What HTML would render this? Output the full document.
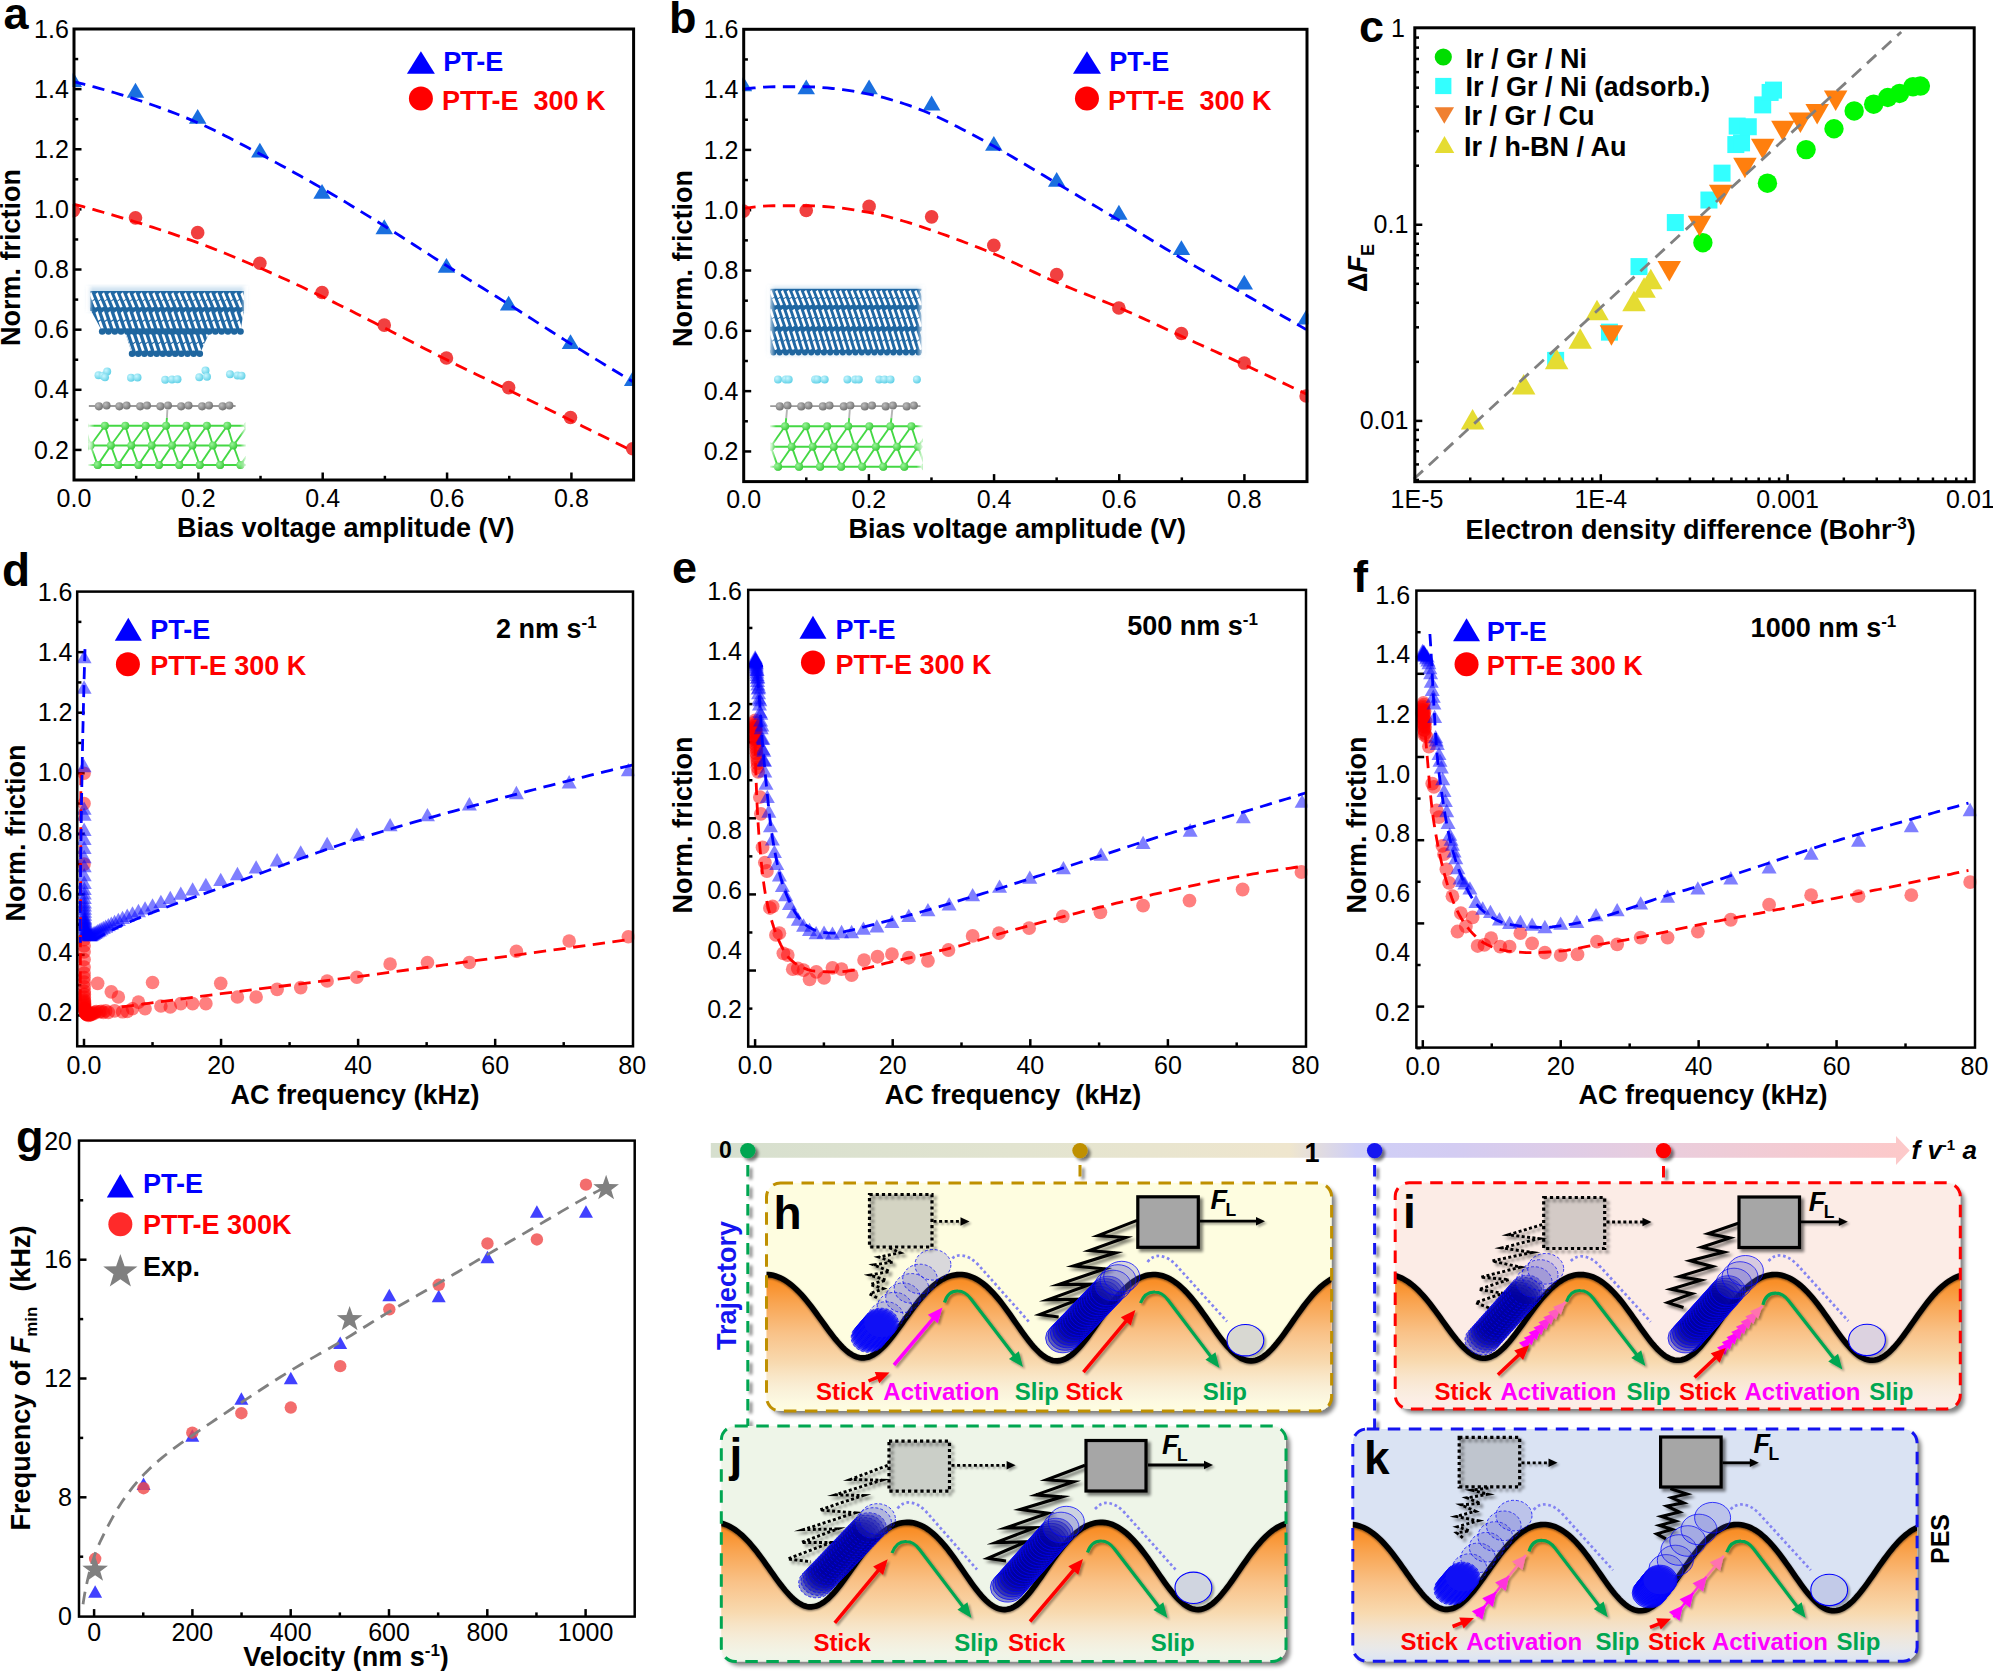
<!DOCTYPE html>
<html><head><meta charset="utf-8"><title>Figure</title>
<style>html,body{margin:0;padding:0;background:#fff}body{width:1993px;height:1671px;overflow:hidden}svg{display:block}</style>
</head><body>
<svg width="1993" height="1671" viewBox="0 0 1993 1671" font-family="'Liberation Sans', sans-serif">
<defs>
<filter id="sh" x="-30%" y="-30%" width="170%" height="170%"><feGaussianBlur in="SourceAlpha" stdDeviation="1.4"/><feOffset dx="2.6" dy="2.6"/><feComponentTransfer><feFuncA type="linear" slope="0.5"/></feComponentTransfer><feMerge><feMergeNode/><feMergeNode in="SourceGraphic"/></feMerge></filter>
<filter id="sh1" x="-30%" y="-30%" width="170%" height="170%"><feGaussianBlur in="SourceAlpha" stdDeviation="1.2"/><feOffset dx="2" dy="2"/><feComponentTransfer><feFuncA type="linear" slope="0.35"/></feComponentTransfer><feMerge><feMergeNode/><feMergeNode in="SourceGraphic"/></feMerge></filter>
<filter id="shw" filterUnits="userSpaceOnUse" x="600" y="1100" width="1400" height="600"><feGaussianBlur in="SourceAlpha" stdDeviation="1.1"/><feOffset dx="0" dy="1.2"/><feComponentTransfer><feFuncA type="linear" slope="0.55"/></feComponentTransfer><feMerge><feMergeNode/><feMergeNode in="SourceGraphic"/></feMerge></filter>
<filter id="shp" x="-5%" y="-10%" width="112%" height="125%"><feGaussianBlur in="SourceAlpha" stdDeviation="2.2"/><feOffset dx="3.5" dy="3.5"/><feComponentTransfer><feFuncA type="linear" slope="0.5"/></feComponentTransfer><feMerge><feMergeNode/><feMergeNode in="SourceGraphic"/></feMerge></filter>
<filter id="shu" filterUnits="userSpaceOnUse" x="600" y="1100" width="1400" height="600"><feGaussianBlur in="SourceAlpha" stdDeviation="1.4"/><feOffset dx="2.6" dy="2.6"/><feComponentTransfer><feFuncA type="linear" slope="0.5"/></feComponentTransfer><feMerge><feMergeNode/><feMergeNode in="SourceGraphic"/></feMerge></filter>
<linearGradient id="fadeL" x1="0" x2="1" y1="0" y2="0"><stop offset="0" stop-color="#fff" stop-opacity="1"/><stop offset="1" stop-color="#fff" stop-opacity="0"/></linearGradient>
<linearGradient id="fadeR" x1="0" x2="1" y1="0" y2="0"><stop offset="0" stop-color="#fff" stop-opacity="0"/><stop offset="1" stop-color="#fff" stop-opacity="1"/></linearGradient>
<filter id="blur2"><feGaussianBlur stdDeviation="2"/></filter>
<radialGradient id="gcy" cx="0.35" cy="0.35" r="0.7"><stop offset="0" stop-color="#C8F6FF"/><stop offset="1" stop-color="#5FD0E6"/></radialGradient>
<radialGradient id="ggr" cx="0.35" cy="0.35" r="0.7"><stop offset="0" stop-color="#BDBDBD"/><stop offset="1" stop-color="#707070"/></radialGradient>
<radialGradient id="ggn" cx="0.35" cy="0.35" r="0.7"><stop offset="0" stop-color="#9AF59A"/><stop offset="1" stop-color="#36C936"/></radialGradient>
</defs>
<rect width="1993" height="1671" fill="#fff"/>
<clipPath id="clipa"><rect x="72.6" y="27.6" width="562.4" height="453.8"/></clipPath>
<clipPath id="clipina"><rect x="89" y="280" width="157" height="190"/></clipPath>
<line x1="198.36" y1="480" x2="198.36" y2="472.5" stroke="#000" stroke-width="2.5" />
<line x1="322.71" y1="480" x2="322.71" y2="472.5" stroke="#000" stroke-width="2.5" />
<line x1="447.07" y1="480" x2="447.07" y2="472.5" stroke="#000" stroke-width="2.5" />
<line x1="571.42" y1="480" x2="571.42" y2="472.5" stroke="#000" stroke-width="2.5" />
<line x1="136.18" y1="480" x2="136.18" y2="475.8" stroke="#000" stroke-width="2.5" />
<line x1="260.53" y1="480" x2="260.53" y2="475.8" stroke="#000" stroke-width="2.5" />
<line x1="384.89" y1="480" x2="384.89" y2="475.8" stroke="#000" stroke-width="2.5" />
<line x1="509.24" y1="480" x2="509.24" y2="475.8" stroke="#000" stroke-width="2.5" />
<line x1="74" y1="89.13" x2="81.5" y2="89.13" stroke="#000" stroke-width="2.5" />
<line x1="74" y1="149.27" x2="81.5" y2="149.27" stroke="#000" stroke-width="2.5" />
<line x1="74" y1="209.4" x2="81.5" y2="209.4" stroke="#000" stroke-width="2.5" />
<line x1="74" y1="269.53" x2="81.5" y2="269.53" stroke="#000" stroke-width="2.5" />
<line x1="74" y1="329.67" x2="81.5" y2="329.67" stroke="#000" stroke-width="2.5" />
<line x1="74" y1="389.8" x2="81.5" y2="389.8" stroke="#000" stroke-width="2.5" />
<line x1="74" y1="449.93" x2="81.5" y2="449.93" stroke="#000" stroke-width="2.5" />
<line x1="74" y1="59.07" x2="78.2" y2="59.07" stroke="#000" stroke-width="2.5" />
<line x1="74" y1="119.2" x2="78.2" y2="119.2" stroke="#000" stroke-width="2.5" />
<line x1="74" y1="179.33" x2="78.2" y2="179.33" stroke="#000" stroke-width="2.5" />
<line x1="74" y1="239.47" x2="78.2" y2="239.47" stroke="#000" stroke-width="2.5" />
<line x1="74" y1="299.6" x2="78.2" y2="299.6" stroke="#000" stroke-width="2.5" />
<line x1="74" y1="359.73" x2="78.2" y2="359.73" stroke="#000" stroke-width="2.5" />
<line x1="74" y1="419.87" x2="78.2" y2="419.87" stroke="#000" stroke-width="2.5" />
<text x="74" y="506.6" font-size="25" fill="#000" text-anchor="middle" >0.0</text>
<text x="198.36" y="506.6" font-size="25" fill="#000" text-anchor="middle" >0.2</text>
<text x="322.71" y="506.6" font-size="25" fill="#000" text-anchor="middle" >0.4</text>
<text x="447.07" y="506.6" font-size="25" fill="#000" text-anchor="middle" >0.6</text>
<text x="571.42" y="506.6" font-size="25" fill="#000" text-anchor="middle" >0.8</text>
<text x="68.8" y="37.6" font-size="25" fill="#000" text-anchor="end" >1.6</text>
<text x="68.8" y="97.73" font-size="25" fill="#000" text-anchor="end" >1.4</text>
<text x="68.8" y="157.87" font-size="25" fill="#000" text-anchor="end" >1.2</text>
<text x="68.8" y="218" font-size="25" fill="#000" text-anchor="end" >1.0</text>
<text x="68.8" y="278.13" font-size="25" fill="#000" text-anchor="end" >0.8</text>
<text x="68.8" y="338.27" font-size="25" fill="#000" text-anchor="end" >0.6</text>
<text x="68.8" y="398.4" font-size="25" fill="#000" text-anchor="end" >0.4</text>
<text x="68.8" y="458.53" font-size="25" fill="#000" text-anchor="end" >0.2</text>
<text x="345.8" y="536.5" font-size="27" font-weight="bold" fill="#000" text-anchor="middle" >Bias voltage amplitude (V)</text>
<text x="20" y="257.5" font-size="27" font-weight="bold" fill="#000" text-anchor="middle" transform="rotate(-90 20 257.5)" >Norm. friction</text>
<text x="3.5" y="28.5" font-size="45" font-weight="bold" fill="#000" text-anchor="start" >a</text>
<g clip-path="url(#clipa)">
<circle cx="73.29" cy="210.78" r="6.8" fill="#F14040" fill-opacity="1" />
<circle cx="135.48" cy="217.84" r="6.8" fill="#F14040" fill-opacity="1" />
<circle cx="197.67" cy="232.64" r="6.8" fill="#F14040" fill-opacity="1" />
<circle cx="259.87" cy="263.23" r="6.8" fill="#F14040" fill-opacity="1" />
<circle cx="322.06" cy="292.48" r="6.8" fill="#F14040" fill-opacity="1" />
<circle cx="384.25" cy="325.09" r="6.8" fill="#F14040" fill-opacity="1" />
<circle cx="446.45" cy="358.03" r="6.8" fill="#F14040" fill-opacity="1" />
<circle cx="508.64" cy="387.62" r="6.8" fill="#F14040" fill-opacity="1" />
<circle cx="570.5" cy="417.54" r="6.8" fill="#F14040" fill-opacity="1" />
<circle cx="632.69" cy="448.8" r="6.8" fill="#F14040" fill-opacity="1" />
<path d="M64.54 86.88 L82.04 86.88 L73.29 72.08 Z" fill="#1A6FDF" fill-opacity="1" />
<path d="M126.73 97.64 L144.23 97.64 L135.48 82.84 Z" fill="#1A6FDF" fill-opacity="1" />
<path d="M188.92 123.86 L206.42 123.86 L197.67 109.06 Z" fill="#1A6FDF" fill-opacity="1" />
<path d="M251.12 157.48 L268.62 157.48 L259.87 142.68 Z" fill="#1A6FDF" fill-opacity="1" />
<path d="M313.31 198.83 L330.81 198.83 L322.06 184.03 Z" fill="#1A6FDF" fill-opacity="1" />
<path d="M375.5 234.13 L393 234.13 L384.25 219.33 Z" fill="#1A6FDF" fill-opacity="1" />
<path d="M437.7 272.79 L455.2 272.79 L446.45 257.99 Z" fill="#1A6FDF" fill-opacity="1" />
<path d="M499.89 310.44 L517.39 310.44 L508.64 295.64 Z" fill="#1A6FDF" fill-opacity="1" />
<path d="M561.75 349.1 L579.25 349.1 L570.5 334.3 Z" fill="#1A6FDF" fill-opacity="1" />
<path d="M623.94 386.08 L641.44 386.08 L632.69 371.28 Z" fill="#1A6FDF" fill-opacity="1" />
<path d="M73.29 204.06 L78.27 205.38 L83.25 206.72 L88.22 208.07 L93.18 209.45 L98.14 210.84 L103.1 212.24 L108.05 213.67 L112.99 215.11 L117.93 216.56 L122.86 218.04 L127.79 219.52 L132.72 221.03 L137.63 222.55 L142.55 224.08 L147.46 225.63 L152.37 227.2 L157.27 228.78 L162.17 230.39 L167.06 232.01 L171.94 233.65 L176.82 235.32 L181.69 237 L186.55 238.71 L191.39 240.44 L196.23 242.19 L201.06 243.97 L205.87 245.79 L210.68 247.63 L215.48 249.5 L220.27 251.4 L225.05 253.32 L229.82 255.26 L234.59 257.22 L239.34 259.21 L244.1 261.2 L248.84 263.21 L253.58 265.23 L258.31 267.26 L263.03 269.3 L267.75 271.37 L272.46 273.45 L277.16 275.55 L281.85 277.67 L286.54 279.81 L291.22 281.96 L295.9 284.12 L300.57 286.3 L305.23 288.5 L309.89 290.7 L314.54 292.91 L319.18 295.13 L323.82 297.36 L328.45 299.61 L333.08 301.87 L337.69 304.16 L342.3 306.45 L346.9 308.76 L351.5 311.09 L356.1 313.42 L360.69 315.75 L365.27 318.09 L369.86 320.44 L374.45 322.78 L379.04 325.12 L383.63 327.46 L388.22 329.79 L392.8 332.14 L397.38 334.5 L401.95 336.86 L406.53 339.23 L411.1 341.6 L415.67 343.98 L420.24 346.34 L424.82 348.71 L429.4 351.06 L433.98 353.41 L438.57 355.75 L443.17 358.07 L447.77 360.37 L452.38 362.66 L457 364.94 L461.63 367.21 L466.26 369.46 L470.89 371.71 L475.53 373.96 L480.16 376.2 L484.8 378.43 L489.44 380.67 L494.08 382.91 L498.72 385.15 L503.35 387.4 L507.98 389.65 L512.61 391.91 L517.24 394.16 L521.87 396.42 L526.5 398.68 L531.13 400.94 L535.76 403.19 L540.38 405.45 L545.01 407.72 L549.64 409.98 L554.26 412.24 L558.89 414.51 L563.51 416.78 L568.13 419.06 L572.75 421.33 L577.37 423.61 L581.98 425.9 L586.6 428.18 L591.21 430.47 L595.82 432.76 L600.44 435.05 L605.05 437.34 L609.66 439.64 L614.27 441.94 L618.87 444.24 L623.48 446.54 L628.09 448.85 L632.69 451.15" stroke="#FF0000" stroke-width="2.8" fill="none" stroke-dasharray="12.3 7.5" />
<path d="M73.29 81.69 L78.51 82.94 L83.72 84.23 L88.93 85.56 L94.11 86.93 L99.29 88.33 L104.46 89.77 L109.61 91.24 L114.75 92.75 L119.88 94.29 L124.99 95.85 L130.1 97.45 L135.19 99.08 L140.27 100.74 L145.35 102.45 L150.41 104.2 L155.47 105.99 L160.52 107.83 L165.55 109.7 L170.57 111.61 L175.57 113.56 L180.55 115.55 L185.52 117.57 L190.46 119.63 L195.38 121.72 L200.28 123.84 L205.15 126.04 L210 128.29 L214.82 130.61 L219.63 132.97 L224.42 135.38 L229.2 137.82 L233.97 140.29 L238.72 142.78 L243.47 145.29 L248.21 147.8 L252.95 150.32 L257.69 152.82 L262.43 155.32 L267.16 157.83 L271.89 160.35 L276.61 162.89 L281.32 165.44 L286.03 168.01 L290.73 170.59 L295.42 173.18 L300.1 175.79 L304.77 178.41 L309.44 181.04 L314.1 183.69 L318.75 186.35 L323.39 189.03 L328.01 191.72 L332.63 194.43 L337.24 197.16 L341.84 199.91 L346.44 202.67 L351.02 205.45 L355.6 208.23 L360.17 211.03 L364.74 213.83 L369.3 216.65 L373.86 219.46 L378.41 222.29 L382.97 225.11 L387.51 227.95 L392.05 230.79 L396.58 233.66 L401.1 236.53 L405.61 239.42 L410.12 242.32 L414.63 245.22 L419.13 248.12 L423.64 251.02 L428.14 253.92 L432.65 256.81 L437.17 259.7 L441.69 262.58 L446.22 265.44 L450.76 268.29 L455.3 271.13 L459.85 273.96 L464.4 276.79 L468.95 279.61 L473.51 282.43 L478.07 285.24 L482.63 288.06 L487.18 290.88 L491.74 293.7 L496.29 296.53 L500.84 299.36 L505.38 302.2 L509.92 305.05 L514.45 307.91 L518.97 310.78 L523.49 313.66 L528.01 316.55 L532.52 319.44 L537.03 322.33 L541.54 325.22 L546.06 328.11 L550.57 330.99 L555.09 333.87 L559.62 336.74 L564.15 339.6 L568.69 342.45 L573.23 345.28 L577.78 348.11 L582.34 350.93 L586.9 353.74 L591.46 356.55 L596.03 359.35 L600.6 362.15 L605.17 364.94 L609.75 367.73 L614.33 370.51 L618.91 373.28 L623.5 376.05 L628.09 378.81 L632.69 381.56" stroke="#0000FF" stroke-width="2.8" fill="none" stroke-dasharray="12.3 7.5" />
</g>
<path d="M406.9 73.75 L434.9 73.75 L420.9 51.25 Z" fill="#0000FF" fill-opacity="1" />
<circle cx="420.9" cy="98.4" r="12" fill="#FF0000" fill-opacity="1" />
<text x="443.2" y="71" font-size="27" font-weight="bold" fill="#0000FF" text-anchor="start" >PT-E</text>
<text x="441.9" y="109.6" font-size="27" font-weight="bold" fill="#FF0000" text-anchor="start" >PTT-E&#160;&#160;300 K</text>
<rect x="88" y="287" width="158" height="24" fill="#8FBBDD" opacity="0.45" filter="url(#blur2)"/>
<clipPath id="bb1"><path d="M90.2 291 L244 291 L244 309.3 L90.2 309.3 Z"/></clipPath>
<g clip-path="url(#bb1)">
<rect x="90.2" y="291" width="153.8" height="18.3" fill="#2068A4"/>
<path d="M89.2 293.9 L91.4 292.3 L94.2 299.08 L92 300.68 Z" fill="#fff"/>
<path d="M95.5 293.9 L97.7 292.3 L100.5 299.08 L98.3 300.68 Z" fill="#fff"/>
<path d="M101.8 293.9 L104 292.3 L106.8 299.08 L104.6 300.68 Z" fill="#fff"/>
<path d="M108.1 293.9 L110.3 292.3 L113.1 299.08 L110.9 300.68 Z" fill="#fff"/>
<path d="M114.4 293.9 L116.6 292.3 L119.4 299.08 L117.2 300.68 Z" fill="#fff"/>
<path d="M120.7 293.9 L122.9 292.3 L125.7 299.08 L123.5 300.68 Z" fill="#fff"/>
<path d="M127 293.9 L129.2 292.3 L132 299.08 L129.8 300.68 Z" fill="#fff"/>
<path d="M133.3 293.9 L135.5 292.3 L138.3 299.08 L136.1 300.68 Z" fill="#fff"/>
<path d="M139.6 293.9 L141.8 292.3 L144.6 299.08 L142.4 300.68 Z" fill="#fff"/>
<path d="M145.9 293.9 L148.1 292.3 L150.9 299.08 L148.7 300.68 Z" fill="#fff"/>
<path d="M152.2 293.9 L154.4 292.3 L157.2 299.08 L155 300.68 Z" fill="#fff"/>
<path d="M158.5 293.9 L160.7 292.3 L163.5 299.08 L161.3 300.68 Z" fill="#fff"/>
<path d="M164.8 293.9 L167 292.3 L169.8 299.08 L167.6 300.68 Z" fill="#fff"/>
<path d="M171.1 293.9 L173.3 292.3 L176.1 299.08 L173.9 300.68 Z" fill="#fff"/>
<path d="M177.4 293.9 L179.6 292.3 L182.4 299.08 L180.2 300.68 Z" fill="#fff"/>
<path d="M183.7 293.9 L185.9 292.3 L188.7 299.08 L186.5 300.68 Z" fill="#fff"/>
<path d="M190 293.9 L192.2 292.3 L195 299.08 L192.8 300.68 Z" fill="#fff"/>
<path d="M196.3 293.9 L198.5 292.3 L201.3 299.08 L199.1 300.68 Z" fill="#fff"/>
<path d="M202.6 293.9 L204.8 292.3 L207.6 299.08 L205.4 300.68 Z" fill="#fff"/>
<path d="M208.9 293.9 L211.1 292.3 L213.9 299.08 L211.7 300.68 Z" fill="#fff"/>
<path d="M215.2 293.9 L217.4 292.3 L220.2 299.08 L218 300.68 Z" fill="#fff"/>
<path d="M221.5 293.9 L223.7 292.3 L226.5 299.08 L224.3 300.68 Z" fill="#fff"/>
<path d="M227.8 293.9 L230 292.3 L232.8 299.08 L230.6 300.68 Z" fill="#fff"/>
<path d="M234.1 293.9 L236.3 292.3 L239.1 299.08 L236.9 300.68 Z" fill="#fff"/>
<path d="M240.4 293.9 L242.6 292.3 L245.4 299.08 L243.2 300.68 Z" fill="#fff"/>
<path d="M246.7 293.9 L248.9 292.3 L251.7 299.08 L249.5 300.68 Z" fill="#fff"/>
<path d="M92.35 301.59 L94.55 299.99 L97.35 306.76 L95.15 308.36 Z" fill="#fff"/>
<path d="M98.65 301.59 L100.85 299.99 L103.65 306.76 L101.45 308.36 Z" fill="#fff"/>
<path d="M104.95 301.59 L107.15 299.99 L109.95 306.76 L107.75 308.36 Z" fill="#fff"/>
<path d="M111.25 301.59 L113.45 299.99 L116.25 306.76 L114.05 308.36 Z" fill="#fff"/>
<path d="M117.55 301.59 L119.75 299.99 L122.55 306.76 L120.35 308.36 Z" fill="#fff"/>
<path d="M123.85 301.59 L126.05 299.99 L128.85 306.76 L126.65 308.36 Z" fill="#fff"/>
<path d="M130.15 301.59 L132.35 299.99 L135.15 306.76 L132.95 308.36 Z" fill="#fff"/>
<path d="M136.45 301.59 L138.65 299.99 L141.45 306.76 L139.25 308.36 Z" fill="#fff"/>
<path d="M142.75 301.59 L144.95 299.99 L147.75 306.76 L145.55 308.36 Z" fill="#fff"/>
<path d="M149.05 301.59 L151.25 299.99 L154.05 306.76 L151.85 308.36 Z" fill="#fff"/>
<path d="M155.35 301.59 L157.55 299.99 L160.35 306.76 L158.15 308.36 Z" fill="#fff"/>
<path d="M161.65 301.59 L163.85 299.99 L166.65 306.76 L164.45 308.36 Z" fill="#fff"/>
<path d="M167.95 301.59 L170.15 299.99 L172.95 306.76 L170.75 308.36 Z" fill="#fff"/>
<path d="M174.25 301.59 L176.45 299.99 L179.25 306.76 L177.05 308.36 Z" fill="#fff"/>
<path d="M180.55 301.59 L182.75 299.99 L185.55 306.76 L183.35 308.36 Z" fill="#fff"/>
<path d="M186.85 301.59 L189.05 299.99 L191.85 306.76 L189.65 308.36 Z" fill="#fff"/>
<path d="M193.15 301.59 L195.35 299.99 L198.15 306.76 L195.95 308.36 Z" fill="#fff"/>
<path d="M199.45 301.59 L201.65 299.99 L204.45 306.76 L202.25 308.36 Z" fill="#fff"/>
<path d="M205.75 301.59 L207.95 299.99 L210.75 306.76 L208.55 308.36 Z" fill="#fff"/>
<path d="M212.05 301.59 L214.25 299.99 L217.05 306.76 L214.85 308.36 Z" fill="#fff"/>
<path d="M218.35 301.59 L220.55 299.99 L223.35 306.76 L221.15 308.36 Z" fill="#fff"/>
<path d="M224.65 301.59 L226.85 299.99 L229.65 306.76 L227.45 308.36 Z" fill="#fff"/>
<path d="M230.95 301.59 L233.15 299.99 L235.95 306.76 L233.75 308.36 Z" fill="#fff"/>
<path d="M237.25 301.59 L239.45 299.99 L242.25 306.76 L240.05 308.36 Z" fill="#fff"/>
<path d="M243.55 301.59 L245.75 299.99 L248.55 306.76 L246.35 308.36 Z" fill="#fff"/>
<path d="M249.85 301.59 L252.05 299.99 L254.85 306.76 L252.65 308.36 Z" fill="#fff"/>
</g>
<clipPath id="bb2"><path d="M90.2 309.3 L244 309.3 L240.5 331.5 L102.2 331.5 Z"/></clipPath>
<g clip-path="url(#bb2)">
<rect x="90.2" y="309.3" width="153.8" height="22.2" fill="#2068A4"/>
<path d="M89.2 312.65 L91.4 311.05 L94.2 319.27 L92 320.87 Z" fill="#fff"/>
<path d="M95.5 312.65 L97.7 311.05 L100.5 319.27 L98.3 320.87 Z" fill="#fff"/>
<path d="M101.8 312.65 L104 311.05 L106.8 319.27 L104.6 320.87 Z" fill="#fff"/>
<path d="M108.1 312.65 L110.3 311.05 L113.1 319.27 L110.9 320.87 Z" fill="#fff"/>
<path d="M114.4 312.65 L116.6 311.05 L119.4 319.27 L117.2 320.87 Z" fill="#fff"/>
<path d="M120.7 312.65 L122.9 311.05 L125.7 319.27 L123.5 320.87 Z" fill="#fff"/>
<path d="M127 312.65 L129.2 311.05 L132 319.27 L129.8 320.87 Z" fill="#fff"/>
<path d="M133.3 312.65 L135.5 311.05 L138.3 319.27 L136.1 320.87 Z" fill="#fff"/>
<path d="M139.6 312.65 L141.8 311.05 L144.6 319.27 L142.4 320.87 Z" fill="#fff"/>
<path d="M145.9 312.65 L148.1 311.05 L150.9 319.27 L148.7 320.87 Z" fill="#fff"/>
<path d="M152.2 312.65 L154.4 311.05 L157.2 319.27 L155 320.87 Z" fill="#fff"/>
<path d="M158.5 312.65 L160.7 311.05 L163.5 319.27 L161.3 320.87 Z" fill="#fff"/>
<path d="M164.8 312.65 L167 311.05 L169.8 319.27 L167.6 320.87 Z" fill="#fff"/>
<path d="M171.1 312.65 L173.3 311.05 L176.1 319.27 L173.9 320.87 Z" fill="#fff"/>
<path d="M177.4 312.65 L179.6 311.05 L182.4 319.27 L180.2 320.87 Z" fill="#fff"/>
<path d="M183.7 312.65 L185.9 311.05 L188.7 319.27 L186.5 320.87 Z" fill="#fff"/>
<path d="M190 312.65 L192.2 311.05 L195 319.27 L192.8 320.87 Z" fill="#fff"/>
<path d="M196.3 312.65 L198.5 311.05 L201.3 319.27 L199.1 320.87 Z" fill="#fff"/>
<path d="M202.6 312.65 L204.8 311.05 L207.6 319.27 L205.4 320.87 Z" fill="#fff"/>
<path d="M208.9 312.65 L211.1 311.05 L213.9 319.27 L211.7 320.87 Z" fill="#fff"/>
<path d="M215.2 312.65 L217.4 311.05 L220.2 319.27 L218 320.87 Z" fill="#fff"/>
<path d="M221.5 312.65 L223.7 311.05 L226.5 319.27 L224.3 320.87 Z" fill="#fff"/>
<path d="M227.8 312.65 L230 311.05 L232.8 319.27 L230.6 320.87 Z" fill="#fff"/>
<path d="M234.1 312.65 L236.3 311.05 L239.1 319.27 L236.9 320.87 Z" fill="#fff"/>
<path d="M240.4 312.65 L242.6 311.05 L245.4 319.27 L243.2 320.87 Z" fill="#fff"/>
<path d="M246.7 312.65 L248.9 311.05 L251.7 319.27 L249.5 320.87 Z" fill="#fff"/>
<path d="M92.35 321.98 L94.55 320.38 L97.35 328.59 L95.15 330.19 Z" fill="#fff"/>
<path d="M98.65 321.98 L100.85 320.38 L103.65 328.59 L101.45 330.19 Z" fill="#fff"/>
<path d="M104.95 321.98 L107.15 320.38 L109.95 328.59 L107.75 330.19 Z" fill="#fff"/>
<path d="M111.25 321.98 L113.45 320.38 L116.25 328.59 L114.05 330.19 Z" fill="#fff"/>
<path d="M117.55 321.98 L119.75 320.38 L122.55 328.59 L120.35 330.19 Z" fill="#fff"/>
<path d="M123.85 321.98 L126.05 320.38 L128.85 328.59 L126.65 330.19 Z" fill="#fff"/>
<path d="M130.15 321.98 L132.35 320.38 L135.15 328.59 L132.95 330.19 Z" fill="#fff"/>
<path d="M136.45 321.98 L138.65 320.38 L141.45 328.59 L139.25 330.19 Z" fill="#fff"/>
<path d="M142.75 321.98 L144.95 320.38 L147.75 328.59 L145.55 330.19 Z" fill="#fff"/>
<path d="M149.05 321.98 L151.25 320.38 L154.05 328.59 L151.85 330.19 Z" fill="#fff"/>
<path d="M155.35 321.98 L157.55 320.38 L160.35 328.59 L158.15 330.19 Z" fill="#fff"/>
<path d="M161.65 321.98 L163.85 320.38 L166.65 328.59 L164.45 330.19 Z" fill="#fff"/>
<path d="M167.95 321.98 L170.15 320.38 L172.95 328.59 L170.75 330.19 Z" fill="#fff"/>
<path d="M174.25 321.98 L176.45 320.38 L179.25 328.59 L177.05 330.19 Z" fill="#fff"/>
<path d="M180.55 321.98 L182.75 320.38 L185.55 328.59 L183.35 330.19 Z" fill="#fff"/>
<path d="M186.85 321.98 L189.05 320.38 L191.85 328.59 L189.65 330.19 Z" fill="#fff"/>
<path d="M193.15 321.98 L195.35 320.38 L198.15 328.59 L195.95 330.19 Z" fill="#fff"/>
<path d="M199.45 321.98 L201.65 320.38 L204.45 328.59 L202.25 330.19 Z" fill="#fff"/>
<path d="M205.75 321.98 L207.95 320.38 L210.75 328.59 L208.55 330.19 Z" fill="#fff"/>
<path d="M212.05 321.98 L214.25 320.38 L217.05 328.59 L214.85 330.19 Z" fill="#fff"/>
<path d="M218.35 321.98 L220.55 320.38 L223.35 328.59 L221.15 330.19 Z" fill="#fff"/>
<path d="M224.65 321.98 L226.85 320.38 L229.65 328.59 L227.45 330.19 Z" fill="#fff"/>
<path d="M230.95 321.98 L233.15 320.38 L235.95 328.59 L233.75 330.19 Z" fill="#fff"/>
<path d="M237.25 321.98 L239.45 320.38 L242.25 328.59 L240.05 330.19 Z" fill="#fff"/>
<path d="M243.55 321.98 L245.75 320.38 L248.55 328.59 L246.35 330.19 Z" fill="#fff"/>
<path d="M249.85 321.98 L252.05 320.38 L254.85 328.59 L252.65 330.19 Z" fill="#fff"/>
</g>
<clipPath id="bb3"><path d="M124.9 331.5 L210 331.5 L199.8 353.7 L132.1 353.7 Z"/></clipPath>
<g clip-path="url(#bb3)">
<rect x="124.9" y="331.5" width="85.1" height="22.2" fill="#2068A4"/>
<path d="M123.9 334.85 L126.1 333.25 L128.9 341.47 L126.7 343.07 Z" fill="#fff"/>
<path d="M130.2 334.85 L132.4 333.25 L135.2 341.47 L133 343.07 Z" fill="#fff"/>
<path d="M136.5 334.85 L138.7 333.25 L141.5 341.47 L139.3 343.07 Z" fill="#fff"/>
<path d="M142.8 334.85 L145 333.25 L147.8 341.47 L145.6 343.07 Z" fill="#fff"/>
<path d="M149.1 334.85 L151.3 333.25 L154.1 341.47 L151.9 343.07 Z" fill="#fff"/>
<path d="M155.4 334.85 L157.6 333.25 L160.4 341.47 L158.2 343.07 Z" fill="#fff"/>
<path d="M161.7 334.85 L163.9 333.25 L166.7 341.47 L164.5 343.07 Z" fill="#fff"/>
<path d="M168 334.85 L170.2 333.25 L173 341.47 L170.8 343.07 Z" fill="#fff"/>
<path d="M174.3 334.85 L176.5 333.25 L179.3 341.47 L177.1 343.07 Z" fill="#fff"/>
<path d="M180.6 334.85 L182.8 333.25 L185.6 341.47 L183.4 343.07 Z" fill="#fff"/>
<path d="M186.9 334.85 L189.1 333.25 L191.9 341.47 L189.7 343.07 Z" fill="#fff"/>
<path d="M193.2 334.85 L195.4 333.25 L198.2 341.47 L196 343.07 Z" fill="#fff"/>
<path d="M199.5 334.85 L201.7 333.25 L204.5 341.47 L202.3 343.07 Z" fill="#fff"/>
<path d="M205.8 334.85 L208 333.25 L210.8 341.47 L208.6 343.07 Z" fill="#fff"/>
<path d="M212.1 334.85 L214.3 333.25 L217.1 341.47 L214.9 343.07 Z" fill="#fff"/>
<path d="M127.05 344.18 L129.25 342.58 L132.05 350.79 L129.85 352.39 Z" fill="#fff"/>
<path d="M133.35 344.18 L135.55 342.58 L138.35 350.79 L136.15 352.39 Z" fill="#fff"/>
<path d="M139.65 344.18 L141.85 342.58 L144.65 350.79 L142.45 352.39 Z" fill="#fff"/>
<path d="M145.95 344.18 L148.15 342.58 L150.95 350.79 L148.75 352.39 Z" fill="#fff"/>
<path d="M152.25 344.18 L154.45 342.58 L157.25 350.79 L155.05 352.39 Z" fill="#fff"/>
<path d="M158.55 344.18 L160.75 342.58 L163.55 350.79 L161.35 352.39 Z" fill="#fff"/>
<path d="M164.85 344.18 L167.05 342.58 L169.85 350.79 L167.65 352.39 Z" fill="#fff"/>
<path d="M171.15 344.18 L173.35 342.58 L176.15 350.79 L173.95 352.39 Z" fill="#fff"/>
<path d="M177.45 344.18 L179.65 342.58 L182.45 350.79 L180.25 352.39 Z" fill="#fff"/>
<path d="M183.75 344.18 L185.95 342.58 L188.75 350.79 L186.55 352.39 Z" fill="#fff"/>
<path d="M190.05 344.18 L192.25 342.58 L195.05 350.79 L192.85 352.39 Z" fill="#fff"/>
<path d="M196.35 344.18 L198.55 342.58 L201.35 350.79 L199.15 352.39 Z" fill="#fff"/>
<path d="M202.65 344.18 L204.85 342.58 L207.65 350.79 L205.45 352.39 Z" fill="#fff"/>
<path d="M208.95 344.18 L211.15 342.58 L213.95 350.79 L211.75 352.39 Z" fill="#fff"/>
<path d="M215.25 344.18 L217.45 342.58 L220.25 350.79 L218.05 352.39 Z" fill="#fff"/>
</g>
<line x1="90.2" y1="309.3" x2="244" y2="309.3" stroke="#1F669F" stroke-width="3.4" />
<line x1="102.2" y1="331.5" x2="240.5" y2="331.5" stroke="#1F669F" stroke-width="2.2" />
<circle cx="102.2" cy="331.5" r="3.3" fill="#1F669F" fill-opacity="1" />
<circle cx="108.49" cy="331.5" r="3.3" fill="#1F669F" fill-opacity="1" />
<circle cx="114.77" cy="331.5" r="3.3" fill="#1F669F" fill-opacity="1" />
<circle cx="121.06" cy="331.5" r="3.3" fill="#1F669F" fill-opacity="1" />
<circle cx="127.35" cy="331.5" r="3.3" fill="#1F669F" fill-opacity="1" />
<circle cx="133.63" cy="331.5" r="3.3" fill="#1F669F" fill-opacity="1" />
<circle cx="139.92" cy="331.5" r="3.3" fill="#1F669F" fill-opacity="1" />
<circle cx="146.2" cy="331.5" r="3.3" fill="#1F669F" fill-opacity="1" />
<circle cx="152.49" cy="331.5" r="3.3" fill="#1F669F" fill-opacity="1" />
<circle cx="158.78" cy="331.5" r="3.3" fill="#1F669F" fill-opacity="1" />
<circle cx="165.06" cy="331.5" r="3.3" fill="#1F669F" fill-opacity="1" />
<circle cx="171.35" cy="331.5" r="3.3" fill="#1F669F" fill-opacity="1" />
<circle cx="177.64" cy="331.5" r="3.3" fill="#1F669F" fill-opacity="1" />
<circle cx="183.92" cy="331.5" r="3.3" fill="#1F669F" fill-opacity="1" />
<circle cx="190.21" cy="331.5" r="3.3" fill="#1F669F" fill-opacity="1" />
<circle cx="196.5" cy="331.5" r="3.3" fill="#1F669F" fill-opacity="1" />
<circle cx="202.78" cy="331.5" r="3.3" fill="#1F669F" fill-opacity="1" />
<circle cx="209.07" cy="331.5" r="3.3" fill="#1F669F" fill-opacity="1" />
<circle cx="215.35" cy="331.5" r="3.3" fill="#1F669F" fill-opacity="1" />
<circle cx="221.64" cy="331.5" r="3.3" fill="#1F669F" fill-opacity="1" />
<circle cx="227.93" cy="331.5" r="3.3" fill="#1F669F" fill-opacity="1" />
<circle cx="234.21" cy="331.5" r="3.3" fill="#1F669F" fill-opacity="1" />
<circle cx="240.5" cy="331.5" r="3.3" fill="#1F669F" fill-opacity="1" />
<line x1="132.1" y1="353.7" x2="199.8" y2="353.7" stroke="#1F669F" stroke-width="2.2" />
<circle cx="132.1" cy="353.7" r="3.3" fill="#1F669F" fill-opacity="1" />
<circle cx="138.25" cy="353.7" r="3.3" fill="#1F669F" fill-opacity="1" />
<circle cx="144.41" cy="353.7" r="3.3" fill="#1F669F" fill-opacity="1" />
<circle cx="150.56" cy="353.7" r="3.3" fill="#1F669F" fill-opacity="1" />
<circle cx="156.72" cy="353.7" r="3.3" fill="#1F669F" fill-opacity="1" />
<circle cx="162.87" cy="353.7" r="3.3" fill="#1F669F" fill-opacity="1" />
<circle cx="169.03" cy="353.7" r="3.3" fill="#1F669F" fill-opacity="1" />
<circle cx="175.18" cy="353.7" r="3.3" fill="#1F669F" fill-opacity="1" />
<circle cx="181.34" cy="353.7" r="3.3" fill="#1F669F" fill-opacity="1" />
<circle cx="187.49" cy="353.7" r="3.3" fill="#1F669F" fill-opacity="1" />
<circle cx="193.65" cy="353.7" r="3.3" fill="#1F669F" fill-opacity="1" />
<circle cx="199.8" cy="353.7" r="3.3" fill="#1F669F" fill-opacity="1" />
<rect x="86" y="286" width="7" height="26" fill="url(#fadeL)"/>
<rect x="241" y="286" width="7" height="26" fill="url(#fadeR)"/>
<clipPath id="cla"><rect x="88.5" y="360" width="157.5" height="116"/></clipPath>
<g clip-path="url(#cla)">
<circle cx="98.5" cy="375.2" r="4" fill="url(#gcy)"/>
<circle cx="103" cy="375.8" r="4" fill="url(#gcy)"/>
<circle cx="107.2" cy="371.6" r="4" fill="url(#gcy)"/>
<circle cx="105" cy="377.3" r="4" fill="url(#gcy)"/>
<circle cx="131" cy="377.8" r="4" fill="url(#gcy)"/>
<circle cx="137.5" cy="377.4" r="4" fill="url(#gcy)"/>
<circle cx="165.2" cy="379.8" r="4" fill="url(#gcy)"/>
<circle cx="172" cy="379.4" r="4" fill="url(#gcy)"/>
<circle cx="177.5" cy="379.2" r="4" fill="url(#gcy)"/>
<circle cx="199.3" cy="377.2" r="4" fill="url(#gcy)"/>
<circle cx="205.5" cy="370.6" r="4" fill="url(#gcy)"/>
<circle cx="207" cy="376.8" r="4" fill="url(#gcy)"/>
<circle cx="230" cy="374.3" r="4" fill="url(#gcy)"/>
<circle cx="237.5" cy="375.4" r="4" fill="url(#gcy)"/>
<circle cx="241.5" cy="375.8" r="4" fill="url(#gcy)"/>
<line x1="88.7" y1="406" x2="235.6" y2="406" stroke="#9A9A9A" stroke-width="1.8" />
<circle cx="98.9" cy="406.3" r="4.1" fill="url(#ggr)"/>
<circle cx="106.6" cy="405.5" r="4.0" fill="url(#ggr)"/>
<circle cx="119.4" cy="406.3" r="4.1" fill="url(#ggr)"/>
<circle cx="126.6" cy="405.5" r="4.0" fill="url(#ggr)"/>
<circle cx="140.2" cy="406.3" r="4.1" fill="url(#ggr)"/>
<circle cx="147" cy="405.5" r="4.0" fill="url(#ggr)"/>
<circle cx="160.4" cy="406.3" r="4.1" fill="url(#ggr)"/>
<circle cx="168" cy="405.5" r="4.0" fill="url(#ggr)"/>
<circle cx="181.2" cy="406.3" r="4.1" fill="url(#ggr)"/>
<circle cx="188.5" cy="405.5" r="4.0" fill="url(#ggr)"/>
<circle cx="202.1" cy="406.3" r="4.1" fill="url(#ggr)"/>
<circle cx="209" cy="405.5" r="4.0" fill="url(#ggr)"/>
<circle cx="222.6" cy="406.3" r="4.1" fill="url(#ggr)"/>
<circle cx="229.4" cy="405.5" r="4.0" fill="url(#ggr)"/>
<line x1="167.4" y1="409.5" x2="166.9" y2="417.85" stroke="#B4B4B4" stroke-width="1.9" />
<line x1="166.9" y1="417.85" x2="166.4" y2="425.7" stroke="#44D844" stroke-width="1.9" />
<line x1="88.5" y1="425.7" x2="246" y2="425.7" stroke="#44D844" stroke-width="2.0" />
<line x1="88.5" y1="445.5" x2="246" y2="445.5" stroke="#44D844" stroke-width="2.0" />
<line x1="88.5" y1="465.1" x2="246" y2="465.1" stroke="#44D844" stroke-width="2.0" />
<line x1="84.5" y1="425.7" x2="90.5" y2="445.5" stroke="#44D844" stroke-width="1.9" />
<line x1="84.5" y1="425.7" x2="70.1" y2="445.5" stroke="#44D844" stroke-width="1.9" />
<line x1="90.5" y1="445.5" x2="77.3" y2="465.1" stroke="#44D844" stroke-width="1.9" />
<line x1="90.5" y1="445.5" x2="97.7" y2="465.1" stroke="#44D844" stroke-width="1.9" />
<line x1="104.9" y1="425.7" x2="110.9" y2="445.5" stroke="#44D844" stroke-width="1.9" />
<line x1="104.9" y1="425.7" x2="90.5" y2="445.5" stroke="#44D844" stroke-width="1.9" />
<line x1="110.9" y1="445.5" x2="97.7" y2="465.1" stroke="#44D844" stroke-width="1.9" />
<line x1="110.9" y1="445.5" x2="118.1" y2="465.1" stroke="#44D844" stroke-width="1.9" />
<line x1="125.3" y1="425.7" x2="131.3" y2="445.5" stroke="#44D844" stroke-width="1.9" />
<line x1="125.3" y1="425.7" x2="110.9" y2="445.5" stroke="#44D844" stroke-width="1.9" />
<line x1="131.3" y1="445.5" x2="118.1" y2="465.1" stroke="#44D844" stroke-width="1.9" />
<line x1="131.3" y1="445.5" x2="138.5" y2="465.1" stroke="#44D844" stroke-width="1.9" />
<line x1="145.7" y1="425.7" x2="151.7" y2="445.5" stroke="#44D844" stroke-width="1.9" />
<line x1="145.7" y1="425.7" x2="131.3" y2="445.5" stroke="#44D844" stroke-width="1.9" />
<line x1="151.7" y1="445.5" x2="138.5" y2="465.1" stroke="#44D844" stroke-width="1.9" />
<line x1="151.7" y1="445.5" x2="158.9" y2="465.1" stroke="#44D844" stroke-width="1.9" />
<line x1="166.1" y1="425.7" x2="172.1" y2="445.5" stroke="#44D844" stroke-width="1.9" />
<line x1="166.1" y1="425.7" x2="151.7" y2="445.5" stroke="#44D844" stroke-width="1.9" />
<line x1="172.1" y1="445.5" x2="158.9" y2="465.1" stroke="#44D844" stroke-width="1.9" />
<line x1="172.1" y1="445.5" x2="179.3" y2="465.1" stroke="#44D844" stroke-width="1.9" />
<line x1="186.5" y1="425.7" x2="192.5" y2="445.5" stroke="#44D844" stroke-width="1.9" />
<line x1="186.5" y1="425.7" x2="172.1" y2="445.5" stroke="#44D844" stroke-width="1.9" />
<line x1="192.5" y1="445.5" x2="179.3" y2="465.1" stroke="#44D844" stroke-width="1.9" />
<line x1="192.5" y1="445.5" x2="199.7" y2="465.1" stroke="#44D844" stroke-width="1.9" />
<line x1="206.9" y1="425.7" x2="212.9" y2="445.5" stroke="#44D844" stroke-width="1.9" />
<line x1="206.9" y1="425.7" x2="192.5" y2="445.5" stroke="#44D844" stroke-width="1.9" />
<line x1="212.9" y1="445.5" x2="199.7" y2="465.1" stroke="#44D844" stroke-width="1.9" />
<line x1="212.9" y1="445.5" x2="220.1" y2="465.1" stroke="#44D844" stroke-width="1.9" />
<line x1="227.3" y1="425.7" x2="233.3" y2="445.5" stroke="#44D844" stroke-width="1.9" />
<line x1="227.3" y1="425.7" x2="212.9" y2="445.5" stroke="#44D844" stroke-width="1.9" />
<line x1="233.3" y1="445.5" x2="220.1" y2="465.1" stroke="#44D844" stroke-width="1.9" />
<line x1="233.3" y1="445.5" x2="240.5" y2="465.1" stroke="#44D844" stroke-width="1.9" />
<line x1="247.7" y1="425.7" x2="253.7" y2="445.5" stroke="#44D844" stroke-width="1.9" />
<line x1="247.7" y1="425.7" x2="233.3" y2="445.5" stroke="#44D844" stroke-width="1.9" />
<line x1="253.7" y1="445.5" x2="240.5" y2="465.1" stroke="#44D844" stroke-width="1.9" />
<line x1="253.7" y1="445.5" x2="260.9" y2="465.1" stroke="#44D844" stroke-width="1.9" />
<circle cx="84.5" cy="425.7" r="4" fill="url(#ggn)"/>
<circle cx="90.5" cy="445.5" r="4" fill="url(#ggn)"/>
<circle cx="77.3" cy="465.1" r="4" fill="url(#ggn)" opacity="0.85"/>
<circle cx="97.7" cy="465.1" r="4" fill="url(#ggn)" opacity="0.85"/>
<circle cx="104.9" cy="425.7" r="4" fill="url(#ggn)"/>
<circle cx="110.9" cy="445.5" r="4" fill="url(#ggn)"/>
<circle cx="97.7" cy="465.1" r="4" fill="url(#ggn)" opacity="0.85"/>
<circle cx="118.1" cy="465.1" r="4" fill="url(#ggn)" opacity="0.85"/>
<circle cx="125.3" cy="425.7" r="4" fill="url(#ggn)"/>
<circle cx="131.3" cy="445.5" r="4" fill="url(#ggn)"/>
<circle cx="118.1" cy="465.1" r="4" fill="url(#ggn)" opacity="0.85"/>
<circle cx="138.5" cy="465.1" r="4" fill="url(#ggn)" opacity="0.85"/>
<circle cx="145.7" cy="425.7" r="4" fill="url(#ggn)"/>
<circle cx="151.7" cy="445.5" r="4" fill="url(#ggn)"/>
<circle cx="138.5" cy="465.1" r="4" fill="url(#ggn)" opacity="0.85"/>
<circle cx="158.9" cy="465.1" r="4" fill="url(#ggn)" opacity="0.85"/>
<circle cx="166.1" cy="425.7" r="4" fill="url(#ggn)"/>
<circle cx="172.1" cy="445.5" r="4" fill="url(#ggn)"/>
<circle cx="158.9" cy="465.1" r="4" fill="url(#ggn)" opacity="0.85"/>
<circle cx="179.3" cy="465.1" r="4" fill="url(#ggn)" opacity="0.85"/>
<circle cx="186.5" cy="425.7" r="4" fill="url(#ggn)"/>
<circle cx="192.5" cy="445.5" r="4" fill="url(#ggn)"/>
<circle cx="179.3" cy="465.1" r="4" fill="url(#ggn)" opacity="0.85"/>
<circle cx="199.7" cy="465.1" r="4" fill="url(#ggn)" opacity="0.85"/>
<circle cx="206.9" cy="425.7" r="4" fill="url(#ggn)"/>
<circle cx="212.9" cy="445.5" r="4" fill="url(#ggn)"/>
<circle cx="199.7" cy="465.1" r="4" fill="url(#ggn)" opacity="0.85"/>
<circle cx="220.1" cy="465.1" r="4" fill="url(#ggn)" opacity="0.85"/>
<circle cx="227.3" cy="425.7" r="4" fill="url(#ggn)"/>
<circle cx="233.3" cy="445.5" r="4" fill="url(#ggn)"/>
<circle cx="220.1" cy="465.1" r="4" fill="url(#ggn)" opacity="0.85"/>
<circle cx="240.5" cy="465.1" r="4" fill="url(#ggn)" opacity="0.85"/>
<circle cx="247.7" cy="425.7" r="4" fill="url(#ggn)"/>
<circle cx="253.7" cy="445.5" r="4" fill="url(#ggn)"/>
<circle cx="240.5" cy="465.1" r="4" fill="url(#ggn)" opacity="0.85"/>
<circle cx="260.9" cy="465.1" r="4" fill="url(#ggn)" opacity="0.85"/>
<rect x="87.5" y="412" width="7" height="64" fill="url(#fadeL)"/>
<rect x="240" y="412" width="7" height="64" fill="url(#fadeR)"/>
</g>
<rect x="74" y="29" width="559.6" height="451" fill="none" stroke="#000" stroke-width="3.0"/>
<clipPath id="clipb"><rect x="742.3" y="27.9" width="566.1" height="455.1"/></clipPath>
<clipPath id="clipinb"><rect x="770.7" y="280" width="151" height="190"/></clipPath>
<line x1="868.88" y1="481.6" x2="868.88" y2="474.1" stroke="#000" stroke-width="2.5" />
<line x1="994.06" y1="481.6" x2="994.06" y2="474.1" stroke="#000" stroke-width="2.5" />
<line x1="1119.23" y1="481.6" x2="1119.23" y2="474.1" stroke="#000" stroke-width="2.5" />
<line x1="1244.41" y1="481.6" x2="1244.41" y2="474.1" stroke="#000" stroke-width="2.5" />
<line x1="806.29" y1="481.6" x2="806.29" y2="477.4" stroke="#000" stroke-width="2.5" />
<line x1="931.47" y1="481.6" x2="931.47" y2="477.4" stroke="#000" stroke-width="2.5" />
<line x1="1056.64" y1="481.6" x2="1056.64" y2="477.4" stroke="#000" stroke-width="2.5" />
<line x1="1181.82" y1="481.6" x2="1181.82" y2="477.4" stroke="#000" stroke-width="2.5" />
<line x1="743.7" y1="89.61" x2="751.2" y2="89.61" stroke="#000" stroke-width="2.5" />
<line x1="743.7" y1="149.91" x2="751.2" y2="149.91" stroke="#000" stroke-width="2.5" />
<line x1="743.7" y1="210.22" x2="751.2" y2="210.22" stroke="#000" stroke-width="2.5" />
<line x1="743.7" y1="270.53" x2="751.2" y2="270.53" stroke="#000" stroke-width="2.5" />
<line x1="743.7" y1="330.83" x2="751.2" y2="330.83" stroke="#000" stroke-width="2.5" />
<line x1="743.7" y1="391.14" x2="751.2" y2="391.14" stroke="#000" stroke-width="2.5" />
<line x1="743.7" y1="451.45" x2="751.2" y2="451.45" stroke="#000" stroke-width="2.5" />
<line x1="743.7" y1="59.45" x2="747.9" y2="59.45" stroke="#000" stroke-width="2.5" />
<line x1="743.7" y1="119.76" x2="747.9" y2="119.76" stroke="#000" stroke-width="2.5" />
<line x1="743.7" y1="180.07" x2="747.9" y2="180.07" stroke="#000" stroke-width="2.5" />
<line x1="743.7" y1="240.37" x2="747.9" y2="240.37" stroke="#000" stroke-width="2.5" />
<line x1="743.7" y1="300.68" x2="747.9" y2="300.68" stroke="#000" stroke-width="2.5" />
<line x1="743.7" y1="360.99" x2="747.9" y2="360.99" stroke="#000" stroke-width="2.5" />
<line x1="743.7" y1="421.29" x2="747.9" y2="421.29" stroke="#000" stroke-width="2.5" />
<text x="743.7" y="508.2" font-size="25" fill="#000" text-anchor="middle" >0.0</text>
<text x="868.88" y="508.2" font-size="25" fill="#000" text-anchor="middle" >0.2</text>
<text x="994.06" y="508.2" font-size="25" fill="#000" text-anchor="middle" >0.4</text>
<text x="1119.23" y="508.2" font-size="25" fill="#000" text-anchor="middle" >0.6</text>
<text x="1244.41" y="508.2" font-size="25" fill="#000" text-anchor="middle" >0.8</text>
<text x="738.5" y="37.9" font-size="25" fill="#000" text-anchor="end" >1.6</text>
<text x="738.5" y="98.21" font-size="25" fill="#000" text-anchor="end" >1.4</text>
<text x="738.5" y="158.51" font-size="25" fill="#000" text-anchor="end" >1.2</text>
<text x="738.5" y="218.82" font-size="25" fill="#000" text-anchor="end" >1.0</text>
<text x="738.5" y="279.13" font-size="25" fill="#000" text-anchor="end" >0.8</text>
<text x="738.5" y="339.43" font-size="25" fill="#000" text-anchor="end" >0.6</text>
<text x="738.5" y="399.74" font-size="25" fill="#000" text-anchor="end" >0.4</text>
<text x="738.5" y="460.05" font-size="25" fill="#000" text-anchor="end" >0.2</text>
<text x="1017.35" y="538.1" font-size="27" font-weight="bold" fill="#000" text-anchor="middle" >Bias voltage amplitude (V)</text>
<text x="691.7" y="258.45" font-size="27" font-weight="bold" fill="#000" text-anchor="middle" transform="rotate(-90 691.7 258.45)" >Norm. friction</text>
<text x="669" y="32.5" font-size="45" font-weight="bold" fill="#000" text-anchor="start" >b</text>
<g clip-path="url(#clipb)">
<circle cx="743.37" cy="211.12" r="6.8" fill="#F14040" fill-opacity="1" />
<circle cx="806.24" cy="210.45" r="6.8" fill="#F14040" fill-opacity="1" />
<circle cx="869.1" cy="206.41" r="6.8" fill="#F14040" fill-opacity="1" />
<circle cx="931.63" cy="216.84" r="6.8" fill="#F14040" fill-opacity="1" />
<circle cx="993.83" cy="245.41" r="6.8" fill="#F14040" fill-opacity="1" />
<circle cx="1056.69" cy="274.66" r="6.8" fill="#F14040" fill-opacity="1" />
<circle cx="1118.89" cy="307.94" r="6.8" fill="#F14040" fill-opacity="1" />
<circle cx="1181.41" cy="333.49" r="6.8" fill="#F14040" fill-opacity="1" />
<circle cx="1244.28" cy="363.07" r="6.8" fill="#F14040" fill-opacity="1" />
<circle cx="1306.14" cy="396.02" r="6.8" fill="#F14040" fill-opacity="1" />
<path d="M734.62 91.25 L752.12 91.25 L743.37 76.45 Z" fill="#1A6FDF" fill-opacity="1" />
<path d="M797.49 94.28 L814.99 94.28 L806.24 79.48 Z" fill="#1A6FDF" fill-opacity="1" />
<path d="M860.35 94.28 L877.85 94.28 L869.1 79.48 Z" fill="#1A6FDF" fill-opacity="1" />
<path d="M922.88 110.42 L940.38 110.42 L931.63 95.62 Z" fill="#1A6FDF" fill-opacity="1" />
<path d="M985.08 150.76 L1002.58 150.76 L993.83 135.96 Z" fill="#1A6FDF" fill-opacity="1" />
<path d="M1047.94 186.73 L1065.44 186.73 L1056.69 171.93 Z" fill="#1A6FDF" fill-opacity="1" />
<path d="M1110.14 219.67 L1127.64 219.67 L1118.89 204.87 Z" fill="#1A6FDF" fill-opacity="1" />
<path d="M1172.66 254.97 L1190.16 254.97 L1181.41 240.17 Z" fill="#1A6FDF" fill-opacity="1" />
<path d="M1235.53 289.6 L1253.03 289.6 L1244.28 274.8 Z" fill="#1A6FDF" fill-opacity="1" />
<path d="M1297.39 324.56 L1314.89 324.56 L1306.14 309.76 Z" fill="#1A6FDF" fill-opacity="1" />
<path d="M743.37 208.43 L748.39 207.78 L753.41 207.17 L758.43 206.62 L763.46 206.18 L768.49 205.88 L773.52 205.74 L778.56 205.74 L783.6 205.74 L788.65 205.74 L793.69 205.74 L798.74 205.74 L803.78 205.74 L808.82 205.76 L813.87 205.91 L818.91 206.17 L823.95 206.52 L828.98 206.94 L834 207.38 L839.02 207.84 L844.03 208.38 L849.03 209.03 L854.03 209.79 L859.01 210.62 L863.98 211.51 L868.94 212.43 L873.87 213.42 L878.79 214.52 L883.7 215.71 L888.59 216.97 L893.47 218.28 L898.33 219.63 L903.18 221 L908.01 222.44 L912.82 223.96 L917.62 225.52 L922.41 227.12 L927.19 228.75 L931.95 230.39 L936.71 232.05 L941.47 233.73 L946.22 235.43 L950.96 237.15 L955.7 238.89 L960.43 240.66 L965.15 242.44 L969.87 244.25 L974.57 246.08 L979.27 247.92 L983.95 249.79 L988.62 251.68 L993.28 253.59 L997.93 255.54 L1002.55 257.54 L1007.16 259.59 L1011.75 261.67 L1016.33 263.79 L1020.9 265.93 L1025.47 268.08 L1030.04 270.23 L1034.6 272.38 L1039.18 274.52 L1043.76 276.64 L1048.35 278.72 L1052.96 280.77 L1057.58 282.77 L1062.23 284.73 L1066.89 286.66 L1071.56 288.55 L1076.25 290.43 L1080.94 292.29 L1085.63 294.14 L1090.33 295.99 L1095.02 297.84 L1099.71 299.7 L1104.39 301.58 L1109.06 303.48 L1113.72 305.41 L1118.36 307.38 L1122.99 309.38 L1127.6 311.41 L1132.21 313.47 L1136.8 315.55 L1141.39 317.64 L1145.97 319.75 L1150.55 321.87 L1155.12 324 L1159.7 326.13 L1164.27 328.26 L1168.85 330.39 L1173.42 332.51 L1178.01 334.62 L1182.59 336.72 L1187.18 338.8 L1191.78 340.89 L1196.37 342.97 L1200.97 345.04 L1205.57 347.12 L1210.17 349.19 L1214.76 351.27 L1219.36 353.35 L1223.95 355.44 L1228.54 357.52 L1233.13 359.62 L1237.71 361.72 L1242.29 363.83 L1246.87 365.96 L1251.44 368.08 L1256.01 370.21 L1260.58 372.35 L1265.15 374.49 L1269.71 376.64 L1274.27 378.79 L1278.83 380.95 L1283.39 383.11 L1287.94 385.28 L1292.5 387.45 L1297.04 389.63 L1301.59 391.81 L1306.14 394" stroke="#FF0000" stroke-width="2.8" fill="none" stroke-dasharray="12.3 7.5" />
<path d="M743.37 89.09 L748.6 88.5 L753.82 87.94 L759.05 87.45 L764.28 87.07 L769.52 86.81 L774.75 86.73 L779.99 86.73 L785.24 86.73 L790.49 86.73 L795.73 86.73 L800.98 86.73 L806.22 86.73 L811.46 86.83 L816.7 87.09 L821.94 87.48 L827.17 87.96 L832.4 88.49 L837.61 89.03 L842.81 89.61 L848.01 90.33 L853.2 91.14 L858.38 92.05 L863.54 93.02 L868.67 94.04 L873.79 95.14 L878.89 96.36 L883.98 97.69 L889.04 99.11 L894.08 100.59 L899.09 102.13 L904.07 103.73 L909.03 105.43 L913.97 107.22 L918.88 109.09 L923.77 111.03 L928.62 113.03 L933.43 115.08 L938.2 117.23 L942.94 119.48 L947.65 121.8 L952.33 124.17 L957.01 126.57 L961.67 128.97 L966.33 131.37 L970.98 133.81 L975.61 136.27 L980.23 138.75 L984.84 141.26 L989.43 143.79 L994.02 146.34 L998.58 148.92 L1003.14 151.51 L1007.68 154.13 L1012.21 156.77 L1016.74 159.42 L1021.25 162.09 L1025.76 164.77 L1030.27 167.46 L1034.77 170.15 L1039.27 172.84 L1043.78 175.53 L1048.28 178.22 L1052.79 180.9 L1057.3 183.58 L1061.82 186.25 L1066.33 188.92 L1070.84 191.59 L1075.36 194.26 L1079.87 196.94 L1084.38 199.61 L1088.89 202.29 L1093.4 204.97 L1097.91 207.65 L1102.41 210.34 L1106.91 213.02 L1111.41 215.72 L1115.91 218.41 L1120.41 221.11 L1124.9 223.83 L1129.38 226.55 L1133.86 229.29 L1138.33 232.03 L1142.8 234.77 L1147.27 237.51 L1151.74 240.26 L1156.21 243 L1160.69 245.73 L1165.17 248.46 L1169.66 251.17 L1174.15 253.87 L1178.66 256.56 L1183.17 259.22 L1187.7 261.87 L1192.23 264.5 L1196.77 267.13 L1201.32 269.74 L1205.87 272.34 L1210.43 274.94 L1214.99 277.53 L1219.56 280.12 L1224.12 282.7 L1228.68 285.29 L1233.25 287.88 L1237.81 290.47 L1242.36 293.06 L1246.92 295.66 L1251.47 298.27 L1256.03 300.87 L1260.58 303.47 L1265.14 306.07 L1269.69 308.67 L1274.25 311.27 L1278.8 313.87 L1283.36 316.47 L1287.91 319.07 L1292.47 321.66 L1297.02 324.26 L1301.58 326.86 L1306.14 329.46" stroke="#0000FF" stroke-width="2.8" fill="none" stroke-dasharray="12.3 7.5" />
</g>
<path d="M1072.95 73.75 L1100.95 73.75 L1086.95 51.25 Z" fill="#0000FF" fill-opacity="1" />
<circle cx="1086.95" cy="98.4" r="12" fill="#FF0000" fill-opacity="1" />
<text x="1109.25" y="71" font-size="27" font-weight="bold" fill="#0000FF" text-anchor="start" >PT-E</text>
<text x="1107.95" y="109.6" font-size="27" font-weight="bold" fill="#FF0000" text-anchor="start" >PTT-E&#160;&#160;300 K</text>
<rect x="769.2" y="287" width="153.5" height="68" fill="#8FBBDD" opacity="0.45" filter="url(#blur2)"/>
<clipPath id="bb4"><path d="M770.2 288.6 L921.7 288.6 L921.7 307 L770.2 307 Z"/></clipPath>
<g clip-path="url(#bb4)">
<rect x="770.2" y="288.6" width="151.5" height="18.4" fill="#2068A4"/>
<path d="M769.2 291.52 L771.4 289.92 L774.2 296.72 L772 298.32 Z" fill="#fff"/>
<path d="M775 291.52 L777.2 289.92 L780 296.72 L777.8 298.32 Z" fill="#fff"/>
<path d="M780.8 291.52 L783 289.92 L785.8 296.72 L783.6 298.32 Z" fill="#fff"/>
<path d="M786.6 291.52 L788.8 289.92 L791.6 296.72 L789.4 298.32 Z" fill="#fff"/>
<path d="M792.4 291.52 L794.6 289.92 L797.4 296.72 L795.2 298.32 Z" fill="#fff"/>
<path d="M798.2 291.52 L800.4 289.92 L803.2 296.72 L801 298.32 Z" fill="#fff"/>
<path d="M804 291.52 L806.2 289.92 L809 296.72 L806.8 298.32 Z" fill="#fff"/>
<path d="M809.8 291.52 L812 289.92 L814.8 296.72 L812.6 298.32 Z" fill="#fff"/>
<path d="M815.6 291.52 L817.8 289.92 L820.6 296.72 L818.4 298.32 Z" fill="#fff"/>
<path d="M821.4 291.52 L823.6 289.92 L826.4 296.72 L824.2 298.32 Z" fill="#fff"/>
<path d="M827.2 291.52 L829.4 289.92 L832.2 296.72 L830 298.32 Z" fill="#fff"/>
<path d="M833 291.52 L835.2 289.92 L838 296.72 L835.8 298.32 Z" fill="#fff"/>
<path d="M838.8 291.52 L841 289.92 L843.8 296.72 L841.6 298.32 Z" fill="#fff"/>
<path d="M844.6 291.52 L846.8 289.92 L849.6 296.72 L847.4 298.32 Z" fill="#fff"/>
<path d="M850.4 291.52 L852.6 289.92 L855.4 296.72 L853.2 298.32 Z" fill="#fff"/>
<path d="M856.2 291.52 L858.4 289.92 L861.2 296.72 L859 298.32 Z" fill="#fff"/>
<path d="M862 291.52 L864.2 289.92 L867 296.72 L864.8 298.32 Z" fill="#fff"/>
<path d="M867.8 291.52 L870 289.92 L872.8 296.72 L870.6 298.32 Z" fill="#fff"/>
<path d="M873.6 291.52 L875.8 289.92 L878.6 296.72 L876.4 298.32 Z" fill="#fff"/>
<path d="M879.4 291.52 L881.6 289.92 L884.4 296.72 L882.2 298.32 Z" fill="#fff"/>
<path d="M885.2 291.52 L887.4 289.92 L890.2 296.72 L888 298.32 Z" fill="#fff"/>
<path d="M891 291.52 L893.2 289.92 L896 296.72 L893.8 298.32 Z" fill="#fff"/>
<path d="M896.8 291.52 L899 289.92 L901.8 296.72 L899.6 298.32 Z" fill="#fff"/>
<path d="M902.6 291.52 L904.8 289.92 L907.6 296.72 L905.4 298.32 Z" fill="#fff"/>
<path d="M908.4 291.52 L910.6 289.92 L913.4 296.72 L911.2 298.32 Z" fill="#fff"/>
<path d="M914.2 291.52 L916.4 289.92 L919.2 296.72 L917 298.32 Z" fill="#fff"/>
<path d="M920 291.52 L922.2 289.92 L925 296.72 L922.8 298.32 Z" fill="#fff"/>
<path d="M925.8 291.52 L928 289.92 L930.8 296.72 L928.6 298.32 Z" fill="#fff"/>
<path d="M772.1 299.24 L774.3 297.64 L777.1 304.45 L774.9 306.05 Z" fill="#fff"/>
<path d="M777.9 299.24 L780.1 297.64 L782.9 304.45 L780.7 306.05 Z" fill="#fff"/>
<path d="M783.7 299.24 L785.9 297.64 L788.7 304.45 L786.5 306.05 Z" fill="#fff"/>
<path d="M789.5 299.24 L791.7 297.64 L794.5 304.45 L792.3 306.05 Z" fill="#fff"/>
<path d="M795.3 299.24 L797.5 297.64 L800.3 304.45 L798.1 306.05 Z" fill="#fff"/>
<path d="M801.1 299.24 L803.3 297.64 L806.1 304.45 L803.9 306.05 Z" fill="#fff"/>
<path d="M806.9 299.24 L809.1 297.64 L811.9 304.45 L809.7 306.05 Z" fill="#fff"/>
<path d="M812.7 299.24 L814.9 297.64 L817.7 304.45 L815.5 306.05 Z" fill="#fff"/>
<path d="M818.5 299.24 L820.7 297.64 L823.5 304.45 L821.3 306.05 Z" fill="#fff"/>
<path d="M824.3 299.24 L826.5 297.64 L829.3 304.45 L827.1 306.05 Z" fill="#fff"/>
<path d="M830.1 299.24 L832.3 297.64 L835.1 304.45 L832.9 306.05 Z" fill="#fff"/>
<path d="M835.9 299.24 L838.1 297.64 L840.9 304.45 L838.7 306.05 Z" fill="#fff"/>
<path d="M841.7 299.24 L843.9 297.64 L846.7 304.45 L844.5 306.05 Z" fill="#fff"/>
<path d="M847.5 299.24 L849.7 297.64 L852.5 304.45 L850.3 306.05 Z" fill="#fff"/>
<path d="M853.3 299.24 L855.5 297.64 L858.3 304.45 L856.1 306.05 Z" fill="#fff"/>
<path d="M859.1 299.24 L861.3 297.64 L864.1 304.45 L861.9 306.05 Z" fill="#fff"/>
<path d="M864.9 299.24 L867.1 297.64 L869.9 304.45 L867.7 306.05 Z" fill="#fff"/>
<path d="M870.7 299.24 L872.9 297.64 L875.7 304.45 L873.5 306.05 Z" fill="#fff"/>
<path d="M876.5 299.24 L878.7 297.64 L881.5 304.45 L879.3 306.05 Z" fill="#fff"/>
<path d="M882.3 299.24 L884.5 297.64 L887.3 304.45 L885.1 306.05 Z" fill="#fff"/>
<path d="M888.1 299.24 L890.3 297.64 L893.1 304.45 L890.9 306.05 Z" fill="#fff"/>
<path d="M893.9 299.24 L896.1 297.64 L898.9 304.45 L896.7 306.05 Z" fill="#fff"/>
<path d="M899.7 299.24 L901.9 297.64 L904.7 304.45 L902.5 306.05 Z" fill="#fff"/>
<path d="M905.5 299.24 L907.7 297.64 L910.5 304.45 L908.3 306.05 Z" fill="#fff"/>
<path d="M911.3 299.24 L913.5 297.64 L916.3 304.45 L914.1 306.05 Z" fill="#fff"/>
<path d="M917.1 299.24 L919.3 297.64 L922.1 304.45 L919.9 306.05 Z" fill="#fff"/>
<path d="M922.9 299.24 L925.1 297.64 L927.9 304.45 L925.7 306.05 Z" fill="#fff"/>
<path d="M928.7 299.24 L930.9 297.64 L933.7 304.45 L931.5 306.05 Z" fill="#fff"/>
</g>
<clipPath id="bb5"><path d="M770.2 307 L921.7 307 L921.7 328.5 L770.2 328.5 Z"/></clipPath>
<g clip-path="url(#bb5)">
<rect x="770.2" y="307" width="151.5" height="21.5" fill="#2068A4"/>
<path d="M769.2 310.27 L771.4 308.67 L774.2 316.63 L772 318.23 Z" fill="#fff"/>
<path d="M775 310.27 L777.2 308.67 L780 316.63 L777.8 318.23 Z" fill="#fff"/>
<path d="M780.8 310.27 L783 308.67 L785.8 316.63 L783.6 318.23 Z" fill="#fff"/>
<path d="M786.6 310.27 L788.8 308.67 L791.6 316.63 L789.4 318.23 Z" fill="#fff"/>
<path d="M792.4 310.27 L794.6 308.67 L797.4 316.63 L795.2 318.23 Z" fill="#fff"/>
<path d="M798.2 310.27 L800.4 308.67 L803.2 316.63 L801 318.23 Z" fill="#fff"/>
<path d="M804 310.27 L806.2 308.67 L809 316.63 L806.8 318.23 Z" fill="#fff"/>
<path d="M809.8 310.27 L812 308.67 L814.8 316.63 L812.6 318.23 Z" fill="#fff"/>
<path d="M815.6 310.27 L817.8 308.67 L820.6 316.63 L818.4 318.23 Z" fill="#fff"/>
<path d="M821.4 310.27 L823.6 308.67 L826.4 316.63 L824.2 318.23 Z" fill="#fff"/>
<path d="M827.2 310.27 L829.4 308.67 L832.2 316.63 L830 318.23 Z" fill="#fff"/>
<path d="M833 310.27 L835.2 308.67 L838 316.63 L835.8 318.23 Z" fill="#fff"/>
<path d="M838.8 310.27 L841 308.67 L843.8 316.63 L841.6 318.23 Z" fill="#fff"/>
<path d="M844.6 310.27 L846.8 308.67 L849.6 316.63 L847.4 318.23 Z" fill="#fff"/>
<path d="M850.4 310.27 L852.6 308.67 L855.4 316.63 L853.2 318.23 Z" fill="#fff"/>
<path d="M856.2 310.27 L858.4 308.67 L861.2 316.63 L859 318.23 Z" fill="#fff"/>
<path d="M862 310.27 L864.2 308.67 L867 316.63 L864.8 318.23 Z" fill="#fff"/>
<path d="M867.8 310.27 L870 308.67 L872.8 316.63 L870.6 318.23 Z" fill="#fff"/>
<path d="M873.6 310.27 L875.8 308.67 L878.6 316.63 L876.4 318.23 Z" fill="#fff"/>
<path d="M879.4 310.27 L881.6 308.67 L884.4 316.63 L882.2 318.23 Z" fill="#fff"/>
<path d="M885.2 310.27 L887.4 308.67 L890.2 316.63 L888 318.23 Z" fill="#fff"/>
<path d="M891 310.27 L893.2 308.67 L896 316.63 L893.8 318.23 Z" fill="#fff"/>
<path d="M896.8 310.27 L899 308.67 L901.8 316.63 L899.6 318.23 Z" fill="#fff"/>
<path d="M902.6 310.27 L904.8 308.67 L907.6 316.63 L905.4 318.23 Z" fill="#fff"/>
<path d="M908.4 310.27 L910.6 308.67 L913.4 316.63 L911.2 318.23 Z" fill="#fff"/>
<path d="M914.2 310.27 L916.4 308.67 L919.2 316.63 L917 318.23 Z" fill="#fff"/>
<path d="M920 310.27 L922.2 308.67 L925 316.63 L922.8 318.23 Z" fill="#fff"/>
<path d="M925.8 310.27 L928 308.67 L930.8 316.63 L928.6 318.23 Z" fill="#fff"/>
<path d="M772.1 319.3 L774.3 317.7 L777.1 325.66 L774.9 327.26 Z" fill="#fff"/>
<path d="M777.9 319.3 L780.1 317.7 L782.9 325.66 L780.7 327.26 Z" fill="#fff"/>
<path d="M783.7 319.3 L785.9 317.7 L788.7 325.66 L786.5 327.26 Z" fill="#fff"/>
<path d="M789.5 319.3 L791.7 317.7 L794.5 325.66 L792.3 327.26 Z" fill="#fff"/>
<path d="M795.3 319.3 L797.5 317.7 L800.3 325.66 L798.1 327.26 Z" fill="#fff"/>
<path d="M801.1 319.3 L803.3 317.7 L806.1 325.66 L803.9 327.26 Z" fill="#fff"/>
<path d="M806.9 319.3 L809.1 317.7 L811.9 325.66 L809.7 327.26 Z" fill="#fff"/>
<path d="M812.7 319.3 L814.9 317.7 L817.7 325.66 L815.5 327.26 Z" fill="#fff"/>
<path d="M818.5 319.3 L820.7 317.7 L823.5 325.66 L821.3 327.26 Z" fill="#fff"/>
<path d="M824.3 319.3 L826.5 317.7 L829.3 325.66 L827.1 327.26 Z" fill="#fff"/>
<path d="M830.1 319.3 L832.3 317.7 L835.1 325.66 L832.9 327.26 Z" fill="#fff"/>
<path d="M835.9 319.3 L838.1 317.7 L840.9 325.66 L838.7 327.26 Z" fill="#fff"/>
<path d="M841.7 319.3 L843.9 317.7 L846.7 325.66 L844.5 327.26 Z" fill="#fff"/>
<path d="M847.5 319.3 L849.7 317.7 L852.5 325.66 L850.3 327.26 Z" fill="#fff"/>
<path d="M853.3 319.3 L855.5 317.7 L858.3 325.66 L856.1 327.26 Z" fill="#fff"/>
<path d="M859.1 319.3 L861.3 317.7 L864.1 325.66 L861.9 327.26 Z" fill="#fff"/>
<path d="M864.9 319.3 L867.1 317.7 L869.9 325.66 L867.7 327.26 Z" fill="#fff"/>
<path d="M870.7 319.3 L872.9 317.7 L875.7 325.66 L873.5 327.26 Z" fill="#fff"/>
<path d="M876.5 319.3 L878.7 317.7 L881.5 325.66 L879.3 327.26 Z" fill="#fff"/>
<path d="M882.3 319.3 L884.5 317.7 L887.3 325.66 L885.1 327.26 Z" fill="#fff"/>
<path d="M888.1 319.3 L890.3 317.7 L893.1 325.66 L890.9 327.26 Z" fill="#fff"/>
<path d="M893.9 319.3 L896.1 317.7 L898.9 325.66 L896.7 327.26 Z" fill="#fff"/>
<path d="M899.7 319.3 L901.9 317.7 L904.7 325.66 L902.5 327.26 Z" fill="#fff"/>
<path d="M905.5 319.3 L907.7 317.7 L910.5 325.66 L908.3 327.26 Z" fill="#fff"/>
<path d="M911.3 319.3 L913.5 317.7 L916.3 325.66 L914.1 327.26 Z" fill="#fff"/>
<path d="M917.1 319.3 L919.3 317.7 L922.1 325.66 L919.9 327.26 Z" fill="#fff"/>
<path d="M922.9 319.3 L925.1 317.7 L927.9 325.66 L925.7 327.26 Z" fill="#fff"/>
<path d="M928.7 319.3 L930.9 317.7 L933.7 325.66 L931.5 327.26 Z" fill="#fff"/>
</g>
<clipPath id="bb6"><path d="M770.2 328.5 L921.7 328.5 L921.7 352 L770.2 352 Z"/></clipPath>
<g clip-path="url(#bb6)">
<rect x="770.2" y="328.5" width="151.5" height="23.5" fill="#2068A4"/>
<path d="M769.2 332 L771.4 330.4 L774.2 339.1 L772 340.7 Z" fill="#fff"/>
<path d="M775 332 L777.2 330.4 L780 339.1 L777.8 340.7 Z" fill="#fff"/>
<path d="M780.8 332 L783 330.4 L785.8 339.1 L783.6 340.7 Z" fill="#fff"/>
<path d="M786.6 332 L788.8 330.4 L791.6 339.1 L789.4 340.7 Z" fill="#fff"/>
<path d="M792.4 332 L794.6 330.4 L797.4 339.1 L795.2 340.7 Z" fill="#fff"/>
<path d="M798.2 332 L800.4 330.4 L803.2 339.1 L801 340.7 Z" fill="#fff"/>
<path d="M804 332 L806.2 330.4 L809 339.1 L806.8 340.7 Z" fill="#fff"/>
<path d="M809.8 332 L812 330.4 L814.8 339.1 L812.6 340.7 Z" fill="#fff"/>
<path d="M815.6 332 L817.8 330.4 L820.6 339.1 L818.4 340.7 Z" fill="#fff"/>
<path d="M821.4 332 L823.6 330.4 L826.4 339.1 L824.2 340.7 Z" fill="#fff"/>
<path d="M827.2 332 L829.4 330.4 L832.2 339.1 L830 340.7 Z" fill="#fff"/>
<path d="M833 332 L835.2 330.4 L838 339.1 L835.8 340.7 Z" fill="#fff"/>
<path d="M838.8 332 L841 330.4 L843.8 339.1 L841.6 340.7 Z" fill="#fff"/>
<path d="M844.6 332 L846.8 330.4 L849.6 339.1 L847.4 340.7 Z" fill="#fff"/>
<path d="M850.4 332 L852.6 330.4 L855.4 339.1 L853.2 340.7 Z" fill="#fff"/>
<path d="M856.2 332 L858.4 330.4 L861.2 339.1 L859 340.7 Z" fill="#fff"/>
<path d="M862 332 L864.2 330.4 L867 339.1 L864.8 340.7 Z" fill="#fff"/>
<path d="M867.8 332 L870 330.4 L872.8 339.1 L870.6 340.7 Z" fill="#fff"/>
<path d="M873.6 332 L875.8 330.4 L878.6 339.1 L876.4 340.7 Z" fill="#fff"/>
<path d="M879.4 332 L881.6 330.4 L884.4 339.1 L882.2 340.7 Z" fill="#fff"/>
<path d="M885.2 332 L887.4 330.4 L890.2 339.1 L888 340.7 Z" fill="#fff"/>
<path d="M891 332 L893.2 330.4 L896 339.1 L893.8 340.7 Z" fill="#fff"/>
<path d="M896.8 332 L899 330.4 L901.8 339.1 L899.6 340.7 Z" fill="#fff"/>
<path d="M902.6 332 L904.8 330.4 L907.6 339.1 L905.4 340.7 Z" fill="#fff"/>
<path d="M908.4 332 L910.6 330.4 L913.4 339.1 L911.2 340.7 Z" fill="#fff"/>
<path d="M914.2 332 L916.4 330.4 L919.2 339.1 L917 340.7 Z" fill="#fff"/>
<path d="M920 332 L922.2 330.4 L925 339.1 L922.8 340.7 Z" fill="#fff"/>
<path d="M925.8 332 L928 330.4 L930.8 339.1 L928.6 340.7 Z" fill="#fff"/>
<path d="M772.1 341.87 L774.3 340.27 L777.1 348.97 L774.9 350.57 Z" fill="#fff"/>
<path d="M777.9 341.87 L780.1 340.27 L782.9 348.97 L780.7 350.57 Z" fill="#fff"/>
<path d="M783.7 341.87 L785.9 340.27 L788.7 348.97 L786.5 350.57 Z" fill="#fff"/>
<path d="M789.5 341.87 L791.7 340.27 L794.5 348.97 L792.3 350.57 Z" fill="#fff"/>
<path d="M795.3 341.87 L797.5 340.27 L800.3 348.97 L798.1 350.57 Z" fill="#fff"/>
<path d="M801.1 341.87 L803.3 340.27 L806.1 348.97 L803.9 350.57 Z" fill="#fff"/>
<path d="M806.9 341.87 L809.1 340.27 L811.9 348.97 L809.7 350.57 Z" fill="#fff"/>
<path d="M812.7 341.87 L814.9 340.27 L817.7 348.97 L815.5 350.57 Z" fill="#fff"/>
<path d="M818.5 341.87 L820.7 340.27 L823.5 348.97 L821.3 350.57 Z" fill="#fff"/>
<path d="M824.3 341.87 L826.5 340.27 L829.3 348.97 L827.1 350.57 Z" fill="#fff"/>
<path d="M830.1 341.87 L832.3 340.27 L835.1 348.97 L832.9 350.57 Z" fill="#fff"/>
<path d="M835.9 341.87 L838.1 340.27 L840.9 348.97 L838.7 350.57 Z" fill="#fff"/>
<path d="M841.7 341.87 L843.9 340.27 L846.7 348.97 L844.5 350.57 Z" fill="#fff"/>
<path d="M847.5 341.87 L849.7 340.27 L852.5 348.97 L850.3 350.57 Z" fill="#fff"/>
<path d="M853.3 341.87 L855.5 340.27 L858.3 348.97 L856.1 350.57 Z" fill="#fff"/>
<path d="M859.1 341.87 L861.3 340.27 L864.1 348.97 L861.9 350.57 Z" fill="#fff"/>
<path d="M864.9 341.87 L867.1 340.27 L869.9 348.97 L867.7 350.57 Z" fill="#fff"/>
<path d="M870.7 341.87 L872.9 340.27 L875.7 348.97 L873.5 350.57 Z" fill="#fff"/>
<path d="M876.5 341.87 L878.7 340.27 L881.5 348.97 L879.3 350.57 Z" fill="#fff"/>
<path d="M882.3 341.87 L884.5 340.27 L887.3 348.97 L885.1 350.57 Z" fill="#fff"/>
<path d="M888.1 341.87 L890.3 340.27 L893.1 348.97 L890.9 350.57 Z" fill="#fff"/>
<path d="M893.9 341.87 L896.1 340.27 L898.9 348.97 L896.7 350.57 Z" fill="#fff"/>
<path d="M899.7 341.87 L901.9 340.27 L904.7 348.97 L902.5 350.57 Z" fill="#fff"/>
<path d="M905.5 341.87 L907.7 340.27 L910.5 348.97 L908.3 350.57 Z" fill="#fff"/>
<path d="M911.3 341.87 L913.5 340.27 L916.3 348.97 L914.1 350.57 Z" fill="#fff"/>
<path d="M917.1 341.87 L919.3 340.27 L922.1 348.97 L919.9 350.57 Z" fill="#fff"/>
<path d="M922.9 341.87 L925.1 340.27 L927.9 348.97 L925.7 350.57 Z" fill="#fff"/>
<path d="M928.7 341.87 L930.9 340.27 L933.7 348.97 L931.5 350.57 Z" fill="#fff"/>
</g>
<line x1="770.2" y1="307" x2="921.7" y2="307" stroke="#1F669F" stroke-width="3.2" />
<line x1="770.2" y1="328.5" x2="921.7" y2="328.5" stroke="#1F669F" stroke-width="3.2" />
<line x1="770.2" y1="351.5" x2="921.7" y2="351.5" stroke="#1F669F" stroke-width="3" />
<circle cx="773.36" cy="352.6" r="3" fill="#1F669F" fill-opacity="1" />
<circle cx="779.67" cy="352.6" r="3" fill="#1F669F" fill-opacity="1" />
<circle cx="785.98" cy="352.6" r="3" fill="#1F669F" fill-opacity="1" />
<circle cx="792.29" cy="352.6" r="3" fill="#1F669F" fill-opacity="1" />
<circle cx="798.61" cy="352.6" r="3" fill="#1F669F" fill-opacity="1" />
<circle cx="804.92" cy="352.6" r="3" fill="#1F669F" fill-opacity="1" />
<circle cx="811.23" cy="352.6" r="3" fill="#1F669F" fill-opacity="1" />
<circle cx="817.54" cy="352.6" r="3" fill="#1F669F" fill-opacity="1" />
<circle cx="823.86" cy="352.6" r="3" fill="#1F669F" fill-opacity="1" />
<circle cx="830.17" cy="352.6" r="3" fill="#1F669F" fill-opacity="1" />
<circle cx="836.48" cy="352.6" r="3" fill="#1F669F" fill-opacity="1" />
<circle cx="842.79" cy="352.6" r="3" fill="#1F669F" fill-opacity="1" />
<circle cx="849.11" cy="352.6" r="3" fill="#1F669F" fill-opacity="1" />
<circle cx="855.42" cy="352.6" r="3" fill="#1F669F" fill-opacity="1" />
<circle cx="861.73" cy="352.6" r="3" fill="#1F669F" fill-opacity="1" />
<circle cx="868.04" cy="352.6" r="3" fill="#1F669F" fill-opacity="1" />
<circle cx="874.36" cy="352.6" r="3" fill="#1F669F" fill-opacity="1" />
<circle cx="880.67" cy="352.6" r="3" fill="#1F669F" fill-opacity="1" />
<circle cx="886.98" cy="352.6" r="3" fill="#1F669F" fill-opacity="1" />
<circle cx="893.29" cy="352.6" r="3" fill="#1F669F" fill-opacity="1" />
<circle cx="899.61" cy="352.6" r="3" fill="#1F669F" fill-opacity="1" />
<circle cx="905.92" cy="352.6" r="3" fill="#1F669F" fill-opacity="1" />
<circle cx="912.23" cy="352.6" r="3" fill="#1F669F" fill-opacity="1" />
<circle cx="918.54" cy="352.6" r="3" fill="#1F669F" fill-opacity="1" />
<rect x="767.2" y="285" width="8" height="72" fill="url(#fadeL)"/>
<rect x="916.7" y="285" width="8" height="72" fill="url(#fadeR)"/>
<clipPath id="clb"><rect x="770" y="360" width="152.5" height="116"/></clipPath>
<g clip-path="url(#clb)">
<circle cx="778" cy="379.4" r="4" fill="url(#gcy)"/>
<circle cx="785.7" cy="379.4" r="4" fill="url(#gcy)"/>
<circle cx="788.7" cy="379.4" r="4" fill="url(#gcy)"/>
<circle cx="815.1" cy="379.4" r="4" fill="url(#gcy)"/>
<circle cx="817.5" cy="379.4" r="4" fill="url(#gcy)"/>
<circle cx="824.7" cy="379.4" r="4" fill="url(#gcy)"/>
<circle cx="847.4" cy="379.4" r="4" fill="url(#gcy)"/>
<circle cx="855.2" cy="379.4" r="4" fill="url(#gcy)"/>
<circle cx="858.8" cy="379.4" r="4" fill="url(#gcy)"/>
<circle cx="879.2" cy="379.4" r="4" fill="url(#gcy)"/>
<circle cx="884.6" cy="379.4" r="4" fill="url(#gcy)"/>
<circle cx="890.5" cy="379.4" r="4" fill="url(#gcy)"/>
<circle cx="916.9" cy="379.4" r="4" fill="url(#gcy)"/>
<line x1="770.2" y1="406.1" x2="920.5" y2="406.1" stroke="#9A9A9A" stroke-width="1.8" />
<circle cx="779.8" cy="406.4" r="4.1" fill="url(#ggr)"/>
<circle cx="787.5" cy="405.6" r="4.0" fill="url(#ggr)"/>
<circle cx="801.3" cy="406.4" r="4.1" fill="url(#ggr)"/>
<circle cx="808.5" cy="405.6" r="4.0" fill="url(#ggr)"/>
<circle cx="822.9" cy="406.4" r="4.1" fill="url(#ggr)"/>
<circle cx="829.5" cy="405.6" r="4.0" fill="url(#ggr)"/>
<circle cx="843.8" cy="406.4" r="4.1" fill="url(#ggr)"/>
<circle cx="850.4" cy="405.6" r="4.0" fill="url(#ggr)"/>
<circle cx="864.8" cy="406.4" r="4.1" fill="url(#ggr)"/>
<circle cx="872" cy="405.6" r="4.0" fill="url(#ggr)"/>
<circle cx="885.7" cy="406.4" r="4.1" fill="url(#ggr)"/>
<circle cx="892.9" cy="405.6" r="4.0" fill="url(#ggr)"/>
<circle cx="906.7" cy="406.4" r="4.1" fill="url(#ggr)"/>
<circle cx="913.9" cy="405.6" r="4.0" fill="url(#ggr)"/>
<line x1="787" y1="409.6" x2="786.2" y2="418.2" stroke="#B4B4B4" stroke-width="1.9" />
<line x1="786.2" y1="418.2" x2="785.4" y2="426.3" stroke="#44D844" stroke-width="1.9" />
<line x1="849.8" y1="409.6" x2="849.15" y2="418.2" stroke="#B4B4B4" stroke-width="1.9" />
<line x1="849.15" y1="418.2" x2="848.5" y2="426.3" stroke="#44D844" stroke-width="1.9" />
<line x1="892.3" y1="409.6" x2="891.4" y2="418.2" stroke="#B4B4B4" stroke-width="1.9" />
<line x1="891.4" y1="418.2" x2="890.5" y2="426.3" stroke="#44D844" stroke-width="1.9" />
<line x1="770" y1="426.3" x2="922.5" y2="426.3" stroke="#44D844" stroke-width="2.0" />
<line x1="770" y1="446.7" x2="922.5" y2="446.7" stroke="#44D844" stroke-width="2.0" />
<line x1="770" y1="466.8" x2="922.5" y2="466.8" stroke="#44D844" stroke-width="2.0" />
<line x1="764.05" y1="426.3" x2="770.65" y2="446.7" stroke="#44D844" stroke-width="1.9" />
<line x1="764.05" y1="426.3" x2="749.6" y2="446.7" stroke="#44D844" stroke-width="1.9" />
<line x1="770.65" y1="446.7" x2="756.95" y2="466.8" stroke="#44D844" stroke-width="1.9" />
<line x1="770.65" y1="446.7" x2="778" y2="466.8" stroke="#44D844" stroke-width="1.9" />
<line x1="785.1" y1="426.3" x2="791.7" y2="446.7" stroke="#44D844" stroke-width="1.9" />
<line x1="785.1" y1="426.3" x2="770.65" y2="446.7" stroke="#44D844" stroke-width="1.9" />
<line x1="791.7" y1="446.7" x2="778" y2="466.8" stroke="#44D844" stroke-width="1.9" />
<line x1="791.7" y1="446.7" x2="799.05" y2="466.8" stroke="#44D844" stroke-width="1.9" />
<line x1="806.15" y1="426.3" x2="812.75" y2="446.7" stroke="#44D844" stroke-width="1.9" />
<line x1="806.15" y1="426.3" x2="791.7" y2="446.7" stroke="#44D844" stroke-width="1.9" />
<line x1="812.75" y1="446.7" x2="799.05" y2="466.8" stroke="#44D844" stroke-width="1.9" />
<line x1="812.75" y1="446.7" x2="820.1" y2="466.8" stroke="#44D844" stroke-width="1.9" />
<line x1="827.2" y1="426.3" x2="833.8" y2="446.7" stroke="#44D844" stroke-width="1.9" />
<line x1="827.2" y1="426.3" x2="812.75" y2="446.7" stroke="#44D844" stroke-width="1.9" />
<line x1="833.8" y1="446.7" x2="820.1" y2="466.8" stroke="#44D844" stroke-width="1.9" />
<line x1="833.8" y1="446.7" x2="841.15" y2="466.8" stroke="#44D844" stroke-width="1.9" />
<line x1="848.25" y1="426.3" x2="854.85" y2="446.7" stroke="#44D844" stroke-width="1.9" />
<line x1="848.25" y1="426.3" x2="833.8" y2="446.7" stroke="#44D844" stroke-width="1.9" />
<line x1="854.85" y1="446.7" x2="841.15" y2="466.8" stroke="#44D844" stroke-width="1.9" />
<line x1="854.85" y1="446.7" x2="862.2" y2="466.8" stroke="#44D844" stroke-width="1.9" />
<line x1="869.3" y1="426.3" x2="875.9" y2="446.7" stroke="#44D844" stroke-width="1.9" />
<line x1="869.3" y1="426.3" x2="854.85" y2="446.7" stroke="#44D844" stroke-width="1.9" />
<line x1="875.9" y1="446.7" x2="862.2" y2="466.8" stroke="#44D844" stroke-width="1.9" />
<line x1="875.9" y1="446.7" x2="883.25" y2="466.8" stroke="#44D844" stroke-width="1.9" />
<line x1="890.35" y1="426.3" x2="896.95" y2="446.7" stroke="#44D844" stroke-width="1.9" />
<line x1="890.35" y1="426.3" x2="875.9" y2="446.7" stroke="#44D844" stroke-width="1.9" />
<line x1="896.95" y1="446.7" x2="883.25" y2="466.8" stroke="#44D844" stroke-width="1.9" />
<line x1="896.95" y1="446.7" x2="904.3" y2="466.8" stroke="#44D844" stroke-width="1.9" />
<line x1="911.4" y1="426.3" x2="918" y2="446.7" stroke="#44D844" stroke-width="1.9" />
<line x1="911.4" y1="426.3" x2="896.95" y2="446.7" stroke="#44D844" stroke-width="1.9" />
<line x1="918" y1="446.7" x2="904.3" y2="466.8" stroke="#44D844" stroke-width="1.9" />
<line x1="918" y1="446.7" x2="925.35" y2="466.8" stroke="#44D844" stroke-width="1.9" />
<line x1="932.45" y1="426.3" x2="939.05" y2="446.7" stroke="#44D844" stroke-width="1.9" />
<line x1="932.45" y1="426.3" x2="918" y2="446.7" stroke="#44D844" stroke-width="1.9" />
<line x1="939.05" y1="446.7" x2="925.35" y2="466.8" stroke="#44D844" stroke-width="1.9" />
<line x1="939.05" y1="446.7" x2="946.4" y2="466.8" stroke="#44D844" stroke-width="1.9" />
<circle cx="764.05" cy="426.3" r="4" fill="url(#ggn)"/>
<circle cx="770.65" cy="446.7" r="4" fill="url(#ggn)"/>
<circle cx="756.95" cy="466.8" r="4" fill="url(#ggn)" opacity="0.85"/>
<circle cx="778" cy="466.8" r="4" fill="url(#ggn)" opacity="0.85"/>
<circle cx="785.1" cy="426.3" r="4" fill="url(#ggn)"/>
<circle cx="791.7" cy="446.7" r="4" fill="url(#ggn)"/>
<circle cx="778" cy="466.8" r="4" fill="url(#ggn)" opacity="0.85"/>
<circle cx="799.05" cy="466.8" r="4" fill="url(#ggn)" opacity="0.85"/>
<circle cx="806.15" cy="426.3" r="4" fill="url(#ggn)"/>
<circle cx="812.75" cy="446.7" r="4" fill="url(#ggn)"/>
<circle cx="799.05" cy="466.8" r="4" fill="url(#ggn)" opacity="0.85"/>
<circle cx="820.1" cy="466.8" r="4" fill="url(#ggn)" opacity="0.85"/>
<circle cx="827.2" cy="426.3" r="4" fill="url(#ggn)"/>
<circle cx="833.8" cy="446.7" r="4" fill="url(#ggn)"/>
<circle cx="820.1" cy="466.8" r="4" fill="url(#ggn)" opacity="0.85"/>
<circle cx="841.15" cy="466.8" r="4" fill="url(#ggn)" opacity="0.85"/>
<circle cx="848.25" cy="426.3" r="4" fill="url(#ggn)"/>
<circle cx="854.85" cy="446.7" r="4" fill="url(#ggn)"/>
<circle cx="841.15" cy="466.8" r="4" fill="url(#ggn)" opacity="0.85"/>
<circle cx="862.2" cy="466.8" r="4" fill="url(#ggn)" opacity="0.85"/>
<circle cx="869.3" cy="426.3" r="4" fill="url(#ggn)"/>
<circle cx="875.9" cy="446.7" r="4" fill="url(#ggn)"/>
<circle cx="862.2" cy="466.8" r="4" fill="url(#ggn)" opacity="0.85"/>
<circle cx="883.25" cy="466.8" r="4" fill="url(#ggn)" opacity="0.85"/>
<circle cx="890.35" cy="426.3" r="4" fill="url(#ggn)"/>
<circle cx="896.95" cy="446.7" r="4" fill="url(#ggn)"/>
<circle cx="883.25" cy="466.8" r="4" fill="url(#ggn)" opacity="0.85"/>
<circle cx="904.3" cy="466.8" r="4" fill="url(#ggn)" opacity="0.85"/>
<circle cx="911.4" cy="426.3" r="4" fill="url(#ggn)"/>
<circle cx="918" cy="446.7" r="4" fill="url(#ggn)"/>
<circle cx="904.3" cy="466.8" r="4" fill="url(#ggn)" opacity="0.85"/>
<circle cx="925.35" cy="466.8" r="4" fill="url(#ggn)" opacity="0.85"/>
<circle cx="932.45" cy="426.3" r="4" fill="url(#ggn)"/>
<circle cx="939.05" cy="446.7" r="4" fill="url(#ggn)"/>
<circle cx="925.35" cy="466.8" r="4" fill="url(#ggn)" opacity="0.85"/>
<circle cx="946.4" cy="466.8" r="4" fill="url(#ggn)" opacity="0.85"/>
<rect x="769" y="412" width="7" height="64" fill="url(#fadeL)"/>
<rect x="916.5" y="412" width="7" height="64" fill="url(#fadeR)"/>
</g>
<rect x="743.7" y="29.3" width="563.3" height="452.3" fill="none" stroke="#000" stroke-width="3.0"/>
<clipPath id="clipc"><rect x="1413.4" y="26.4" width="562.2" height="456.7"/></clipPath>
<line x1="1600.8" y1="481.7" x2="1600.8" y2="474.2" stroke="#000" stroke-width="2.5" />
<line x1="1787.6" y1="481.7" x2="1787.6" y2="474.2" stroke="#000" stroke-width="2.5" />
<line x1="1470.23" y1="481.7" x2="1470.23" y2="477.5" stroke="#000" stroke-width="2.5" />
<line x1="1503.13" y1="481.7" x2="1503.13" y2="477.5" stroke="#000" stroke-width="2.5" />
<line x1="1526.46" y1="481.7" x2="1526.46" y2="477.5" stroke="#000" stroke-width="2.5" />
<line x1="1544.57" y1="481.7" x2="1544.57" y2="477.5" stroke="#000" stroke-width="2.5" />
<line x1="1559.36" y1="481.7" x2="1559.36" y2="477.5" stroke="#000" stroke-width="2.5" />
<line x1="1571.86" y1="481.7" x2="1571.86" y2="477.5" stroke="#000" stroke-width="2.5" />
<line x1="1582.7" y1="481.7" x2="1582.7" y2="477.5" stroke="#000" stroke-width="2.5" />
<line x1="1592.25" y1="481.7" x2="1592.25" y2="477.5" stroke="#000" stroke-width="2.5" />
<line x1="1657.03" y1="481.7" x2="1657.03" y2="477.5" stroke="#000" stroke-width="2.5" />
<line x1="1689.93" y1="481.7" x2="1689.93" y2="477.5" stroke="#000" stroke-width="2.5" />
<line x1="1713.26" y1="481.7" x2="1713.26" y2="477.5" stroke="#000" stroke-width="2.5" />
<line x1="1731.37" y1="481.7" x2="1731.37" y2="477.5" stroke="#000" stroke-width="2.5" />
<line x1="1746.16" y1="481.7" x2="1746.16" y2="477.5" stroke="#000" stroke-width="2.5" />
<line x1="1758.66" y1="481.7" x2="1758.66" y2="477.5" stroke="#000" stroke-width="2.5" />
<line x1="1769.5" y1="481.7" x2="1769.5" y2="477.5" stroke="#000" stroke-width="2.5" />
<line x1="1779.05" y1="481.7" x2="1779.05" y2="477.5" stroke="#000" stroke-width="2.5" />
<line x1="1843.83" y1="481.7" x2="1843.83" y2="477.5" stroke="#000" stroke-width="2.5" />
<line x1="1876.73" y1="481.7" x2="1876.73" y2="477.5" stroke="#000" stroke-width="2.5" />
<line x1="1900.06" y1="481.7" x2="1900.06" y2="477.5" stroke="#000" stroke-width="2.5" />
<line x1="1918.17" y1="481.7" x2="1918.17" y2="477.5" stroke="#000" stroke-width="2.5" />
<line x1="1932.96" y1="481.7" x2="1932.96" y2="477.5" stroke="#000" stroke-width="2.5" />
<line x1="1945.46" y1="481.7" x2="1945.46" y2="477.5" stroke="#000" stroke-width="2.5" />
<line x1="1956.3" y1="481.7" x2="1956.3" y2="477.5" stroke="#000" stroke-width="2.5" />
<line x1="1965.85" y1="481.7" x2="1965.85" y2="477.5" stroke="#000" stroke-width="2.5" />
<line x1="1414.8" y1="420.9" x2="1422.3" y2="420.9" stroke="#000" stroke-width="2.5" />
<line x1="1414.8" y1="224.75" x2="1422.3" y2="224.75" stroke="#000" stroke-width="2.5" />
<line x1="1414.8" y1="479.95" x2="1419" y2="479.95" stroke="#000" stroke-width="2.5" />
<line x1="1414.8" y1="464.42" x2="1419" y2="464.42" stroke="#000" stroke-width="2.5" />
<line x1="1414.8" y1="451.28" x2="1419" y2="451.28" stroke="#000" stroke-width="2.5" />
<line x1="1414.8" y1="439.91" x2="1419" y2="439.91" stroke="#000" stroke-width="2.5" />
<line x1="1414.8" y1="429.88" x2="1419" y2="429.88" stroke="#000" stroke-width="2.5" />
<line x1="1414.8" y1="361.85" x2="1419" y2="361.85" stroke="#000" stroke-width="2.5" />
<line x1="1414.8" y1="327.31" x2="1419" y2="327.31" stroke="#000" stroke-width="2.5" />
<line x1="1414.8" y1="302.81" x2="1419" y2="302.81" stroke="#000" stroke-width="2.5" />
<line x1="1414.8" y1="283.8" x2="1419" y2="283.8" stroke="#000" stroke-width="2.5" />
<line x1="1414.8" y1="268.27" x2="1419" y2="268.27" stroke="#000" stroke-width="2.5" />
<line x1="1414.8" y1="255.13" x2="1419" y2="255.13" stroke="#000" stroke-width="2.5" />
<line x1="1414.8" y1="243.76" x2="1419" y2="243.76" stroke="#000" stroke-width="2.5" />
<line x1="1414.8" y1="233.73" x2="1419" y2="233.73" stroke="#000" stroke-width="2.5" />
<line x1="1414.8" y1="165.7" x2="1419" y2="165.7" stroke="#000" stroke-width="2.5" />
<line x1="1414.8" y1="131.16" x2="1419" y2="131.16" stroke="#000" stroke-width="2.5" />
<line x1="1414.8" y1="106.66" x2="1419" y2="106.66" stroke="#000" stroke-width="2.5" />
<line x1="1414.8" y1="87.65" x2="1419" y2="87.65" stroke="#000" stroke-width="2.5" />
<line x1="1414.8" y1="72.12" x2="1419" y2="72.12" stroke="#000" stroke-width="2.5" />
<line x1="1414.8" y1="58.98" x2="1419" y2="58.98" stroke="#000" stroke-width="2.5" />
<line x1="1414.8" y1="47.61" x2="1419" y2="47.61" stroke="#000" stroke-width="2.5" />
<line x1="1414.8" y1="37.58" x2="1419" y2="37.58" stroke="#000" stroke-width="2.5" />
<text x="1417" y="508.3" font-size="25" fill="#000" text-anchor="middle" >1E-5</text>
<text x="1600.8" y="508.3" font-size="25" fill="#000" text-anchor="middle" >1E-4</text>
<text x="1787.6" y="508.3" font-size="25" fill="#000" text-anchor="middle" >0.001</text>
<text x="1970.4" y="508.3" font-size="25" fill="#000" text-anchor="middle" >0.01</text>
<text x="1408.3" y="429.2" font-size="25" fill="#000" text-anchor="end" >0.01</text>
<text x="1408.3" y="233.05" font-size="25" fill="#000" text-anchor="end" >0.1</text>
<text x="1404.8" y="36.9" font-size="25" fill="#000" text-anchor="end" >1</text>
<text x="1465.5" y="539" font-size="27" font-weight="bold">Electron density difference (Bohr<tspan dy="-10" font-size="17">-3</tspan><tspan dy="10">)</tspan></text>
<text x="1367" y="292" font-size="27" font-weight="bold" transform="rotate(-90 1367 292)">Δ<tspan font-style="italic">F</tspan><tspan dy="7" font-size="18">E</tspan></text>
<text x="1359" y="41.5" font-size="45" font-weight="bold" fill="#000" text-anchor="start" >c</text>
<g clip-path="url(#clipc)">
<circle cx="1702.88" cy="242.72" r="9.7" fill="#00F800" fill-opacity="1" />
<circle cx="1767.43" cy="183.22" r="9.7" fill="#00F800" fill-opacity="1" />
<circle cx="1806.09" cy="149.6" r="9.7" fill="#00F800" fill-opacity="1" />
<circle cx="1833.99" cy="128.76" r="9.7" fill="#00F800" fill-opacity="1" />
<circle cx="1854.16" cy="110.94" r="9.7" fill="#00F800" fill-opacity="1" />
<circle cx="1873.66" cy="104.22" r="9.7" fill="#00F800" fill-opacity="1" />
<circle cx="1887.78" cy="97.49" r="9.7" fill="#00F800" fill-opacity="1" />
<circle cx="1899.55" cy="93.46" r="9.7" fill="#00F800" fill-opacity="1" />
<circle cx="1913" cy="86.73" r="9.7" fill="#00F800" fill-opacity="1" />
<circle cx="1920.39" cy="86.06" r="9.7" fill="#00F800" fill-opacity="1" />
<rect x="1547.14" y="351.88" width="17" height="17" fill="#33FFFF" fill-opacity="1"/>
<rect x="1600.93" y="323.65" width="17" height="17" fill="#33FFFF" fill-opacity="1"/>
<rect x="1630.51" y="258.09" width="17" height="17" fill="#33FFFF" fill-opacity="1"/>
<rect x="1666.82" y="214.05" width="17" height="17" fill="#33FFFF" fill-opacity="1"/>
<rect x="1700.43" y="191.53" width="17" height="17" fill="#33FFFF" fill-opacity="1"/>
<rect x="1713.55" y="164.63" width="17" height="17" fill="#33FFFF" fill-opacity="1"/>
<rect x="1727.33" y="136.06" width="17" height="17" fill="#33FFFF" fill-opacity="1"/>
<rect x="1733.04" y="134.38" width="17" height="17" fill="#33FFFF" fill-opacity="1"/>
<rect x="1728.67" y="117.57" width="17" height="17" fill="#33FFFF" fill-opacity="1"/>
<rect x="1739.77" y="118.24" width="17" height="17" fill="#33FFFF" fill-opacity="1"/>
<rect x="1754.22" y="96.39" width="17" height="17" fill="#33FFFF" fill-opacity="1"/>
<rect x="1761.62" y="83.95" width="17" height="17" fill="#33FFFF" fill-opacity="1"/>
<rect x="1764.98" y="81.6" width="17" height="17" fill="#33FFFF" fill-opacity="1"/>
<path d="M1599.69 325.26 L1623.19 325.26 L1611.44 345.76 Z" fill="#FF7F0E" fill-opacity="1" />
<path d="M1657.52 261.05 L1681.02 261.05 L1669.27 281.55 Z" fill="#FF7F0E" fill-opacity="1" />
<path d="M1687.77 215.66 L1711.27 215.66 L1699.52 236.16 Z" fill="#FF7F0E" fill-opacity="1" />
<path d="M1708.95 184.73 L1732.45 184.73 L1720.7 205.23 Z" fill="#FF7F0E" fill-opacity="1" />
<path d="M1733.16 157.84 L1756.66 157.84 L1744.91 178.34 Z" fill="#FF7F0E" fill-opacity="1" />
<path d="M1750.97 138.68 L1774.47 138.68 L1762.72 159.18 Z" fill="#FF7F0E" fill-opacity="1" />
<path d="M1771.14 120.86 L1794.64 120.86 L1782.89 141.36 Z" fill="#FF7F0E" fill-opacity="1" />
<path d="M1788.63 112.46 L1812.13 112.46 L1800.38 132.96 Z" fill="#FF7F0E" fill-opacity="1" />
<path d="M1805.43 104.05 L1828.93 104.05 L1817.18 124.55 Z" fill="#FF7F0E" fill-opacity="1" />
<path d="M1823.92 90.6 L1847.42 90.6 L1835.67 111.1 Z" fill="#FF7F0E" fill-opacity="1" />
<path d="M1460.85 429.47 L1484.35 429.47 L1472.6 408.97 Z" fill="#E5DC32" fill-opacity="1" />
<path d="M1511.95 394.5 L1535.45 394.5 L1523.7 374 Z" fill="#E5DC32" fill-opacity="1" />
<path d="M1544.89 369.29 L1568.39 369.29 L1556.64 348.79 Z" fill="#E5DC32" fill-opacity="1" />
<path d="M1568.43 348.78 L1591.93 348.78 L1580.18 328.28 Z" fill="#E5DC32" fill-opacity="1" />
<path d="M1585.24 320.21 L1608.74 320.21 L1596.99 299.71 Z" fill="#E5DC32" fill-opacity="1" />
<path d="M1622.22 311.13 L1645.72 311.13 L1633.97 290.63 Z" fill="#E5DC32" fill-opacity="1" />
<path d="M1632.3 297.68 L1655.8 297.68 L1644.05 277.18 Z" fill="#E5DC32" fill-opacity="1" />
<path d="M1639.03 289.28 L1662.53 289.28 L1650.78 268.78 Z" fill="#E5DC32" fill-opacity="1" />
<path d="M1413.77 479.06 L1901.23 31.94" stroke="#808080" stroke-width="2.8" fill="none" stroke-dasharray="12.5 8" />
</g>
<circle cx="1443.3" cy="57" r="8.6" fill="#00DD00" fill-opacity="1" />
<rect x="1435.2" y="77.9" width="16.2" height="16.2" fill="#33FFFF" fill-opacity="1"/>
<path d="M1434.55 107.25 L1454.05 107.25 L1444.3 123.75 Z" fill="#F08030" fill-opacity="1" />
<path d="M1434.75 153 L1454.25 153 L1444.5 136 Z" fill="#E5DC32" fill-opacity="1" />
<text x="1465.5" y="68.2" font-size="27" font-weight="bold" fill="#000" text-anchor="start" >Ir / Gr / Ni</text>
<text x="1465.5" y="96.2" font-size="27" font-weight="bold" fill="#000" text-anchor="start" >Ir / Gr / Ni (adsorb.)</text>
<text x="1464" y="125.2" font-size="27" font-weight="bold" fill="#000" text-anchor="start" >Ir / Gr / Cu</text>
<text x="1464" y="156.2" font-size="27" font-weight="bold" fill="#000" text-anchor="start" >Ir / h-BN / Au</text>
<rect x="1414.8" y="27.8" width="559.4" height="453.9" fill="none" stroke="#000" stroke-width="3.0"/>
<clipPath id="clipd"><rect x="75.8" y="590.2" width="558.6" height="457.5"/></clipPath>
<line x1="84" y1="1046.3" x2="84" y2="1038.8" stroke="#000" stroke-width="2.5" />
<line x1="221.06" y1="1046.3" x2="221.06" y2="1038.8" stroke="#000" stroke-width="2.5" />
<line x1="358.12" y1="1046.3" x2="358.12" y2="1038.8" stroke="#000" stroke-width="2.5" />
<line x1="495.18" y1="1046.3" x2="495.18" y2="1038.8" stroke="#000" stroke-width="2.5" />
<line x1="152.53" y1="1046.3" x2="152.53" y2="1042.1" stroke="#000" stroke-width="2.5" />
<line x1="289.59" y1="1046.3" x2="289.59" y2="1042.1" stroke="#000" stroke-width="2.5" />
<line x1="426.65" y1="1046.3" x2="426.65" y2="1042.1" stroke="#000" stroke-width="2.5" />
<line x1="563.71" y1="1046.3" x2="563.71" y2="1042.1" stroke="#000" stroke-width="2.5" />
<line x1="77.2" y1="652.15" x2="84.7" y2="652.15" stroke="#000" stroke-width="2.5" />
<line x1="77.2" y1="712.7" x2="84.7" y2="712.7" stroke="#000" stroke-width="2.5" />
<line x1="77.2" y1="773.25" x2="84.7" y2="773.25" stroke="#000" stroke-width="2.5" />
<line x1="77.2" y1="833.8" x2="84.7" y2="833.8" stroke="#000" stroke-width="2.5" />
<line x1="77.2" y1="894.35" x2="84.7" y2="894.35" stroke="#000" stroke-width="2.5" />
<line x1="77.2" y1="954.9" x2="84.7" y2="954.9" stroke="#000" stroke-width="2.5" />
<line x1="77.2" y1="1015.45" x2="84.7" y2="1015.45" stroke="#000" stroke-width="2.5" />
<line x1="77.2" y1="621.88" x2="81.4" y2="621.88" stroke="#000" stroke-width="2.5" />
<line x1="77.2" y1="682.43" x2="81.4" y2="682.43" stroke="#000" stroke-width="2.5" />
<line x1="77.2" y1="742.98" x2="81.4" y2="742.98" stroke="#000" stroke-width="2.5" />
<line x1="77.2" y1="803.52" x2="81.4" y2="803.52" stroke="#000" stroke-width="2.5" />
<line x1="77.2" y1="864.08" x2="81.4" y2="864.08" stroke="#000" stroke-width="2.5" />
<line x1="77.2" y1="924.62" x2="81.4" y2="924.62" stroke="#000" stroke-width="2.5" />
<line x1="77.2" y1="985.17" x2="81.4" y2="985.17" stroke="#000" stroke-width="2.5" />
<text x="84" y="1073.8" font-size="25" fill="#000" text-anchor="middle" >0.0</text>
<text x="221.06" y="1073.8" font-size="25" fill="#000" text-anchor="middle" >20</text>
<text x="358.12" y="1073.8" font-size="25" fill="#000" text-anchor="middle" >40</text>
<text x="495.18" y="1073.8" font-size="25" fill="#000" text-anchor="middle" >60</text>
<text x="632.24" y="1073.8" font-size="25" fill="#000" text-anchor="middle" >80</text>
<text x="72.4" y="601.2" font-size="25" fill="#000" text-anchor="end" >1.6</text>
<text x="72.4" y="661.14" font-size="25" fill="#000" text-anchor="end" >1.4</text>
<text x="72.4" y="721.08" font-size="25" fill="#000" text-anchor="end" >1.2</text>
<text x="72.4" y="781.02" font-size="25" fill="#000" text-anchor="end" >1.0</text>
<text x="72.4" y="840.96" font-size="25" fill="#000" text-anchor="end" >0.8</text>
<text x="72.4" y="900.9" font-size="25" fill="#000" text-anchor="end" >0.6</text>
<text x="72.4" y="960.84" font-size="25" fill="#000" text-anchor="end" >0.4</text>
<text x="72.4" y="1020.78" font-size="25" fill="#000" text-anchor="end" >0.2</text>
<text x="355" y="1103.5" font-size="27" font-weight="bold" fill="#000" text-anchor="middle" >AC frequency (kHz)</text>
<text x="24.5" y="833" font-size="27" font-weight="bold" fill="#000" text-anchor="middle" transform="rotate(-90 24.5 833)" >Norm. friction</text>
<text x="2" y="585.5" font-size="46" font-weight="bold" fill="#000" text-anchor="start" >d</text>
<g clip-path="url(#clipd)">
<circle cx="84.07" cy="773.25" r="6.8" fill="#FF0000" fill-opacity="0.5" />
<circle cx="84.08" cy="803.52" r="6.8" fill="#FF0000" fill-opacity="0.5" />
<circle cx="84.09" cy="864.08" r="6.8" fill="#FF0000" fill-opacity="0.5" />
<circle cx="84.1" cy="939.76" r="6.8" fill="#FF0000" fill-opacity="0.5" />
<circle cx="84.11" cy="945.82" r="6.8" fill="#FF0000" fill-opacity="0.5" />
<circle cx="84.12" cy="951.87" r="6.8" fill="#FF0000" fill-opacity="0.5" />
<circle cx="84.14" cy="959.44" r="6.8" fill="#FF0000" fill-opacity="0.5" />
<circle cx="84.15" cy="967.01" r="6.8" fill="#FF0000" fill-opacity="0.5" />
<circle cx="84.17" cy="973.07" r="6.8" fill="#FF0000" fill-opacity="0.5" />
<circle cx="84.19" cy="977.61" r="6.8" fill="#FF0000" fill-opacity="0.5" />
<circle cx="84.22" cy="982.15" r="6.8" fill="#FF0000" fill-opacity="0.5" />
<circle cx="84.24" cy="986.69" r="6.8" fill="#FF0000" fill-opacity="0.5" />
<circle cx="84.27" cy="991.23" r="6.8" fill="#FF0000" fill-opacity="0.5" />
<circle cx="84.31" cy="994.26" r="6.8" fill="#FF0000" fill-opacity="0.5" />
<circle cx="84.34" cy="997.29" r="6.8" fill="#FF0000" fill-opacity="0.5" />
<circle cx="84.39" cy="1000.31" r="6.8" fill="#FF0000" fill-opacity="0.5" />
<circle cx="84.43" cy="1001.83" r="6.8" fill="#FF0000" fill-opacity="0.5" />
<circle cx="84.49" cy="1003.34" r="6.8" fill="#FF0000" fill-opacity="0.5" />
<circle cx="84.54" cy="1004.85" r="6.8" fill="#FF0000" fill-opacity="0.5" />
<circle cx="84.61" cy="1006.37" r="6.8" fill="#FF0000" fill-opacity="0.5" />
<circle cx="84.69" cy="1007.88" r="6.8" fill="#FF0000" fill-opacity="0.5" />
<circle cx="84.77" cy="1008.79" r="6.8" fill="#FF0000" fill-opacity="0.5" />
<circle cx="84.86" cy="1009.39" r="6.8" fill="#FF0000" fill-opacity="0.5" />
<circle cx="84.97" cy="1010" r="6.8" fill="#FF0000" fill-opacity="0.5" />
<circle cx="85.09" cy="1010.91" r="6.8" fill="#FF0000" fill-opacity="0.5" />
<circle cx="85.22" cy="1011.51" r="6.8" fill="#FF0000" fill-opacity="0.5" />
<circle cx="85.37" cy="1011.82" r="6.8" fill="#FF0000" fill-opacity="0.5" />
<circle cx="85.53" cy="1012.42" r="6.8" fill="#FF0000" fill-opacity="0.5" />
<circle cx="85.72" cy="1013.03" r="6.8" fill="#FF0000" fill-opacity="0.5" />
<circle cx="85.93" cy="1013.63" r="6.8" fill="#FF0000" fill-opacity="0.5" />
<circle cx="86.17" cy="1013.94" r="6.8" fill="#FF0000" fill-opacity="0.5" />
<circle cx="86.43" cy="1014.24" r="6.8" fill="#FF0000" fill-opacity="0.5" />
<circle cx="86.73" cy="1014.54" r="6.8" fill="#FF0000" fill-opacity="0.5" />
<circle cx="87.06" cy="1013.94" r="6.8" fill="#FF0000" fill-opacity="0.5" />
<circle cx="87.43" cy="1012.42" r="6.8" fill="#FF0000" fill-opacity="0.5" />
<circle cx="87.85" cy="1014.54" r="6.8" fill="#FF0000" fill-opacity="0.5" />
<circle cx="88.32" cy="1015.45" r="6.8" fill="#FF0000" fill-opacity="0.5" />
<circle cx="88.85" cy="1013.33" r="6.8" fill="#FF0000" fill-opacity="0.5" />
<circle cx="89.44" cy="1014.24" r="6.8" fill="#FF0000" fill-opacity="0.5" />
<circle cx="90.11" cy="1014.84" r="6.8" fill="#FF0000" fill-opacity="0.5" />
<circle cx="90.85" cy="1014.54" r="6.8" fill="#FF0000" fill-opacity="0.5" />
<circle cx="91.69" cy="1013.94" r="6.8" fill="#FF0000" fill-opacity="0.5" />
<circle cx="92.63" cy="1013.03" r="6.8" fill="#FF0000" fill-opacity="0.5" />
<circle cx="93.68" cy="1013.63" r="6.8" fill="#FF0000" fill-opacity="0.5" />
<circle cx="94.86" cy="1012.42" r="6.8" fill="#FF0000" fill-opacity="0.5" />
<circle cx="96.19" cy="1011.51" r="6.8" fill="#FF0000" fill-opacity="0.5" />
<circle cx="97.67" cy="983.36" r="6.8" fill="#FF0000" fill-opacity="0.5" />
<circle cx="99.34" cy="1011.82" r="6.8" fill="#FF0000" fill-opacity="0.5" />
<circle cx="101.21" cy="1011.21" r="6.8" fill="#FF0000" fill-opacity="0.5" />
<circle cx="103.31" cy="1012.42" r="6.8" fill="#FF0000" fill-opacity="0.5" />
<circle cx="105.67" cy="1010.91" r="6.8" fill="#FF0000" fill-opacity="0.5" />
<circle cx="108.32" cy="1012.42" r="6.8" fill="#FF0000" fill-opacity="0.5" />
<circle cx="111.28" cy="991.84" r="6.8" fill="#FF0000" fill-opacity="0.5" />
<circle cx="114.61" cy="1010.91" r="6.8" fill="#FF0000" fill-opacity="0.5" />
<circle cx="118.35" cy="996.98" r="6.8" fill="#FF0000" fill-opacity="0.5" />
<circle cx="122.54" cy="1011.82" r="6.8" fill="#FF0000" fill-opacity="0.5" />
<circle cx="127.24" cy="1011.51" r="6.8" fill="#FF0000" fill-opacity="0.5" />
<circle cx="132.52" cy="1008.79" r="6.8" fill="#FF0000" fill-opacity="0.5" />
<circle cx="138.44" cy="1002.13" r="6.8" fill="#FF0000" fill-opacity="0.5" />
<circle cx="145.08" cy="1008.79" r="6.8" fill="#FF0000" fill-opacity="0.5" />
<circle cx="152.53" cy="982.45" r="6.8" fill="#FF0000" fill-opacity="0.5" />
<circle cx="160.89" cy="1006.06" r="6.8" fill="#FF0000" fill-opacity="0.5" />
<circle cx="170.27" cy="1006.97" r="6.8" fill="#FF0000" fill-opacity="0.5" />
<circle cx="180.8" cy="1003.64" r="6.8" fill="#FF0000" fill-opacity="0.5" />
<circle cx="192.61" cy="1003.64" r="6.8" fill="#FF0000" fill-opacity="0.5" />
<circle cx="205.87" cy="1003.64" r="6.8" fill="#FF0000" fill-opacity="0.5" />
<circle cx="220.74" cy="983.36" r="6.8" fill="#FF0000" fill-opacity="0.5" />
<circle cx="237.42" cy="996.98" r="6.8" fill="#FF0000" fill-opacity="0.5" />
<circle cx="256.14" cy="996.98" r="6.8" fill="#FF0000" fill-opacity="0.5" />
<circle cx="277.14" cy="989.41" r="6.8" fill="#FF0000" fill-opacity="0.5" />
<circle cx="300.71" cy="987.6" r="6.8" fill="#FF0000" fill-opacity="0.5" />
<circle cx="327.15" cy="980.94" r="6.8" fill="#FF0000" fill-opacity="0.5" />
<circle cx="356.82" cy="977.3" r="6.8" fill="#FF0000" fill-opacity="0.5" />
<circle cx="390.11" cy="963.98" r="6.8" fill="#FF0000" fill-opacity="0.5" />
<circle cx="427.46" cy="962.47" r="6.8" fill="#FF0000" fill-opacity="0.5" />
<circle cx="469.37" cy="962.47" r="6.8" fill="#FF0000" fill-opacity="0.5" />
<circle cx="516.4" cy="951.27" r="6.8" fill="#FF0000" fill-opacity="0.5" />
<circle cx="569.16" cy="940.97" r="6.8" fill="#FF0000" fill-opacity="0.5" />
<circle cx="628.35" cy="936.74" r="6.8" fill="#FF0000" fill-opacity="0.5" />
<path d="M76.57 663.36 L91.57 663.36 L84.07 650.06 Z" fill="#0000FF" fill-opacity="0.5" />
<path d="M76.58 693.63 L91.58 693.63 L84.08 680.33 Z" fill="#0000FF" fill-opacity="0.5" />
<path d="M76.59 772.35 L91.59 772.35 L84.09 759.05 Z" fill="#0000FF" fill-opacity="0.5" />
<path d="M76.6 814.73 L91.6 814.73 L84.1 801.43 Z" fill="#0000FF" fill-opacity="0.5" />
<path d="M76.61 820.78 L91.61 820.78 L84.11 807.49 Z" fill="#0000FF" fill-opacity="0.5" />
<path d="M76.62 835.92 L91.62 835.92 L84.12 822.62 Z" fill="#0000FF" fill-opacity="0.5" />
<path d="M76.64 845 L91.64 845 L84.14 831.71 Z" fill="#0000FF" fill-opacity="0.5" />
<path d="M76.65 854.09 L91.65 854.09 L84.15 840.79 Z" fill="#0000FF" fill-opacity="0.5" />
<path d="M76.67 863.17 L91.67 863.17 L84.17 849.87 Z" fill="#0000FF" fill-opacity="0.5" />
<path d="M76.69 872.25 L91.69 872.25 L84.19 858.95 Z" fill="#0000FF" fill-opacity="0.5" />
<path d="M76.72 881.33 L91.72 881.33 L84.22 868.03 Z" fill="#0000FF" fill-opacity="0.5" />
<path d="M76.74 888.9 L91.74 888.9 L84.24 875.6 Z" fill="#0000FF" fill-opacity="0.5" />
<path d="M76.77 894.96 L91.77 894.96 L84.27 881.66 Z" fill="#0000FF" fill-opacity="0.5" />
<path d="M76.81 899.5 L91.81 899.5 L84.31 886.2 Z" fill="#0000FF" fill-opacity="0.5" />
<path d="M76.84 904.04 L91.84 904.04 L84.34 890.74 Z" fill="#0000FF" fill-opacity="0.5" />
<path d="M76.89 908.58 L91.89 908.58 L84.39 895.28 Z" fill="#0000FF" fill-opacity="0.5" />
<path d="M76.93 911.61 L91.93 911.61 L84.43 898.31 Z" fill="#0000FF" fill-opacity="0.5" />
<path d="M76.99 914.64 L91.99 914.64 L84.49 901.34 Z" fill="#0000FF" fill-opacity="0.5" />
<path d="M77.04 917.66 L92.04 917.66 L84.54 904.37 Z" fill="#0000FF" fill-opacity="0.5" />
<path d="M77.11 920.69 L92.11 920.69 L84.61 907.39 Z" fill="#0000FF" fill-opacity="0.5" />
<path d="M77.19 923.72 L92.19 923.72 L84.69 910.42 Z" fill="#0000FF" fill-opacity="0.5" />
<path d="M77.27 925.23 L92.27 925.23 L84.77 911.93 Z" fill="#0000FF" fill-opacity="0.5" />
<path d="M77.36 926.75 L92.36 926.75 L84.86 913.45 Z" fill="#0000FF" fill-opacity="0.5" />
<path d="M77.47 928.26 L92.47 928.26 L84.97 914.96 Z" fill="#0000FF" fill-opacity="0.5" />
<path d="M77.59 929.77 L92.59 929.77 L85.09 916.48 Z" fill="#0000FF" fill-opacity="0.5" />
<path d="M77.72 931.29 L92.72 931.29 L85.22 917.99 Z" fill="#0000FF" fill-opacity="0.5" />
<path d="M77.87 932.8 L92.87 932.8 L85.37 919.5 Z" fill="#0000FF" fill-opacity="0.5" />
<path d="M78.03 934.32 L93.03 934.32 L85.53 921.02 Z" fill="#0000FF" fill-opacity="0.5" />
<path d="M78.22 935.83 L93.22 935.83 L85.72 922.53 Z" fill="#0000FF" fill-opacity="0.5" />
<path d="M78.43 936.44 L93.43 936.44 L85.93 923.14 Z" fill="#0000FF" fill-opacity="0.5" />
<path d="M78.67 937.34 L93.67 937.34 L86.17 924.04 Z" fill="#0000FF" fill-opacity="0.5" />
<path d="M78.93 938.25 L93.93 938.25 L86.43 924.95 Z" fill="#0000FF" fill-opacity="0.5" />
<path d="M79.23 938.86 L94.23 938.86 L86.73 925.56 Z" fill="#0000FF" fill-opacity="0.5" />
<path d="M79.56 939.46 L94.56 939.46 L87.06 926.16 Z" fill="#0000FF" fill-opacity="0.5" />
<path d="M79.93 940.07 L94.93 940.07 L87.43 926.77 Z" fill="#0000FF" fill-opacity="0.5" />
<path d="M80.35 940.37 L95.35 940.37 L87.85 927.07 Z" fill="#0000FF" fill-opacity="0.5" />
<path d="M80.82 940.67 L95.82 940.67 L88.32 927.37 Z" fill="#0000FF" fill-opacity="0.5" />
<path d="M81.35 940.98 L96.35 940.98 L88.85 927.68 Z" fill="#0000FF" fill-opacity="0.5" />
<path d="M81.94 941.28 L96.94 941.28 L89.44 927.98 Z" fill="#0000FF" fill-opacity="0.5" />
<path d="M82.61 941.28 L97.61 941.28 L90.11 927.98 Z" fill="#0000FF" fill-opacity="0.5" />
<path d="M83.35 941.28 L98.35 941.28 L90.85 927.98 Z" fill="#0000FF" fill-opacity="0.5" />
<path d="M84.19 940.8 L99.19 940.8 L91.69 927.5 Z" fill="#0000FF" fill-opacity="0.5" />
<path d="M85.13 940.26 L100.13 940.26 L92.63 926.96 Z" fill="#0000FF" fill-opacity="0.5" />
<path d="M86.18 939.66 L101.18 939.66 L93.68 926.36 Z" fill="#0000FF" fill-opacity="0.5" />
<path d="M87.36 938.98 L102.36 938.98 L94.86 925.68 Z" fill="#0000FF" fill-opacity="0.5" />
<path d="M88.69 938.22 L103.69 938.22 L96.19 924.92 Z" fill="#0000FF" fill-opacity="0.5" />
<path d="M90.17 937.36 L105.17 937.36 L97.67 924.06 Z" fill="#0000FF" fill-opacity="0.5" />
<path d="M91.84 936.4 L106.84 936.4 L99.34 923.1 Z" fill="#0000FF" fill-opacity="0.5" />
<path d="M93.71 935.31 L108.71 935.31 L101.21 922.01 Z" fill="#0000FF" fill-opacity="0.5" />
<path d="M95.81 934.11 L110.81 934.11 L103.31 920.81 Z" fill="#0000FF" fill-opacity="0.5" />
<path d="M98.17 932.79 L113.17 932.79 L105.67 919.49 Z" fill="#0000FF" fill-opacity="0.5" />
<path d="M100.82 931.34 L115.82 931.34 L108.32 918.04 Z" fill="#0000FF" fill-opacity="0.5" />
<path d="M103.78 929.74 L118.78 929.74 L111.28 916.44 Z" fill="#0000FF" fill-opacity="0.5" />
<path d="M107.11 927.99 L122.11 927.99 L114.61 914.69 Z" fill="#0000FF" fill-opacity="0.5" />
<path d="M110.85 926.1 L125.85 926.1 L118.35 912.8 Z" fill="#0000FF" fill-opacity="0.5" />
<path d="M115.04 924.07 L130.04 924.07 L122.54 910.77 Z" fill="#0000FF" fill-opacity="0.5" />
<path d="M119.74 921.88 L134.74 921.88 L127.24 908.58 Z" fill="#0000FF" fill-opacity="0.5" />
<path d="M125.02 919.55 L140.02 919.55 L132.52 906.25 Z" fill="#0000FF" fill-opacity="0.5" />
<path d="M130.94 917.13 L145.94 917.13 L138.44 903.83 Z" fill="#0000FF" fill-opacity="0.5" />
<path d="M137.58 914.55 L152.58 914.55 L145.08 901.25 Z" fill="#0000FF" fill-opacity="0.5" />
<path d="M145.03 911.61 L160.03 911.61 L152.53 898.31 Z" fill="#0000FF" fill-opacity="0.5" />
<path d="M153.39 908.08 L168.39 908.08 L160.89 894.78 Z" fill="#0000FF" fill-opacity="0.5" />
<path d="M162.77 904.04 L177.77 904.04 L170.27 890.74 Z" fill="#0000FF" fill-opacity="0.5" />
<path d="M173.3 899.78 L188.3 899.78 L180.8 886.48 Z" fill="#0000FF" fill-opacity="0.5" />
<path d="M185.11 895.51 L200.11 895.51 L192.61 882.21 Z" fill="#0000FF" fill-opacity="0.5" />
<path d="M198.37 891.01 L213.37 891.01 L205.87 877.71 Z" fill="#0000FF" fill-opacity="0.5" />
<path d="M213.24 885.99 L228.24 885.99 L220.74 872.69 Z" fill="#0000FF" fill-opacity="0.5" />
<path d="M229.92 880.15 L244.92 880.15 L237.42 866.85 Z" fill="#0000FF" fill-opacity="0.5" />
<path d="M248.64 873.57 L263.64 873.57 L256.14 860.27 Z" fill="#0000FF" fill-opacity="0.5" />
<path d="M269.64 866.38 L284.64 866.38 L277.14 853.08 Z" fill="#0000FF" fill-opacity="0.5" />
<path d="M293.21 858.55 L308.21 858.55 L300.71 845.25 Z" fill="#0000FF" fill-opacity="0.5" />
<path d="M319.65 849.97 L334.65 849.97 L327.15 836.67 Z" fill="#0000FF" fill-opacity="0.5" />
<path d="M349.32 840.85 L364.32 840.85 L356.82 827.55 Z" fill="#0000FF" fill-opacity="0.5" />
<path d="M382.61 831.3 L397.61 831.3 L390.11 818 Z" fill="#0000FF" fill-opacity="0.5" />
<path d="M419.96 821.18 L434.96 821.18 L427.46 807.88 Z" fill="#0000FF" fill-opacity="0.5" />
<path d="M461.87 810.39 L476.87 810.39 L469.37 797.09 Z" fill="#0000FF" fill-opacity="0.5" />
<path d="M508.9 799.14 L523.9 799.14 L516.4 785.84 Z" fill="#0000FF" fill-opacity="0.5" />
<path d="M561.66 788.38 L576.66 788.38 L569.16 775.08 Z" fill="#0000FF" fill-opacity="0.5" />
<path d="M620.85 776.18 L635.85 776.18 L628.35 762.88 Z" fill="#0000FF" fill-opacity="0.5" />
<path d="M80.9 773.25 L80.6 888.3 L80.3 1003.34" stroke="#FF0000" stroke-width="2.8" fill="none" stroke-dasharray="12 6" />
<path d="M121.69 1006.97 L221.06 993.65 L358.12 976.7 L495.18 957.93 L632.24 939.16" stroke="#FF0000" stroke-width="2.8" fill="none" stroke-dasharray="12.3 7.5" />
<path d="M85 649.12 L84 682.43 L82.6 742.98 L81.5 803.52 L80.6 864.08 L80.2 924.62 L80.4 942.79" stroke="#0000FF" stroke-width="2.8" fill="none" stroke-dasharray="12 6" />
<path d="M94.28 939.76 L99.71 936.69 L105.15 933.71 L110.58 930.85 L116.02 928.13 L121.45 925.56 L126.88 923.1 L132.32 920.74 L137.75 918.46 L143.19 916.24 L148.62 914.06 L154.05 911.92 L159.49 909.81 L164.92 907.76 L170.35 905.74 L175.79 903.75 L181.22 901.79 L186.66 899.85 L192.09 897.93 L197.52 896.02 L202.96 894.11 L208.39 892.19 L213.83 890.27 L219.26 888.33 L224.69 886.38 L230.13 884.41 L235.56 882.44 L241 880.45 L246.43 878.46 L251.86 876.46 L257.3 874.45 L262.73 872.45 L268.17 870.45 L273.6 868.44 L279.03 866.45 L284.47 864.45 L289.9 862.47 L295.34 860.49 L300.77 858.53 L306.2 856.58 L311.64 854.64 L317.07 852.72 L322.51 850.82 L327.94 848.94 L333.37 847.08 L338.81 845.25 L344.24 843.44 L349.67 841.66 L355.11 839.9 L360.54 838.18 L365.98 836.48 L371.41 834.8 L376.84 833.14 L382.28 831.49 L387.71 829.86 L393.15 828.25 L398.58 826.65 L404.01 825.06 L409.45 823.49 L414.88 821.93 L420.32 820.39 L425.75 818.85 L431.18 817.33 L436.62 815.81 L442.05 814.31 L447.49 812.81 L452.92 811.32 L458.35 809.84 L463.79 808.36 L469.22 806.88 L474.66 805.42 L480.09 803.95 L485.52 802.49 L490.96 801.03 L496.39 799.57 L501.83 798.11 L507.26 796.66 L512.69 795.22 L518.13 793.78 L523.56 792.35 L529 790.93 L534.43 789.51 L539.86 788.09 L545.3 786.69 L550.73 785.29 L556.16 783.89 L561.6 782.51 L567.03 781.13 L572.47 779.75 L577.9 778.38 L583.33 777.02 L588.77 775.67 L594.2 774.32 L599.64 772.98 L605.07 771.64 L610.5 770.32 L615.94 769 L621.37 767.68 L626.81 766.38 L632.24 765.08" stroke="#0000FF" stroke-width="2.8" fill="none" stroke-dasharray="12.3 7.5" />
</g>
<path d="M114.8 640.8 L141.8 640.8 L128.3 617.8 Z" fill="#0000FF" fill-opacity="1" />
<circle cx="127.9" cy="664.3" r="12" fill="#FF0000" fill-opacity="1" />
<text x="150.3" y="639.3" font-size="27" font-weight="bold" fill="#0000FF" text-anchor="start" >PT-E</text>
<text x="150.3" y="674.6" font-size="27" font-weight="bold" fill="#FF0000" text-anchor="start" >PTT-E 300 K</text>
<text x="496" y="637.5" font-size="27" font-weight="bold">2 nm s<tspan dy="-10" font-size="17">-1</tspan></text>
<rect x="77.2" y="591.6" width="555.8" height="454.7" fill="none" stroke="#000" stroke-width="2.5"/>
<clipPath id="clipe"><rect x="746.8" y="588.5" width="560.6" height="459.5"/></clipPath>
<line x1="755.1" y1="1046.6" x2="755.1" y2="1039.1" stroke="#000" stroke-width="2.5" />
<line x1="892.7" y1="1046.6" x2="892.7" y2="1039.1" stroke="#000" stroke-width="2.5" />
<line x1="1030.3" y1="1046.6" x2="1030.3" y2="1039.1" stroke="#000" stroke-width="2.5" />
<line x1="1167.9" y1="1046.6" x2="1167.9" y2="1039.1" stroke="#000" stroke-width="2.5" />
<line x1="823.9" y1="1046.6" x2="823.9" y2="1042.4" stroke="#000" stroke-width="2.5" />
<line x1="961.5" y1="1046.6" x2="961.5" y2="1042.4" stroke="#000" stroke-width="2.5" />
<line x1="1099.1" y1="1046.6" x2="1099.1" y2="1042.4" stroke="#000" stroke-width="2.5" />
<line x1="1236.7" y1="1046.6" x2="1236.7" y2="1042.4" stroke="#000" stroke-width="2.5" />
<line x1="748.2" y1="666.03" x2="756" y2="666.03" stroke="#000" stroke-width="2.5" />
<line x1="748.2" y1="742.16" x2="756" y2="742.16" stroke="#000" stroke-width="2.5" />
<line x1="748.2" y1="818.29" x2="756" y2="818.29" stroke="#000" stroke-width="2.5" />
<line x1="748.2" y1="894.42" x2="756" y2="894.42" stroke="#000" stroke-width="2.5" />
<line x1="748.2" y1="970.55" x2="756" y2="970.55" stroke="#000" stroke-width="2.5" />
<line x1="748.2" y1="627.96" x2="752.4" y2="627.96" stroke="#000" stroke-width="2.5" />
<line x1="748.2" y1="704.1" x2="752.4" y2="704.1" stroke="#000" stroke-width="2.5" />
<line x1="748.2" y1="780.22" x2="752.4" y2="780.22" stroke="#000" stroke-width="2.5" />
<line x1="748.2" y1="856.36" x2="752.4" y2="856.36" stroke="#000" stroke-width="2.5" />
<line x1="748.2" y1="932.48" x2="752.4" y2="932.48" stroke="#000" stroke-width="2.5" />
<line x1="748.2" y1="1008.62" x2="752.4" y2="1008.62" stroke="#000" stroke-width="2.5" />
<text x="755.1" y="1074.1" font-size="25" fill="#000" text-anchor="middle" >0.0</text>
<text x="892.7" y="1074.1" font-size="25" fill="#000" text-anchor="middle" >20</text>
<text x="1030.3" y="1074.1" font-size="25" fill="#000" text-anchor="middle" >40</text>
<text x="1167.9" y="1074.1" font-size="25" fill="#000" text-anchor="middle" >60</text>
<text x="1305.5" y="1074.1" font-size="25" fill="#000" text-anchor="middle" >80</text>
<text x="741.9" y="600.4" font-size="25" fill="#000" text-anchor="end" >1.6</text>
<text x="741.9" y="660.12" font-size="25" fill="#000" text-anchor="end" >1.4</text>
<text x="741.9" y="719.84" font-size="25" fill="#000" text-anchor="end" >1.2</text>
<text x="741.9" y="779.56" font-size="25" fill="#000" text-anchor="end" >1.0</text>
<text x="741.9" y="839.28" font-size="25" fill="#000" text-anchor="end" >0.8</text>
<text x="741.9" y="899" font-size="25" fill="#000" text-anchor="end" >0.6</text>
<text x="741.9" y="958.72" font-size="25" fill="#000" text-anchor="end" >0.4</text>
<text x="741.9" y="1018.44" font-size="25" fill="#000" text-anchor="end" >0.2</text>
<text x="1013" y="1103.5" font-size="27" font-weight="bold" fill="#000" text-anchor="middle" >AC frequency&#160;&#160;(kHz)</text>
<text x="692" y="825" font-size="27" font-weight="bold" fill="#000" text-anchor="middle" transform="rotate(-90 692 825)" >Norm. friction</text>
<text x="672" y="583" font-size="45" font-weight="bold" fill="#000" text-anchor="start" >e</text>
<g clip-path="url(#clipe)">
<circle cx="1301.43" cy="872.02" r="6.9" fill="#FF0000" fill-opacity="0.5" />
<circle cx="1242.6" cy="889.5" r="6.9" fill="#FF0000" fill-opacity="0.5" />
<circle cx="1189.48" cy="900.59" r="6.9" fill="#FF0000" fill-opacity="0.5" />
<circle cx="1143.09" cy="905.64" r="6.9" fill="#FF0000" fill-opacity="0.5" />
<circle cx="1100.4" cy="912.36" r="6.9" fill="#FF0000" fill-opacity="0.5" />
<circle cx="1062.74" cy="916.39" r="6.9" fill="#FF0000" fill-opacity="0.5" />
<circle cx="1029.13" cy="928.16" r="6.9" fill="#FF0000" fill-opacity="0.5" />
<circle cx="998.87" cy="933.2" r="6.9" fill="#FF0000" fill-opacity="0.5" />
<circle cx="972.65" cy="935.89" r="6.9" fill="#FF0000" fill-opacity="0.5" />
<circle cx="948.44" cy="950.01" r="6.9" fill="#FF0000" fill-opacity="0.5" />
<circle cx="927.94" cy="960.77" r="6.9" fill="#FF0000" fill-opacity="0.5" />
<circle cx="908.77" cy="957.74" r="6.9" fill="#FF0000" fill-opacity="0.5" />
<circle cx="891.96" cy="954.05" r="6.9" fill="#FF0000" fill-opacity="0.5" />
<circle cx="877.51" cy="956.73" r="6.9" fill="#FF0000" fill-opacity="0.5" />
<circle cx="864.06" cy="960.1" r="6.9" fill="#FF0000" fill-opacity="0.5" />
<circle cx="851.62" cy="975.22" r="6.9" fill="#FF0000" fill-opacity="0.5" />
<circle cx="841.54" cy="969.17" r="6.9" fill="#FF0000" fill-opacity="0.5" />
<circle cx="832.46" cy="967.83" r="6.9" fill="#FF0000" fill-opacity="0.5" />
<circle cx="824.06" cy="977.91" r="6.9" fill="#FF0000" fill-opacity="0.5" />
<circle cx="816.32" cy="971.86" r="6.9" fill="#FF0000" fill-opacity="0.5" />
<circle cx="809.6" cy="979.26" r="6.9" fill="#FF0000" fill-opacity="0.5" />
<circle cx="803.55" cy="970.18" r="6.9" fill="#FF0000" fill-opacity="0.5" />
<circle cx="797.83" cy="968.5" r="6.9" fill="#FF0000" fill-opacity="0.5" />
<circle cx="792.79" cy="969.17" r="6.9" fill="#FF0000" fill-opacity="0.5" />
<circle cx="787.75" cy="955.05" r="6.9" fill="#FF0000" fill-opacity="0.5" />
<circle cx="783.38" cy="953.37" r="6.9" fill="#FF0000" fill-opacity="0.5" />
<circle cx="779.34" cy="933.2" r="6.9" fill="#FF0000" fill-opacity="0.5" />
<circle cx="775.98" cy="934.88" r="6.9" fill="#FF0000" fill-opacity="0.5" />
<circle cx="772.62" cy="906.31" r="6.9" fill="#FF0000" fill-opacity="0.5" />
<circle cx="769.93" cy="907.99" r="6.9" fill="#FF0000" fill-opacity="0.5" />
<circle cx="766.91" cy="871.01" r="6.9" fill="#FF0000" fill-opacity="0.5" />
<circle cx="764.89" cy="862.6" r="6.9" fill="#FF0000" fill-opacity="0.5" />
<circle cx="762.53" cy="847.48" r="6.9" fill="#FF0000" fill-opacity="0.5" />
<circle cx="760.85" cy="813.86" r="6.9" fill="#FF0000" fill-opacity="0.5" />
<circle cx="759.85" cy="797.05" r="6.9" fill="#FF0000" fill-opacity="0.5" />
<circle cx="758.16" cy="771.84" r="6.9" fill="#FF0000" fill-opacity="0.5" />
<circle cx="757.49" cy="763.43" r="6.9" fill="#FF0000" fill-opacity="0.5" />
<circle cx="756.48" cy="749.98" r="6.9" fill="#FF0000" fill-opacity="0.5" />
<circle cx="755.81" cy="739.9" r="6.9" fill="#FF0000" fill-opacity="0.5" />
<circle cx="755.14" cy="729.81" r="6.9" fill="#FF0000" fill-opacity="0.5" />
<circle cx="754.8" cy="724.77" r="6.9" fill="#FF0000" fill-opacity="0.5" />
<circle cx="755.48" cy="734.86" r="6.9" fill="#FF0000" fill-opacity="0.5" />
<circle cx="756.15" cy="744.94" r="6.9" fill="#FF0000" fill-opacity="0.5" />
<circle cx="755.14" cy="739.23" r="6.9" fill="#FF0000" fill-opacity="0.5" />
<circle cx="755.81" cy="727.12" r="6.9" fill="#FF0000" fill-opacity="0.5" />
<circle cx="756.82" cy="756.71" r="6.9" fill="#FF0000" fill-opacity="0.5" />
<circle cx="754.8" cy="722.42" r="6.9" fill="#FF0000" fill-opacity="0.5" />
<circle cx="755.14" cy="725.78" r="6.9" fill="#FF0000" fill-opacity="0.5" />
<circle cx="755.48" cy="729.14" r="6.9" fill="#FF0000" fill-opacity="0.5" />
<circle cx="754.8" cy="732.5" r="6.9" fill="#FF0000" fill-opacity="0.5" />
<circle cx="755.14" cy="735.86" r="6.9" fill="#FF0000" fill-opacity="0.5" />
<circle cx="755.81" cy="738.22" r="6.9" fill="#FF0000" fill-opacity="0.5" />
<circle cx="755.48" cy="741.58" r="6.9" fill="#FF0000" fill-opacity="0.5" />
<circle cx="756.15" cy="747.29" r="6.9" fill="#FF0000" fill-opacity="0.5" />
<circle cx="756.48" cy="753.35" r="6.9" fill="#FF0000" fill-opacity="0.5" />
<circle cx="755.14" cy="720.4" r="6.9" fill="#FF0000" fill-opacity="0.5" />
<circle cx="756.15" cy="731.49" r="6.9" fill="#FF0000" fill-opacity="0.5" />
<circle cx="754.47" cy="728.13" r="6.9" fill="#FF0000" fill-opacity="0.5" />
<circle cx="757.16" cy="760.07" r="6.9" fill="#FF0000" fill-opacity="0.5" />
<circle cx="757.49" cy="767.47" r="6.9" fill="#FF0000" fill-opacity="0.5" />
<path d="M1294.6 807.73 L1309.6 807.73 L1302.1 794.43 Z" fill="#0000FF" fill-opacity="0.5" />
<path d="M1235.77 823.2 L1250.77 823.2 L1243.27 809.9 Z" fill="#0000FF" fill-opacity="0.5" />
<path d="M1182.66 836.64 L1197.66 836.64 L1190.16 823.34 Z" fill="#0000FF" fill-opacity="0.5" />
<path d="M1135.59 849.08 L1150.59 849.08 L1143.09 835.78 Z" fill="#0000FF" fill-opacity="0.5" />
<path d="M1093.57 860.85 L1108.57 860.85 L1101.07 847.55 Z" fill="#0000FF" fill-opacity="0.5" />
<path d="M1055.92 874.3 L1070.92 874.3 L1063.42 861 Z" fill="#0000FF" fill-opacity="0.5" />
<path d="M1022.3 883.71 L1037.3 883.71 L1029.8 870.41 Z" fill="#0000FF" fill-opacity="0.5" />
<path d="M992.04 892.79 L1007.04 892.79 L999.54 879.49 Z" fill="#0000FF" fill-opacity="0.5" />
<path d="M965.15 901.19 L980.15 901.19 L972.65 887.89 Z" fill="#0000FF" fill-opacity="0.5" />
<path d="M941.61 910.6 L956.61 910.6 L949.11 897.3 Z" fill="#0000FF" fill-opacity="0.5" />
<path d="M920.44 916.32 L935.44 916.32 L927.94 903.02 Z" fill="#0000FF" fill-opacity="0.5" />
<path d="M901.27 922.03 L916.27 922.03 L908.77 908.73 Z" fill="#0000FF" fill-opacity="0.5" />
<path d="M884.46 928.09 L899.46 928.09 L891.96 914.79 Z" fill="#0000FF" fill-opacity="0.5" />
<path d="M869.34 932.46 L884.34 932.46 L876.84 919.16 Z" fill="#0000FF" fill-opacity="0.5" />
<path d="M855.89 934.81 L870.89 934.81 L863.39 921.51 Z" fill="#0000FF" fill-opacity="0.5" />
<path d="M844.12 938.17 L859.12 938.17 L851.62 924.87 Z" fill="#0000FF" fill-opacity="0.5" />
<path d="M834.04 938.17 L849.04 938.17 L841.54 924.87 Z" fill="#0000FF" fill-opacity="0.5" />
<path d="M824.96 939.85 L839.96 939.85 L832.46 926.55 Z" fill="#0000FF" fill-opacity="0.5" />
<path d="M816.56 938.84 L831.56 938.84 L824.06 925.54 Z" fill="#0000FF" fill-opacity="0.5" />
<path d="M747.86 666.54 L762.86 666.54 L755.36 653.24 Z" fill="#0000FF" fill-opacity="0.5" />
<path d="M747.88 666.54 L762.88 666.54 L755.38 653.24 Z" fill="#0000FF" fill-opacity="0.5" />
<path d="M747.91 666.54 L762.91 666.54 L755.41 653.24 Z" fill="#0000FF" fill-opacity="0.5" />
<path d="M747.94 666.54 L762.94 666.54 L755.44 653.24 Z" fill="#0000FF" fill-opacity="0.5" />
<path d="M747.98 666.54 L762.98 666.54 L755.48 653.24 Z" fill="#0000FF" fill-opacity="0.5" />
<path d="M748.02 666.54 L763.02 666.54 L755.52 653.24 Z" fill="#0000FF" fill-opacity="0.5" />
<path d="M748.07 666.54 L763.07 666.54 L755.57 653.24 Z" fill="#0000FF" fill-opacity="0.5" />
<path d="M748.12 666.54 L763.12 666.54 L755.62 653.24 Z" fill="#0000FF" fill-opacity="0.5" />
<path d="M748.18 666.54 L763.18 666.54 L755.68 653.24 Z" fill="#0000FF" fill-opacity="0.5" />
<path d="M748.25 666.54 L763.25 666.54 L755.75 653.24 Z" fill="#0000FF" fill-opacity="0.5" />
<path d="M748.32 666.67 L763.32 666.67 L755.82 653.37 Z" fill="#0000FF" fill-opacity="0.5" />
<path d="M748.41 667.61 L763.41 667.61 L755.91 654.31 Z" fill="#0000FF" fill-opacity="0.5" />
<path d="M748.5 668.67 L763.5 668.67 L756 655.37 Z" fill="#0000FF" fill-opacity="0.5" />
<path d="M748.61 669.86 L763.61 669.86 L756.11 656.56 Z" fill="#0000FF" fill-opacity="0.5" />
<path d="M748.72 671.2 L763.72 671.2 L756.22 657.9 Z" fill="#0000FF" fill-opacity="0.5" />
<path d="M748.86 672.72 L763.86 672.72 L756.36 659.42 Z" fill="#0000FF" fill-opacity="0.5" />
<path d="M749 674.42 L764 674.42 L756.5 661.12 Z" fill="#0000FF" fill-opacity="0.5" />
<path d="M749.17 676.34 L764.17 676.34 L756.67 663.04 Z" fill="#0000FF" fill-opacity="0.5" />
<path d="M749.36 678.51 L764.36 678.51 L756.86 665.21 Z" fill="#0000FF" fill-opacity="0.5" />
<path d="M749.57 680.97 L764.57 680.97 L757.07 667.67 Z" fill="#0000FF" fill-opacity="0.5" />
<path d="M749.8 683.74 L764.8 683.74 L757.3 670.44 Z" fill="#0000FF" fill-opacity="0.5" />
<path d="M750.07 686.89 L765.07 686.89 L757.57 673.59 Z" fill="#0000FF" fill-opacity="0.5" />
<path d="M750.36 690.46 L765.36 690.46 L757.86 677.16 Z" fill="#0000FF" fill-opacity="0.5" />
<path d="M750.69 694.52 L765.69 694.52 L758.19 681.22 Z" fill="#0000FF" fill-opacity="0.5" />
<path d="M751.07 699.16 L766.07 699.16 L758.57 685.86 Z" fill="#0000FF" fill-opacity="0.5" />
<path d="M751.49 704.47 L766.49 704.47 L758.99 691.17 Z" fill="#0000FF" fill-opacity="0.5" />
<path d="M751.96 710.62 L766.96 710.62 L759.46 697.32 Z" fill="#0000FF" fill-opacity="0.5" />
<path d="M752.48 717.96 L767.48 717.96 L759.98 704.66 Z" fill="#0000FF" fill-opacity="0.5" />
<path d="M753.07 726.58 L768.07 726.58 L760.57 713.28 Z" fill="#0000FF" fill-opacity="0.5" />
<path d="M753.74 734.32 L768.74 734.32 L761.24 721.02 Z" fill="#0000FF" fill-opacity="0.5" />
<path d="M754.48 744.76 L769.48 744.76 L761.98 731.46 Z" fill="#0000FF" fill-opacity="0.5" />
<path d="M755.31 755.35 L770.31 755.35 L762.81 742.05 Z" fill="#0000FF" fill-opacity="0.5" />
<path d="M756.25 766.19 L771.25 766.19 L763.75 752.89 Z" fill="#0000FF" fill-opacity="0.5" />
<path d="M757.3 777.57 L772.3 777.57 L764.8 764.27 Z" fill="#0000FF" fill-opacity="0.5" />
<path d="M758.48 789.74 L773.48 789.74 L765.98 776.44 Z" fill="#0000FF" fill-opacity="0.5" />
<path d="M759.8 802.98 L774.8 802.98 L767.3 789.68 Z" fill="#0000FF" fill-opacity="0.5" />
<path d="M761.29 817.63 L776.29 817.63 L768.79 804.33 Z" fill="#0000FF" fill-opacity="0.5" />
<path d="M762.95 832.21 L777.95 832.21 L770.45 818.91 Z" fill="#0000FF" fill-opacity="0.5" />
<path d="M764.82 845.59 L779.82 845.59 L772.32 832.29 Z" fill="#0000FF" fill-opacity="0.5" />
<path d="M766.92 858.04 L781.92 858.04 L774.42 844.74 Z" fill="#0000FF" fill-opacity="0.5" />
<path d="M769.27 870.09 L784.27 870.09 L776.77 856.79 Z" fill="#0000FF" fill-opacity="0.5" />
<path d="M771.91 881.5 L786.91 881.5 L779.41 868.2 Z" fill="#0000FF" fill-opacity="0.5" />
<path d="M774.87 891.94 L789.87 891.94 L782.37 878.64 Z" fill="#0000FF" fill-opacity="0.5" />
<path d="M778.2 901.21 L793.2 901.21 L785.7 887.91 Z" fill="#0000FF" fill-opacity="0.5" />
<path d="M781.93 909.93 L796.93 909.93 L789.43 896.63 Z" fill="#0000FF" fill-opacity="0.5" />
<path d="M786.11 918.37 L801.11 918.37 L793.61 905.07 Z" fill="#0000FF" fill-opacity="0.5" />
<path d="M790.8 925.68 L805.8 925.68 L798.3 912.38 Z" fill="#0000FF" fill-opacity="0.5" />
<path d="M796.07 931.67 L811.07 931.67 L803.57 918.37 Z" fill="#0000FF" fill-opacity="0.5" />
<path d="M801.98 936.09 L816.98 936.09 L809.48 922.79 Z" fill="#0000FF" fill-opacity="0.5" />
<path d="M808.61 939.27 L823.61 939.27 L816.11 925.97 Z" fill="#0000FF" fill-opacity="0.5" />
<path d="M747.64 663.51 L762.64 663.51 L755.14 650.21 Z" fill="#0000FF" fill-opacity="0.5" />
<path d="M747.98 664.52 L762.98 664.52 L755.48 651.22 Z" fill="#0000FF" fill-opacity="0.5" />
<path d="M747.64 665.53 L762.64 665.53 L755.14 652.23 Z" fill="#0000FF" fill-opacity="0.5" />
<path d="M748.31 666.54 L763.31 666.54 L755.81 653.24 Z" fill="#0000FF" fill-opacity="0.5" />
<path d="M747.98 667.55 L762.98 667.55 L755.48 654.25 Z" fill="#0000FF" fill-opacity="0.5" />
<path d="M747.98 665.87 L762.98 665.87 L755.48 652.57 Z" fill="#0000FF" fill-opacity="0.5" />
<path d="M748.65 668.56 L763.65 668.56 L756.15 655.26 Z" fill="#0000FF" fill-opacity="0.5" />
<path d="M749.66 675.95 L764.66 675.95 L757.16 662.65 Z" fill="#0000FF" fill-opacity="0.5" />
<path d="M750.33 683.35 L765.33 683.35 L757.83 670.05 Z" fill="#0000FF" fill-opacity="0.5" />
<path d="M751.34 693.43 L766.34 693.43 L758.84 680.13 Z" fill="#0000FF" fill-opacity="0.5" />
<path d="M752.35 706.21 L767.35 706.21 L759.85 692.91 Z" fill="#0000FF" fill-opacity="0.5" />
<path d="M753.35 719.65 L768.35 719.65 L760.85 706.35 Z" fill="#0000FF" fill-opacity="0.5" />
<path d="M754.36 731.42 L769.36 731.42 L761.86 718.12 Z" fill="#0000FF" fill-opacity="0.5" />
<path d="M755.37 744.87 L770.37 744.87 L762.87 731.57 Z" fill="#0000FF" fill-opacity="0.5" />
<path d="M756.38 756.63 L771.38 756.63 L763.88 743.33 Z" fill="#0000FF" fill-opacity="0.5" />
<path d="M757.05 766.72 L772.05 766.72 L764.55 753.42 Z" fill="#0000FF" fill-opacity="0.5" />
<path d="M755.14 743.26 L755.2 747.04 L755.28 750.82 L755.36 754.6 L755.46 758.38 L755.56 762.16 L755.66 765.94 L755.78 769.72 L755.9 773.49 L756.02 777.27 L756.15 781.05 L756.28 784.83 L756.42 788.6 L756.56 792.38 L756.71 796.16 L756.88 799.93 L757.05 803.71 L757.24 807.49 L757.43 811.26 L757.64 815.04 L757.86 818.81 L758.08 822.58 L758.32 826.35 L758.57 830.13 L758.84 833.9 L759.12 837.67 L759.42 841.44 L759.73 845.2 L760.06 848.97 L760.4 852.74 L760.75 856.5 L761.12 860.26 L761.49 864.02 L761.88 867.79 L762.29 871.55 L762.72 875.31 L763.18 879.07 L763.67 882.82 L764.19 886.56 L764.75 890.29 L765.36 894 L766.05 897.72 L766.81 901.43 L767.63 905.13 L768.51 908.82 L769.44 912.49 L770.41 916.14 L771.42 919.77 L772.5 923.39 L773.66 927.02 L774.9 930.61 L776.22 934.17 L777.63 937.68 L779.12 941.12 L780.72 944.55 L782.45 948.01 L784.34 951.41 L786.4 954.62 L788.65 957.54 L791.16 960.13 L794.12 962.57 L797.35 964.76 L800.68 966.58 L804.08 968.12 L807.66 969.57 L811.33 970.68 L815.03 971.22 L818.75 971.43 L822.52 971.61 L826.32 971.74 L830.13 971.82 L833.93 971.86 L837.7 971.81 L841.48 971.61 L845.26 971.28 L849.03 970.88 L852.78 970.44 L856.51 969.99 L860.23 969.42 L863.93 968.72 L867.62 967.92 L871.3 967.04 L874.98 966.11 L878.65 965.15 L882.32 964.18 L886 963.22 L889.67 962.31 L893.36 961.46 L897.05 960.63 L900.73 959.8 L904.42 958.98 L908.11 958.15 L911.8 957.32 L915.49 956.49 L919.17 955.65 L922.86 954.8 L926.54 953.94 L930.22 953.07 L933.89 952.19 L937.57 951.31 L941.24 950.42 L944.92 949.52 L948.59 948.61 L952.25 947.68 L955.91 946.74 L959.57 945.78 L963.21 944.79 L966.85 943.77 L970.47 942.71 L974.09 941.62 L977.71 940.51 L981.32 939.39 L984.93 938.27 L988.55 937.16 L992.17 936.07 L995.79 935 L999.42 933.95 L1003.06 932.9 L1006.69 931.87 L1010.33 930.84 L1013.97 929.82 L1017.61 928.81 L1021.26 927.8 L1024.9 926.8 L1028.55 925.81 L1032.2 924.82 L1035.85 923.84 L1039.5 922.86 L1043.15 921.88 L1046.8 920.91 L1050.46 919.94 L1054.11 918.98 L1057.77 918.02 L1061.43 917.06 L1065.08 916.11 L1068.74 915.16 L1072.4 914.22 L1076.07 913.28 L1079.73 912.34 L1083.39 911.41 L1087.06 910.49 L1090.72 909.56 L1094.39 908.65 L1098.06 907.73 L1101.73 906.82 L1105.39 905.92 L1109.06 905.01 L1112.74 904.11 L1116.41 903.21 L1120.08 902.32 L1123.75 901.42 L1127.43 900.54 L1131.11 899.65 L1134.78 898.77 L1138.46 897.9 L1142.14 897.03 L1145.82 896.17 L1149.5 895.31 L1153.18 894.46 L1156.87 893.61 L1160.55 892.77 L1164.24 891.94 L1167.93 891.11 L1171.62 890.29 L1175.31 889.47 L1179 888.64 L1182.69 887.82 L1186.38 887 L1190.07 886.19 L1193.77 885.38 L1197.46 884.58 L1201.16 883.78 L1204.86 883 L1208.56 882.23 L1212.26 881.46 L1215.97 880.71 L1219.67 879.98 L1223.38 879.25 L1227.09 878.55 L1230.81 877.86 L1234.52 877.19 L1238.24 876.52 L1241.96 875.86 L1245.68 875.21 L1249.4 874.56 L1253.13 873.92 L1256.86 873.29 L1260.58 872.67 L1264.31 872.06 L1268.05 871.46 L1271.78 870.86 L1275.51 870.28 L1279.25 869.7 L1282.99 869.14 L1286.73 868.58 L1290.47 868.04 L1294.22 867.5 L1297.97 866.98 L1301.71 866.47 L1305.46 865.97" stroke="#FF0000" stroke-width="2.8" fill="none" stroke-dasharray="12.3 7.5" />
<path d="M755.81 655.85 L756.16 659.86 L756.51 663.86 L756.86 667.86 L757.2 671.87 L757.54 675.87 L757.87 679.87 L758.2 683.88 L758.52 687.88 L758.84 691.89 L759.15 695.89 L759.45 699.9 L759.74 703.91 L760.03 707.92 L760.3 711.92 L760.58 715.93 L760.85 719.94 L761.12 723.95 L761.4 727.96 L761.68 731.97 L761.97 735.98 L762.28 739.98 L762.59 743.99 L762.92 747.99 L763.27 751.99 L763.62 756 L763.97 760 L764.34 764 L764.72 768 L765.1 772 L765.48 776 L765.88 780 L766.27 784 L766.67 788 L767.07 791.99 L767.47 795.99 L767.87 799.99 L768.27 803.99 L768.69 807.99 L769.11 811.99 L769.55 815.98 L770.02 819.97 L770.51 823.96 L771.02 827.94 L771.58 831.92 L772.16 835.89 L772.79 839.86 L773.45 843.83 L774.14 847.79 L774.86 851.75 L775.61 855.69 L776.4 859.63 L777.23 863.56 L778.11 867.49 L779.05 871.41 L780.06 875.3 L781.13 879.17 L782.28 883 L783.56 886.81 L784.94 890.6 L786.42 894.35 L787.99 898.06 L789.63 901.7 L791.36 905.35 L793.21 908.98 L795.22 912.49 L797.4 915.81 L799.84 918.96 L802.6 922.04 L805.6 924.8 L808.78 927.02 L812.29 929.02 L816.05 930.75 L819.93 931.95 L823.82 932.49 L827.83 932.89 L831.89 933.14 L835.89 933.18 L839.87 932.7 L843.82 931.86 L847.76 930.95 L851.68 930.08 L855.58 929.09 L859.47 928.07 L863.36 927.07 L867.26 926.09 L871.15 925.1 L875.05 924.12 L878.94 923.13 L882.83 922.13 L886.72 921.13 L890.61 920.11 L894.5 919.09 L898.38 918.06 L902.26 917.02 L906.14 915.98 L910.02 914.93 L913.9 913.88 L917.77 912.81 L921.64 911.73 L925.51 910.65 L929.38 909.55 L933.23 908.43 L937.09 907.29 L940.94 906.14 L944.78 904.98 L948.63 903.81 L952.47 902.64 L956.32 901.47 L960.16 900.31 L964.01 899.15 L967.86 898 L971.71 896.86 L975.57 895.71 L979.42 894.57 L983.27 893.42 L987.12 892.26 L990.96 891.1 L994.8 889.92 L998.64 888.73 L1002.47 887.53 L1006.3 886.32 L1010.13 885.09 L1013.95 883.86 L1017.78 882.63 L1021.6 881.39 L1025.42 880.15 L1029.25 878.92 L1033.07 877.69 L1036.9 876.45 L1040.72 875.21 L1044.54 873.97 L1048.36 872.73 L1052.18 871.49 L1056 870.25 L1059.82 869 L1063.64 867.76 L1067.46 866.51 L1071.28 865.27 L1075.11 864.02 L1078.93 862.78 L1082.75 861.53 L1086.57 860.29 L1090.39 859.05 L1094.21 857.81 L1098.03 856.57 L1101.85 855.32 L1105.67 854.07 L1109.49 852.82 L1113.3 851.56 L1117.12 850.3 L1120.94 849.04 L1124.75 847.78 L1128.57 846.53 L1132.39 845.27 L1136.21 844.02 L1140.03 842.77 L1143.85 841.53 L1147.67 840.3 L1151.5 839.07 L1155.33 837.86 L1159.16 836.65 L1162.99 835.46 L1166.83 834.27 L1170.67 833.1 L1174.52 831.95 L1178.37 830.81 L1182.23 829.68 L1186.09 828.56 L1189.95 827.45 L1193.81 826.35 L1197.68 825.25 L1201.55 824.15 L1205.41 823.06 L1209.28 821.96 L1213.14 820.86 L1217.01 819.76 L1220.87 818.65 L1224.73 817.53 L1228.58 816.4 L1232.44 815.26 L1236.29 814.12 L1240.14 812.97 L1243.99 811.82 L1247.84 810.67 L1251.69 809.51 L1255.53 808.35 L1259.38 807.19 L1263.22 806.02 L1267.07 804.86 L1270.91 803.69 L1274.75 802.51 L1278.6 801.34 L1282.44 800.16 L1286.28 798.97 L1290.12 797.79 L1293.96 796.6 L1297.79 795.41 L1301.63 794.21 L1305.46 793.02" stroke="#0000FF" stroke-width="2.8" fill="none" stroke-dasharray="12.3 7.5" />
</g>
<path d="M799.46 638.78 L826.46 638.78 L812.96 615.78 Z" fill="#0000FF" fill-opacity="1" />
<circle cx="812.96" cy="662.58" r="12" fill="#FF0000" fill-opacity="1" />
<text x="835.49" y="639.04" font-size="27" font-weight="bold" fill="#0000FF" text-anchor="start" >PT-E</text>
<text x="835.49" y="673.67" font-size="27" font-weight="bold" fill="#FF0000" text-anchor="start" >PTT-E 300 K</text>
<text x="1127.29" y="634.67" font-size="27" font-weight="bold">500 nm s<tspan dy="-10" font-size="17">-1</tspan></text>
<rect x="748.2" y="589.9" width="557.8" height="456.7" fill="none" stroke="#000" stroke-width="2.5"/>
<clipPath id="clipf"><rect x="1415" y="589.2" width="561.4" height="459.8"/></clipPath>
<line x1="1422.8" y1="1047.6" x2="1422.8" y2="1040.1" stroke="#000" stroke-width="2.5" />
<line x1="1560.72" y1="1047.6" x2="1560.72" y2="1040.1" stroke="#000" stroke-width="2.5" />
<line x1="1698.64" y1="1047.6" x2="1698.64" y2="1040.1" stroke="#000" stroke-width="2.5" />
<line x1="1836.56" y1="1047.6" x2="1836.56" y2="1040.1" stroke="#000" stroke-width="2.5" />
<line x1="1491.76" y1="1047.6" x2="1491.76" y2="1043.4" stroke="#000" stroke-width="2.5" />
<line x1="1629.68" y1="1047.6" x2="1629.68" y2="1043.4" stroke="#000" stroke-width="2.5" />
<line x1="1767.6" y1="1047.6" x2="1767.6" y2="1043.4" stroke="#000" stroke-width="2.5" />
<line x1="1905.52" y1="1047.6" x2="1905.52" y2="1043.4" stroke="#000" stroke-width="2.5" />
<line x1="1416.4" y1="673.8" x2="1424.2" y2="673.8" stroke="#000" stroke-width="2.5" />
<line x1="1416.4" y1="757" x2="1424.2" y2="757" stroke="#000" stroke-width="2.5" />
<line x1="1416.4" y1="840.2" x2="1424.2" y2="840.2" stroke="#000" stroke-width="2.5" />
<line x1="1416.4" y1="923.4" x2="1424.2" y2="923.4" stroke="#000" stroke-width="2.5" />
<line x1="1416.4" y1="1006.6" x2="1424.2" y2="1006.6" stroke="#000" stroke-width="2.5" />
<line x1="1416.4" y1="632.2" x2="1420.6" y2="632.2" stroke="#000" stroke-width="2.5" />
<line x1="1416.4" y1="715.4" x2="1420.6" y2="715.4" stroke="#000" stroke-width="2.5" />
<line x1="1416.4" y1="798.6" x2="1420.6" y2="798.6" stroke="#000" stroke-width="2.5" />
<line x1="1416.4" y1="881.8" x2="1420.6" y2="881.8" stroke="#000" stroke-width="2.5" />
<line x1="1416.4" y1="965" x2="1420.6" y2="965" stroke="#000" stroke-width="2.5" />
<line x1="1416.4" y1="1048.2" x2="1420.6" y2="1048.2" stroke="#000" stroke-width="2.5" />
<text x="1422.8" y="1075.1" font-size="25" fill="#000" text-anchor="middle" >0.0</text>
<text x="1560.72" y="1075.1" font-size="25" fill="#000" text-anchor="middle" >20</text>
<text x="1698.64" y="1075.1" font-size="25" fill="#000" text-anchor="middle" >40</text>
<text x="1836.56" y="1075.1" font-size="25" fill="#000" text-anchor="middle" >60</text>
<text x="1974.48" y="1075.1" font-size="25" fill="#000" text-anchor="middle" >80</text>
<text x="1410.1" y="603.7" font-size="25" fill="#000" text-anchor="end" >1.6</text>
<text x="1410.1" y="663.33" font-size="25" fill="#000" text-anchor="end" >1.4</text>
<text x="1410.1" y="722.96" font-size="25" fill="#000" text-anchor="end" >1.2</text>
<text x="1410.1" y="782.59" font-size="25" fill="#000" text-anchor="end" >1.0</text>
<text x="1410.1" y="842.22" font-size="25" fill="#000" text-anchor="end" >0.8</text>
<text x="1410.1" y="901.85" font-size="25" fill="#000" text-anchor="end" >0.6</text>
<text x="1410.1" y="961.48" font-size="25" fill="#000" text-anchor="end" >0.4</text>
<text x="1410.1" y="1021.11" font-size="25" fill="#000" text-anchor="end" >0.2</text>
<text x="1703" y="1103.5" font-size="27" font-weight="bold" fill="#000" text-anchor="middle" >AC frequency (kHz)</text>
<text x="1366" y="825" font-size="27" font-weight="bold" fill="#000" text-anchor="middle" transform="rotate(-90 1366 825)" >Norm. friction</text>
<text x="1353" y="592" font-size="45" font-weight="bold" fill="#000" text-anchor="start" >f</text>
<g clip-path="url(#clipf)">
<circle cx="1970.15" cy="882.1" r="6.9" fill="#FF0000" fill-opacity="0.5" />
<circle cx="1911.31" cy="895.21" r="6.9" fill="#FF0000" fill-opacity="0.5" />
<circle cx="1858.53" cy="896.22" r="6.9" fill="#FF0000" fill-opacity="0.5" />
<circle cx="1811.13" cy="895.21" r="6.9" fill="#FF0000" fill-opacity="0.5" />
<circle cx="1769.11" cy="904.63" r="6.9" fill="#FF0000" fill-opacity="0.5" />
<circle cx="1730.79" cy="919.75" r="6.9" fill="#FF0000" fill-opacity="0.5" />
<circle cx="1697.84" cy="931.52" r="6.9" fill="#FF0000" fill-opacity="0.5" />
<circle cx="1667.58" cy="937.57" r="6.9" fill="#FF0000" fill-opacity="0.5" />
<circle cx="1640.69" cy="937.57" r="6.9" fill="#FF0000" fill-opacity="0.5" />
<circle cx="1617.16" cy="944.3" r="6.9" fill="#FF0000" fill-opacity="0.5" />
<circle cx="1596.99" cy="941.61" r="6.9" fill="#FF0000" fill-opacity="0.5" />
<circle cx="1577.49" cy="954.38" r="6.9" fill="#FF0000" fill-opacity="0.5" />
<circle cx="1560.68" cy="955.05" r="6.9" fill="#FF0000" fill-opacity="0.5" />
<circle cx="1544.88" cy="952.7" r="6.9" fill="#FF0000" fill-opacity="0.5" />
<circle cx="1532.1" cy="943.29" r="6.9" fill="#FF0000" fill-opacity="0.5" />
<circle cx="1520.34" cy="933.2" r="6.9" fill="#FF0000" fill-opacity="0.5" />
<circle cx="1509.58" cy="946.65" r="6.9" fill="#FF0000" fill-opacity="0.5" />
<circle cx="1500.17" cy="946.65" r="6.9" fill="#FF0000" fill-opacity="0.5" />
<circle cx="1491.09" cy="938.24" r="6.9" fill="#FF0000" fill-opacity="0.5" />
<circle cx="1484.37" cy="944.97" r="6.9" fill="#FF0000" fill-opacity="0.5" />
<circle cx="1477.64" cy="945.98" r="6.9" fill="#FF0000" fill-opacity="0.5" />
<circle cx="1472.6" cy="917.4" r="6.9" fill="#FF0000" fill-opacity="0.5" />
<circle cx="1465.88" cy="926.48" r="6.9" fill="#FF0000" fill-opacity="0.5" />
<circle cx="1460.83" cy="913.03" r="6.9" fill="#FF0000" fill-opacity="0.5" />
<circle cx="1457.47" cy="931.52" r="6.9" fill="#FF0000" fill-opacity="0.5" />
<circle cx="1452.43" cy="896.22" r="6.9" fill="#FF0000" fill-opacity="0.5" />
<circle cx="1449.07" cy="882.78" r="6.9" fill="#FF0000" fill-opacity="0.5" />
<circle cx="1446.38" cy="869.33" r="6.9" fill="#FF0000" fill-opacity="0.5" />
<circle cx="1444.02" cy="854.2" r="6.9" fill="#FF0000" fill-opacity="0.5" />
<circle cx="1442.34" cy="845.8" r="6.9" fill="#FF0000" fill-opacity="0.5" />
<circle cx="1438.98" cy="817.22" r="6.9" fill="#FF0000" fill-opacity="0.5" />
<circle cx="1436.63" cy="810.5" r="6.9" fill="#FF0000" fill-opacity="0.5" />
<circle cx="1433.94" cy="786.96" r="6.9" fill="#FF0000" fill-opacity="0.5" />
<circle cx="1432.26" cy="783.6" r="6.9" fill="#FF0000" fill-opacity="0.5" />
<circle cx="1428.9" cy="746.62" r="6.9" fill="#FF0000" fill-opacity="0.5" />
<circle cx="1426.54" cy="736.54" r="6.9" fill="#FF0000" fill-opacity="0.5" />
<circle cx="1423.85" cy="729.81" r="6.9" fill="#FF0000" fill-opacity="0.5" />
<circle cx="1422.85" cy="723.09" r="6.9" fill="#FF0000" fill-opacity="0.5" />
<circle cx="1422.17" cy="713" r="6.9" fill="#FF0000" fill-opacity="0.5" />
<circle cx="1422.85" cy="706.28" r="6.9" fill="#FF0000" fill-opacity="0.5" />
<circle cx="1423.52" cy="718.05" r="6.9" fill="#FF0000" fill-opacity="0.5" />
<circle cx="1424.19" cy="724.77" r="6.9" fill="#FF0000" fill-opacity="0.5" />
<circle cx="1422.51" cy="709.64" r="6.9" fill="#FF0000" fill-opacity="0.5" />
<circle cx="1424.86" cy="733.18" r="6.9" fill="#FF0000" fill-opacity="0.5" />
<circle cx="1423.18" cy="714.69" r="6.9" fill="#FF0000" fill-opacity="0.5" />
<circle cx="1425.53" cy="721.41" r="6.9" fill="#FF0000" fill-opacity="0.5" />
<circle cx="1423.85" cy="704.6" r="6.9" fill="#FF0000" fill-opacity="0.5" />
<circle cx="1424.53" cy="711.32" r="6.9" fill="#FF0000" fill-opacity="0.5" />
<circle cx="1422.85" cy="707.96" r="6.9" fill="#FF0000" fill-opacity="0.5" />
<circle cx="1423.52" cy="710.32" r="6.9" fill="#FF0000" fill-opacity="0.5" />
<circle cx="1423.18" cy="719.73" r="6.9" fill="#FF0000" fill-opacity="0.5" />
<circle cx="1423.85" cy="722.42" r="6.9" fill="#FF0000" fill-opacity="0.5" />
<circle cx="1424.19" cy="715.69" r="6.9" fill="#FF0000" fill-opacity="0.5" />
<circle cx="1423.52" cy="726.45" r="6.9" fill="#FF0000" fill-opacity="0.5" />
<circle cx="1424.53" cy="729.81" r="6.9" fill="#FF0000" fill-opacity="0.5" />
<circle cx="1422.85" cy="717.04" r="6.9" fill="#FF0000" fill-opacity="0.5" />
<circle cx="1423.85" cy="713" r="6.9" fill="#FF0000" fill-opacity="0.5" />
<circle cx="1425.2" cy="727.12" r="6.9" fill="#FF0000" fill-opacity="0.5" />
<circle cx="1423.52" cy="702.92" r="6.9" fill="#FF0000" fill-opacity="0.5" />
<circle cx="1424.19" cy="734.86" r="6.9" fill="#FF0000" fill-opacity="0.5" />
<path d="M1962.65 816.14 L1977.65 816.14 L1970.15 802.84 Z" fill="#0000FF" fill-opacity="0.5" />
<path d="M1903.81 832.27 L1918.81 832.27 L1911.31 818.97 Z" fill="#0000FF" fill-opacity="0.5" />
<path d="M1851.03 846.73 L1866.03 846.73 L1858.53 833.43 Z" fill="#0000FF" fill-opacity="0.5" />
<path d="M1803.63 859.84 L1818.63 859.84 L1811.13 846.54 Z" fill="#0000FF" fill-opacity="0.5" />
<path d="M1761.61 873.62 L1776.61 873.62 L1769.11 860.32 Z" fill="#0000FF" fill-opacity="0.5" />
<path d="M1723.29 884.38 L1738.29 884.38 L1730.79 871.08 Z" fill="#0000FF" fill-opacity="0.5" />
<path d="M1690.34 894.47 L1705.34 894.47 L1697.84 881.17 Z" fill="#0000FF" fill-opacity="0.5" />
<path d="M1660.08 902.87 L1675.08 902.87 L1667.58 889.57 Z" fill="#0000FF" fill-opacity="0.5" />
<path d="M1633.19 909.6 L1648.19 909.6 L1640.69 896.3 Z" fill="#0000FF" fill-opacity="0.5" />
<path d="M1609.66 916.32 L1624.66 916.32 L1617.16 903.02 Z" fill="#0000FF" fill-opacity="0.5" />
<path d="M1588.48 921.36 L1603.48 921.36 L1595.98 908.06 Z" fill="#0000FF" fill-opacity="0.5" />
<path d="M1569.32 928.09 L1584.32 928.09 L1576.82 914.79 Z" fill="#0000FF" fill-opacity="0.5" />
<path d="M1553.18 929.77 L1568.18 929.77 L1560.68 916.47 Z" fill="#0000FF" fill-opacity="0.5" />
<path d="M1537.38 933.13 L1552.38 933.13 L1544.88 919.83 Z" fill="#0000FF" fill-opacity="0.5" />
<path d="M1524.6 930.78 L1539.6 930.78 L1532.1 917.48 Z" fill="#0000FF" fill-opacity="0.5" />
<path d="M1512.84 928.09 L1527.84 928.09 L1520.34 914.79 Z" fill="#0000FF" fill-opacity="0.5" />
<path d="M1502.08 929.09 L1517.08 929.09 L1509.58 915.79 Z" fill="#0000FF" fill-opacity="0.5" />
<path d="M1491.99 925.4 L1506.99 925.4 L1499.49 912.1 Z" fill="#0000FF" fill-opacity="0.5" />
<path d="M1482.92 918 L1497.92 918 L1490.42 904.7 Z" fill="#0000FF" fill-opacity="0.5" />
<path d="M1475.19 914.64 L1490.19 914.64 L1482.69 901.34 Z" fill="#0000FF" fill-opacity="0.5" />
<path d="M1468.46 907.92 L1483.46 907.92 L1475.96 894.62 Z" fill="#0000FF" fill-opacity="0.5" />
<path d="M1462.41 894.47 L1477.41 894.47 L1469.91 881.17 Z" fill="#0000FF" fill-opacity="0.5" />
<path d="M1457.37 889.43 L1472.37 889.43 L1464.87 876.13 Z" fill="#0000FF" fill-opacity="0.5" />
<path d="M1452.66 884.38 L1467.66 884.38 L1460.16 871.08 Z" fill="#0000FF" fill-opacity="0.5" />
<path d="M1448.29 864.21 L1463.29 864.21 L1455.79 850.91 Z" fill="#0000FF" fill-opacity="0.5" />
<path d="M1444.93 850.76 L1459.93 850.76 L1452.43 837.46 Z" fill="#0000FF" fill-opacity="0.5" />
<path d="M1442.24 840.68 L1457.24 840.68 L1449.74 827.38 Z" fill="#0000FF" fill-opacity="0.5" />
<path d="M1439.21 817.15 L1454.21 817.15 L1446.71 803.85 Z" fill="#0000FF" fill-opacity="0.5" />
<path d="M1436.52 796.98 L1451.52 796.98 L1444.02 783.68 Z" fill="#0000FF" fill-opacity="0.5" />
<path d="M1433.84 773.44 L1448.84 773.44 L1441.34 760.14 Z" fill="#0000FF" fill-opacity="0.5" />
<path d="M1431.48 760 L1446.48 760 L1438.98 746.7 Z" fill="#0000FF" fill-opacity="0.5" />
<path d="M1429.8 749.91 L1444.8 749.91 L1437.3 736.61 Z" fill="#0000FF" fill-opacity="0.5" />
<path d="M1428.12 743.19 L1443.12 743.19 L1435.62 729.89 Z" fill="#0000FF" fill-opacity="0.5" />
<path d="M1426.44 709.57 L1441.44 709.57 L1433.94 696.27 Z" fill="#0000FF" fill-opacity="0.5" />
<path d="M1424.76 696.12 L1439.76 696.12 L1432.26 682.82 Z" fill="#0000FF" fill-opacity="0.5" />
<path d="M1423.08 679.31 L1438.08 679.31 L1430.58 666.01 Z" fill="#0000FF" fill-opacity="0.5" />
<path d="M1421.4 669.23 L1436.4 669.23 L1428.9 655.93 Z" fill="#0000FF" fill-opacity="0.5" />
<path d="M1419.72 662.5 L1434.72 662.5 L1427.22 649.2 Z" fill="#0000FF" fill-opacity="0.5" />
<path d="M1416.35 659.14 L1431.35 659.14 L1423.85 645.84 Z" fill="#0000FF" fill-opacity="0.5" />
<path d="M1415.68 657.8 L1430.68 657.8 L1423.18 644.5 Z" fill="#0000FF" fill-opacity="0.5" />
<path d="M1417.03 659.81 L1432.03 659.81 L1424.53 646.51 Z" fill="#0000FF" fill-opacity="0.5" />
<path d="M1416.02 658.47 L1431.02 658.47 L1423.52 645.17 Z" fill="#0000FF" fill-opacity="0.5" />
<path d="M1416.35 660.15 L1431.35 660.15 L1423.85 646.85 Z" fill="#0000FF" fill-opacity="0.5" />
<path d="M1416.69 658.13 L1431.69 658.13 L1424.19 644.83 Z" fill="#0000FF" fill-opacity="0.5" />
<path d="M1415.35 659.14 L1430.35 659.14 L1422.85 645.84 Z" fill="#0000FF" fill-opacity="0.5" />
<path d="M1416.02 660.82 L1431.02 660.82 L1423.52 647.52 Z" fill="#0000FF" fill-opacity="0.5" />
<path d="M1417.36 660.49 L1432.36 660.49 L1424.86 647.19 Z" fill="#0000FF" fill-opacity="0.5" />
<path d="M1416.69 661.83 L1431.69 661.83 L1424.19 648.53 Z" fill="#0000FF" fill-opacity="0.5" />
<path d="M1418.03 661.16 L1433.03 661.16 L1425.53 647.86 Z" fill="#0000FF" fill-opacity="0.5" />
<path d="M1415.01 657.13 L1430.01 657.13 L1422.51 643.83 Z" fill="#0000FF" fill-opacity="0.5" />
<path d="M1419.04 664.18 L1434.04 664.18 L1426.54 650.88 Z" fill="#0000FF" fill-opacity="0.5" />
<path d="M1420.39 666.54 L1435.39 666.54 L1427.89 653.24 Z" fill="#0000FF" fill-opacity="0.5" />
<path d="M1422.41 674.27 L1437.41 674.27 L1429.91 660.97 Z" fill="#0000FF" fill-opacity="0.5" />
<path d="M1423.75 687.72 L1438.75 687.72 L1431.25 674.42 Z" fill="#0000FF" fill-opacity="0.5" />
<path d="M1425.77 702.85 L1440.77 702.85 L1433.27 689.55 Z" fill="#0000FF" fill-opacity="0.5" />
<path d="M1427.11 723.02 L1442.11 723.02 L1434.61 709.72 Z" fill="#0000FF" fill-opacity="0.5" />
<path d="M1428.79 746.55 L1443.79 746.55 L1436.29 733.25 Z" fill="#0000FF" fill-opacity="0.5" />
<path d="M1432.49 766.72 L1447.49 766.72 L1439.99 753.42 Z" fill="#0000FF" fill-opacity="0.5" />
<path d="M1435.18 785.21 L1450.18 785.21 L1442.68 771.91 Z" fill="#0000FF" fill-opacity="0.5" />
<path d="M1437.87 807.06 L1452.87 807.06 L1445.37 793.76 Z" fill="#0000FF" fill-opacity="0.5" />
<path d="M1440.56 828.91 L1455.56 828.91 L1448.06 815.61 Z" fill="#0000FF" fill-opacity="0.5" />
<path d="M1443.58 845.72 L1458.58 845.72 L1451.08 832.42 Z" fill="#0000FF" fill-opacity="0.5" />
<path d="M1446.61 857.49 L1461.61 857.49 L1454.11 844.19 Z" fill="#0000FF" fill-opacity="0.5" />
<path d="M1450.31 874.3 L1465.31 874.3 L1457.81 861 Z" fill="#0000FF" fill-opacity="0.5" />
<path d="M1455.01 887.07 L1470.01 887.07 L1462.51 873.77 Z" fill="#0000FF" fill-opacity="0.5" />
<path d="M1423.85 716.37 L1424.15 720.04 L1424.44 723.72 L1424.74 727.4 L1425.04 731.08 L1425.34 734.75 L1425.65 738.43 L1425.96 742.11 L1426.27 745.78 L1426.58 749.46 L1426.9 753.14 L1427.22 756.81 L1427.54 760.49 L1427.86 764.17 L1428.17 767.84 L1428.48 771.52 L1428.79 775.2 L1429.1 778.88 L1429.42 782.56 L1429.75 786.24 L1430.08 789.91 L1430.43 793.59 L1430.79 797.26 L1431.17 800.93 L1431.57 804.59 L1431.99 808.25 L1432.43 811.91 L1432.91 815.56 L1433.42 819.22 L1433.96 822.87 L1434.53 826.52 L1435.13 830.16 L1435.76 833.8 L1436.41 837.44 L1437.08 841.07 L1437.77 844.7 L1438.48 848.31 L1439.2 851.92 L1439.96 855.53 L1440.75 859.14 L1441.57 862.74 L1442.44 866.34 L1443.34 869.93 L1444.27 873.5 L1445.24 877.06 L1446.25 880.61 L1447.29 884.14 L1448.37 887.66 L1449.5 891.19 L1450.69 894.72 L1451.93 898.22 L1453.25 901.69 L1454.64 905.12 L1456.11 908.47 L1457.67 911.75 L1459.37 915.01 L1461.22 918.25 L1463.2 921.44 L1465.31 924.54 L1467.53 927.51 L1469.85 930.33 L1472.28 932.98 L1474.9 935.63 L1477.7 938.2 L1480.65 940.61 L1483.7 942.75 L1486.84 944.54 L1490.07 946 L1493.48 947.35 L1497.02 948.57 L1500.65 949.62 L1504.31 950.46 L1507.94 951.02 L1511.57 951.44 L1515.23 951.82 L1518.92 952.15 L1522.62 952.41 L1526.32 952.6 L1530.02 952.69 L1533.7 952.69 L1537.39 952.6 L1541.08 952.45 L1544.77 952.25 L1548.46 952.01 L1552.15 951.73 L1555.83 951.43 L1559.5 951.12 L1563.15 950.77 L1566.8 950.31 L1570.44 949.74 L1574.08 949.09 L1577.71 948.39 L1581.34 947.67 L1584.96 946.94 L1588.59 946.24 L1592.23 945.59 L1595.87 944.98 L1599.51 944.37 L1603.15 943.77 L1606.79 943.16 L1610.43 942.56 L1614.07 941.95 L1617.7 941.32 L1621.34 940.69 L1624.97 940.03 L1628.59 939.36 L1632.22 938.67 L1635.84 937.96 L1639.46 937.25 L1643.08 936.52 L1646.69 935.78 L1650.31 935.04 L1653.92 934.29 L1657.53 933.54 L1661.15 932.79 L1664.76 932.03 L1668.36 931.26 L1671.97 930.48 L1675.57 929.7 L1679.18 928.91 L1682.79 928.12 L1686.39 927.34 L1690 926.57 L1693.61 925.81 L1697.22 925.06 L1700.84 924.33 L1704.46 923.61 L1708.07 922.89 L1711.7 922.19 L1715.32 921.49 L1718.94 920.8 L1722.57 920.11 L1726.19 919.43 L1729.82 918.75 L1733.45 918.07 L1737.07 917.39 L1740.7 916.71 L1744.33 916.03 L1747.95 915.34 L1751.58 914.66 L1755.2 913.96 L1758.83 913.27 L1762.45 912.56 L1766.07 911.86 L1769.69 911.15 L1773.31 910.45 L1776.93 909.74 L1780.55 909.03 L1784.17 908.32 L1787.79 907.61 L1791.41 906.9 L1795.03 906.18 L1798.65 905.47 L1802.27 904.75 L1805.89 904.04 L1809.51 903.32 L1813.13 902.6 L1816.75 901.88 L1820.37 901.16 L1823.99 900.44 L1827.61 899.72 L1831.22 899 L1834.84 898.27 L1838.46 897.55 L1842.08 896.82 L1845.69 896.09 L1849.31 895.37 L1852.93 894.64 L1856.54 893.91 L1860.16 893.18 L1863.78 892.44 L1867.39 891.71 L1871.01 890.97 L1874.62 890.24 L1878.24 889.5 L1881.85 888.75 L1885.47 888.01 L1889.08 887.26 L1892.69 886.51 L1896.3 885.76 L1899.92 885.01 L1903.53 884.25 L1907.14 883.5 L1910.75 882.74 L1914.36 881.98 L1917.97 881.21 L1921.58 880.45 L1925.19 879.68 L1928.8 878.91 L1932.4 878.14 L1936.01 877.37 L1939.62 876.6 L1943.23 875.82 L1946.83 875.04 L1950.44 874.26 L1954.05 873.48 L1957.65 872.7 L1961.26 871.91 L1964.86 871.13 L1968.46 870.34" stroke="#FF0000" stroke-width="2.8" fill="none" stroke-dasharray="12.3 7.5" />
<path d="M1429.91 634 L1430.16 637.98 L1430.41 641.96 L1430.66 645.95 L1430.9 649.93 L1431.14 653.91 L1431.37 657.89 L1431.59 661.88 L1431.8 665.86 L1432.01 669.84 L1432.22 673.83 L1432.42 677.81 L1432.62 681.79 L1432.82 685.78 L1433.03 689.76 L1433.24 693.75 L1433.45 697.73 L1433.67 701.71 L1433.9 705.69 L1434.14 709.68 L1434.37 713.66 L1434.6 717.64 L1434.84 721.63 L1435.08 725.61 L1435.32 729.6 L1435.57 733.58 L1435.83 737.56 L1436.11 741.54 L1436.4 745.52 L1436.7 749.49 L1437.02 753.47 L1437.37 757.44 L1437.74 761.4 L1438.16 765.37 L1438.61 769.33 L1439.08 773.3 L1439.58 777.26 L1440.11 781.21 L1440.65 785.17 L1441.21 789.12 L1441.77 793.07 L1442.34 797.02 L1442.92 800.96 L1443.51 804.91 L1444.13 808.86 L1444.77 812.8 L1445.44 816.73 L1446.13 820.67 L1446.86 824.59 L1447.62 828.5 L1448.42 832.4 L1449.26 836.3 L1450.15 840.19 L1451.09 844.08 L1452.08 847.95 L1453.12 851.81 L1454.21 855.65 L1455.34 859.46 L1456.54 863.25 L1457.82 867.03 L1459.2 870.79 L1460.66 874.52 L1462.19 878.21 L1463.78 881.86 L1465.44 885.48 L1467.18 889.12 L1469.01 892.72 L1470.98 896.22 L1473.09 899.57 L1475.38 902.72 L1477.94 905.81 L1480.73 908.79 L1483.69 911.56 L1486.78 914.04 L1490 916.24 L1493.44 918.34 L1497.04 920.27 L1500.75 921.89 L1504.49 923.11 L1508.3 924.02 L1512.2 924.82 L1516.18 925.49 L1520.18 926.03 L1524.16 926.44 L1528.13 926.74 L1532.11 927.01 L1536.1 927.25 L1540.1 927.41 L1544.08 927.48 L1548.06 927.38 L1552.03 927 L1556 926.47 L1559.95 925.9 L1563.9 925.35 L1567.84 924.73 L1571.77 924.04 L1575.7 923.3 L1579.62 922.51 L1583.53 921.67 L1587.42 920.8 L1591.3 919.91 L1595.16 918.97 L1599.01 917.95 L1602.85 916.86 L1606.68 915.72 L1610.49 914.54 L1614.3 913.33 L1618.1 912.1 L1621.9 910.86 L1625.69 909.63 L1629.48 908.37 L1633.25 907.07 L1637.01 905.73 L1640.76 904.37 L1644.51 903.01 L1648.27 901.65 L1652.03 900.32 L1655.8 899.02 L1659.58 897.77 L1663.38 896.57 L1667.2 895.4 L1671.02 894.25 L1674.84 893.13 L1678.68 892.01 L1682.51 890.9 L1686.34 889.79 L1690.17 888.66 L1693.99 887.52 L1697.81 886.36 L1701.61 885.17 L1705.42 883.96 L1709.21 882.75 L1713.01 881.52 L1716.8 880.29 L1720.59 879.05 L1724.38 877.8 L1728.17 876.54 L1731.96 875.29 L1735.74 874.03 L1739.53 872.77 L1743.31 871.51 L1747.1 870.25 L1750.88 868.99 L1754.67 867.73 L1758.46 866.48 L1762.25 865.24 L1766.04 863.98 L1769.82 862.73 L1773.61 861.46 L1777.39 860.2 L1781.17 858.93 L1784.96 857.66 L1788.74 856.39 L1792.52 855.12 L1796.3 853.85 L1800.09 852.58 L1803.87 851.32 L1807.66 850.07 L1811.45 848.82 L1815.24 847.57 L1819.03 846.34 L1822.83 845.11 L1826.63 843.9 L1830.43 842.7 L1834.23 841.51 L1838.05 840.33 L1841.86 839.17 L1845.68 838.02 L1849.5 836.88 L1853.33 835.76 L1857.16 834.64 L1860.99 833.52 L1864.82 832.42 L1868.65 831.32 L1872.49 830.22 L1876.33 829.12 L1880.17 828.03 L1884 826.94 L1887.84 825.85 L1891.68 824.75 L1895.51 823.66 L1899.35 822.56 L1903.18 821.46 L1907.02 820.37 L1910.86 819.28 L1914.69 818.19 L1918.53 817.1 L1922.37 816.01 L1926.21 814.92 L1930.05 813.84 L1933.89 812.76 L1937.73 811.68 L1941.57 810.6 L1945.41 809.52 L1949.25 808.45 L1953.09 807.37 L1956.93 806.3 L1960.78 805.23 L1964.62 804.17 L1968.46 803.1" stroke="#0000FF" stroke-width="2.8" fill="none" stroke-dasharray="12.3 7.5" />
</g>
<path d="M1453.05 641.13 L1480.05 641.13 L1466.55 618.13 Z" fill="#0000FF" fill-opacity="1" />
<circle cx="1466.55" cy="664.26" r="12" fill="#FF0000" fill-opacity="1" />
<text x="1486.72" y="640.73" font-size="27" font-weight="bold" fill="#0000FF" text-anchor="start" >PT-E</text>
<text x="1486.72" y="675.35" font-size="27" font-weight="bold" fill="#FF0000" text-anchor="start" >PTT-E 300 K</text>
<text x="1750.62" y="636.69" font-size="27" font-weight="bold">1000 nm s<tspan dy="-10" font-size="17">-1</tspan></text>
<rect x="1416.4" y="590.6" width="558.6" height="457" fill="none" stroke="#000" stroke-width="2.5"/>
<clipPath id="clipg"><rect x="77.6" y="1139.2" width="558.5" height="478.8"/></clipPath>
<line x1="94.1" y1="1616.6" x2="94.1" y2="1609.1" stroke="#000" stroke-width="2.5" />
<line x1="192.4" y1="1616.6" x2="192.4" y2="1609.1" stroke="#000" stroke-width="2.5" />
<line x1="290.7" y1="1616.6" x2="290.7" y2="1609.1" stroke="#000" stroke-width="2.5" />
<line x1="389" y1="1616.6" x2="389" y2="1609.1" stroke="#000" stroke-width="2.5" />
<line x1="487.3" y1="1616.6" x2="487.3" y2="1609.1" stroke="#000" stroke-width="2.5" />
<line x1="585.6" y1="1616.6" x2="585.6" y2="1609.1" stroke="#000" stroke-width="2.5" />
<line x1="143.25" y1="1616.6" x2="143.25" y2="1612.4" stroke="#000" stroke-width="2.5" />
<line x1="241.55" y1="1616.6" x2="241.55" y2="1612.4" stroke="#000" stroke-width="2.5" />
<line x1="339.85" y1="1616.6" x2="339.85" y2="1612.4" stroke="#000" stroke-width="2.5" />
<line x1="438.15" y1="1616.6" x2="438.15" y2="1612.4" stroke="#000" stroke-width="2.5" />
<line x1="536.45" y1="1616.6" x2="536.45" y2="1612.4" stroke="#000" stroke-width="2.5" />
<line x1="79" y1="1259.7" x2="86.5" y2="1259.7" stroke="#000" stroke-width="2.5" />
<line x1="79" y1="1378.5" x2="86.5" y2="1378.5" stroke="#000" stroke-width="2.5" />
<line x1="79" y1="1497.3" x2="86.5" y2="1497.3" stroke="#000" stroke-width="2.5" />
<line x1="79" y1="1200.3" x2="83.2" y2="1200.3" stroke="#000" stroke-width="2.5" />
<line x1="79" y1="1319.1" x2="83.2" y2="1319.1" stroke="#000" stroke-width="2.5" />
<line x1="79" y1="1437.9" x2="83.2" y2="1437.9" stroke="#000" stroke-width="2.5" />
<line x1="79" y1="1556.7" x2="83.2" y2="1556.7" stroke="#000" stroke-width="2.5" />
<text x="94.1" y="1640.9" font-size="25" fill="#000" text-anchor="middle" >0</text>
<text x="192.4" y="1640.9" font-size="25" fill="#000" text-anchor="middle" >200</text>
<text x="290.7" y="1640.9" font-size="25" fill="#000" text-anchor="middle" >400</text>
<text x="389" y="1640.9" font-size="25" fill="#000" text-anchor="middle" >600</text>
<text x="487.3" y="1640.9" font-size="25" fill="#000" text-anchor="middle" >800</text>
<text x="585.6" y="1640.9" font-size="25" fill="#000" text-anchor="middle" >1000</text>
<text x="72" y="1149.5" font-size="25" fill="#000" text-anchor="end" >20</text>
<text x="72" y="1268.3" font-size="25" fill="#000" text-anchor="end" >16</text>
<text x="72" y="1387.1" font-size="25" fill="#000" text-anchor="end" >12</text>
<text x="72" y="1505.9" font-size="25" fill="#000" text-anchor="end" >8</text>
<text x="72" y="1624.7" font-size="25" fill="#000" text-anchor="end" >0</text>
<text x="346" y="1665.5" font-size="27" font-weight="bold" text-anchor="middle">Velocity (nm s<tspan dy="-10" font-size="17">-1</tspan><tspan dy="10">)</tspan></text>
<text x="30" y="1378" font-size="27" font-weight="bold" text-anchor="middle" transform="rotate(-90 30 1378)">Frequency of <tspan font-style="italic">F</tspan><tspan dy="7" font-size="17">min</tspan><tspan dy="-7" font-size="27">&#160;&#160;(kHz)</tspan></text>
<text x="16" y="1152" font-size="45" font-weight="bold" fill="#000" text-anchor="start" >g</text>
<g clip-path="url(#clipg)">
<path d="M88.14 1597.66 L102.14 1597.66 L95.14 1585.16 Z" fill="#2020FF" fill-opacity="0.85" />
<path d="M136.55 1490.08 L150.55 1490.08 L143.55 1477.58 Z" fill="#2020FF" fill-opacity="0.85" />
<path d="M185.29 1441.67 L199.29 1441.67 L192.29 1429.17 Z" fill="#2020FF" fill-opacity="0.85" />
<path d="M234.38 1404.69 L248.38 1404.69 L241.38 1392.19 Z" fill="#2020FF" fill-opacity="0.85" />
<path d="M283.8 1384.19 L297.8 1384.19 L290.8 1371.69 Z" fill="#2020FF" fill-opacity="0.85" />
<path d="M333.21 1348.89 L347.21 1348.89 L340.21 1336.39 Z" fill="#2020FF" fill-opacity="0.85" />
<path d="M382.3 1301.15 L396.3 1301.15 L389.3 1288.65 Z" fill="#2020FF" fill-opacity="0.85" />
<path d="M431.71 1302.16 L445.71 1302.16 L438.71 1289.66 Z" fill="#2020FF" fill-opacity="0.85" />
<path d="M480.46 1263.16 L494.46 1263.16 L487.46 1250.66 Z" fill="#2020FF" fill-opacity="0.85" />
<path d="M529.88 1217.78 L543.88 1217.78 L536.88 1205.28 Z" fill="#2020FF" fill-opacity="0.85" />
<path d="M578.96 1217.78 L592.96 1217.78 L585.96 1205.28 Z" fill="#2020FF" fill-opacity="0.85" />
<circle cx="95.14" cy="1558.8" r="6.2" fill="#F04848" fill-opacity="0.8" />
<circle cx="143.55" cy="1488.2" r="6.2" fill="#F04848" fill-opacity="0.8" />
<circle cx="192.29" cy="1432.73" r="6.2" fill="#F04848" fill-opacity="0.8" />
<circle cx="241.38" cy="1413.23" r="6.2" fill="#F04848" fill-opacity="0.8" />
<circle cx="290.8" cy="1407.52" r="6.2" fill="#F04848" fill-opacity="0.8" />
<circle cx="340.21" cy="1366.17" r="6.2" fill="#F04848" fill-opacity="0.8" />
<circle cx="389.3" cy="1309.35" r="6.2" fill="#F04848" fill-opacity="0.8" />
<circle cx="438.71" cy="1284.81" r="6.2" fill="#F04848" fill-opacity="0.8" />
<circle cx="487.46" cy="1243.46" r="6.2" fill="#F04848" fill-opacity="0.8" />
<circle cx="536.88" cy="1239.43" r="6.2" fill="#F04848" fill-opacity="0.8" />
<circle cx="585.96" cy="1184.63" r="6.2" fill="#F04848" fill-opacity="0.8" />
<path d="M83.04 1604.18 L83.72 1599.62 L84.49 1595.07 L85.33 1590.55 L86.24 1586.04 L87.21 1581.55 L88.24 1577.07 L89.36 1572.6 L90.57 1568.14 L91.87 1563.7 L93.25 1559.31 L94.71 1554.96 L96.29 1550.67 L98.04 1546.43 L99.92 1542.22 L101.91 1538.05 L103.97 1533.91 L106.07 1529.8 L108.17 1525.71 L110.31 1521.63 L112.5 1517.56 L114.76 1513.53 L117.1 1509.56 L119.51 1505.65 L122.03 1501.83 L124.63 1498.05 L127.33 1494.3 L130.11 1490.6 L132.97 1486.95 L135.9 1483.37 L138.9 1479.87 L141.96 1476.46 L145.09 1473.15 L148.34 1469.92 L151.69 1466.76 L155.13 1463.68 L158.63 1460.65 L162.19 1457.69 L165.76 1454.77 L169.35 1451.91 L172.99 1449.11 L176.69 1446.38 L180.44 1443.7 L184.22 1441.05 L188 1438.42 L191.78 1435.78 L195.55 1433.15 L199.34 1430.54 L203.15 1427.95 L206.96 1425.37 L210.78 1422.79 L214.6 1420.23 L218.42 1417.67 L222.25 1415.11 L226.08 1412.56 L229.92 1410.02 L233.76 1407.48 L237.61 1404.95 L241.45 1402.43 L245.3 1399.9 L249.15 1397.37 L252.99 1394.83 L256.84 1392.3 L260.68 1389.77 L264.54 1387.24 L268.39 1384.73 L272.25 1382.22 L276.12 1379.73 L280.01 1377.26 L283.9 1374.81 L287.8 1372.38 L291.72 1369.97 L295.67 1367.6 L299.63 1365.26 L303.61 1362.95 L307.6 1360.66 L311.6 1358.38 L315.61 1356.11 L319.61 1353.84 L323.62 1351.58 L327.62 1349.3 L331.62 1347 L335.6 1344.69 L339.56 1342.35 L343.51 1339.99 L347.44 1337.6 L351.36 1335.19 L355.27 1332.76 L359.18 1330.33 L363.08 1327.88 L366.98 1325.44 L370.89 1323 L374.79 1320.57 L378.71 1318.14 L382.63 1315.73 L386.56 1313.35 L390.51 1310.98 L394.47 1308.64 L398.44 1306.31 L402.42 1304 L406.41 1301.69 L410.4 1299.4 L414.39 1297.11 L418.39 1294.82 L422.38 1292.54 L426.38 1290.25 L430.37 1287.96 L434.36 1285.66 L438.34 1283.35 L442.31 1281.03 L446.29 1278.71 L450.26 1276.38 L454.23 1274.05 L458.2 1271.72 L462.16 1269.39 L466.13 1267.05 L470.1 1264.72 L474.07 1262.39 L478.04 1260.06 L482.01 1257.74 L485.99 1255.42 L489.96 1253.1 L493.95 1250.79 L497.93 1248.48 L501.91 1246.18 L505.9 1243.88 L509.88 1241.58 L513.87 1239.28 L517.86 1236.98 L521.85 1234.68 L525.83 1232.37 L529.82 1230.07 L533.8 1227.77 L537.78 1225.46 L541.76 1223.14 L545.73 1220.8 L549.69 1218.46 L553.65 1216.11 L557.61 1213.77 L561.58 1211.42 L565.54 1209.09 L569.52 1206.76 L573.5 1204.45 L577.49 1202.16 L581.49 1199.9 L585.51 1197.66 L589.55 1195.45 L593.61 1193.28 L597.68 1191.13 L601.76 1189" stroke="#808080" stroke-width="2.8" fill="none" stroke-dasharray="12.5 8" />
<path d="M95.14 1556.39 L98.31 1565.52 L107.98 1565.71 L100.27 1571.55 L103.07 1580.81 L95.14 1575.29 L87.2 1580.81 L90 1571.55 L82.3 1565.71 L91.96 1565.52 Z" fill="#808080" fill-opacity="1"/>
<path d="M349.63 1305.93 L352.8 1315.06 L362.47 1315.26 L354.76 1321.1 L357.56 1330.35 L349.63 1324.83 L341.69 1330.35 L344.49 1321.1 L336.79 1315.26 L346.45 1315.06 Z" fill="#808080" fill-opacity="1"/>
<path d="M606.13 1174.82 L609.31 1183.95 L618.97 1184.15 L611.27 1189.99 L614.07 1199.24 L606.13 1193.72 L598.2 1199.24 L601 1189.99 L593.29 1184.15 L602.96 1183.95 Z" fill="#808080" fill-opacity="1"/>
</g>
<path d="M106.85 1197.39 L133.85 1197.39 L120.35 1173.89 Z" fill="#0000FF" fill-opacity="1" />
<circle cx="120.35" cy="1224.3" r="12" fill="#FF2A2A" fill-opacity="1" />
<path d="M120.35 1254.04 L124.58 1266.21 L137.47 1266.48 L127.2 1274.26 L130.93 1286.6 L120.35 1279.24 L109.77 1286.6 L113.5 1274.26 L103.23 1266.48 L116.12 1266.21 Z" fill="#808080" fill-opacity="1"/>
<text x="142.9" y="1193.4" font-size="27" font-weight="bold" fill="#0000FF" text-anchor="start" >PT-E</text>
<text x="142.9" y="1234.4" font-size="27" font-weight="bold" fill="#FF0000" text-anchor="start" >PTT-E 300K</text>
<text x="142.9" y="1276.4" font-size="27" font-weight="bold" fill="#000" text-anchor="start" >Exp.</text>
<rect x="79" y="1140.6" width="555.7" height="476" fill="none" stroke="#000" stroke-width="2.5"/>
<linearGradient id="tbg" x1="710" y1="0" x2="1910" y2="0" gradientUnits="userSpaceOnUse"><stop offset="0" stop-color="#D6DFCE"/><stop offset="0.25" stop-color="#E2E4D0"/><stop offset="0.483" stop-color="#EFE6CE"/><stop offset="0.539" stop-color="#CFCFF7"/><stop offset="0.62" stop-color="#D3CCF2"/><stop offset="0.80" stop-color="#EACDDC"/><stop offset="1" stop-color="#FDC9C9"/></linearGradient>
<path d="M710.8 1143 L1896 1143 L1896 1136 L1909.7 1150.4 L1896 1165 L1896 1157.8 L710.8 1157.8 Z" fill="url(#tbg)"/>
<line x1="747.8" y1="1165" x2="747.8" y2="1427" stroke="#00A651" stroke-width="3" stroke-dasharray="11.5 8" filter="url(#shu)"/>
<line x1="1080" y1="1165" x2="1080" y2="1184" stroke="#BF9000" stroke-width="3" stroke-dasharray="11.5 8" filter="url(#shu)"/>
<line x1="1374.6" y1="1165" x2="1374.6" y2="1430" stroke="#1414F0" stroke-width="3" stroke-dasharray="11.5 8" filter="url(#shu)"/>
<line x1="1663.5" y1="1166" x2="1663.5" y2="1184" stroke="#FF0000" stroke-width="3" stroke-dasharray="11.5 8" filter="url(#shu)"/>
<circle cx="747.8" cy="1150.6" r="7.7" fill="#00A651" filter="url(#sh)"/>
<circle cx="1080" cy="1150.6" r="7.7" fill="#BF9000" filter="url(#sh)"/>
<circle cx="1374.6" cy="1150.6" r="7.7" fill="#1414F0" filter="url(#sh)"/>
<circle cx="1663.5" cy="1150.6" r="7.7" fill="#FF0000" filter="url(#sh)"/>
<text x="719" y="1158.3" font-size="23" font-weight="bold" fill="#000" text-anchor="start" >0</text>
<text x="1304.5" y="1162.2" font-size="27" font-weight="bold" fill="#000" text-anchor="start" >1</text>
<text x="1911.5" y="1158.6" font-size="26" font-weight="bold" font-style="italic">f v<tspan dy="-9" font-size="15" font-style="normal">-1</tspan><tspan dy="9"> a</tspan></text>
<text x="736" y="1285.5" font-size="27" font-weight="bold" fill="#1515F0" text-anchor="middle" transform="rotate(-90 736 1285.5)" >Trajectory</text>
<text x="1949" y="1539" font-size="25" font-weight="bold" fill="#000" text-anchor="middle" transform="rotate(-90 1949 1539)" >PES</text>
<clipPath id="cph"><rect x="766.5" y="1183" width="565.1" height="228" rx="14"/></clipPath>
<linearGradient id="ogh" x1="0" y1="1274.5" x2="0" y2="1411" gradientUnits="userSpaceOnUse"><stop offset="0" stop-color="#F98B1F" stop-opacity="1"/><stop offset="0.06" stop-color="#F98F28" stop-opacity="1"/><stop offset="0.21" stop-color="#F9A552" stop-opacity="1"/><stop offset="0.43" stop-color="#F9C288" stop-opacity="1"/><stop offset="0.65" stop-color="#F8DAB0" stop-opacity="1"/><stop offset="0.8" stop-color="#F8E6CC" stop-opacity="0.75"/><stop offset="0.9" stop-color="#F8EEDC" stop-opacity="0.5"/><stop offset="1" stop-color="#FFF8EC" stop-opacity="0.0"/></linearGradient>
<rect x="766.5" y="1183" width="565.1" height="228" rx="14" fill="#FEFDE0" filter="url(#shp)"/>
<g clip-path="url(#cph)">
<path d="M763.5 1274.58 L765.89 1274.5 L768.28 1274.6 L770.67 1274.88 L773.06 1275.34 L775.45 1275.99 L777.84 1276.82 L780.23 1277.83 L782.62 1279.03 L785.01 1280.4 L787.4 1281.96 L789.78 1283.7 L792.17 1285.62 L794.56 1287.71 L796.95 1289.96 L799.34 1292.38 L801.73 1294.96 L804.12 1297.67 L806.51 1300.53 L808.9 1303.5 L811.29 1306.58 L813.68 1309.75 L816.07 1312.99 L818.46 1316.29 L820.85 1319.61 L823.24 1322.95 L825.63 1326.26 L828.02 1329.54 L830.41 1332.76 L832.8 1335.88 L835.19 1338.89 L837.58 1341.76 L839.97 1344.46 L842.35 1346.96 L844.74 1349.26 L847.13 1351.32 L849.52 1353.13 L851.91 1354.66 L854.3 1355.92 L856.69 1356.87 L859.08 1357.52 L861.47 1357.85 L863.86 1357.87 L866.25 1357.57 L868.64 1356.96 L871.03 1356.04 L873.42 1354.82 L875.81 1353.31 L878.2 1351.54 L880.59 1349.5 L882.98 1347.23 L885.37 1344.75 L887.76 1342.07 L890.15 1339.22 L892.54 1336.23 L894.92 1333.11 L897.31 1329.91 L899.7 1326.64 L902.09 1323.32 L904.48 1319.99 L906.87 1316.66 L909.26 1313.36 L911.65 1310.11 L914.04 1306.93 L916.43 1303.84 L918.82 1300.85 L921.21 1297.99 L923.6 1295.25 L925.99 1292.66 L928.38 1290.23 L930.77 1287.95 L933.16 1285.84 L935.55 1283.91 L937.94 1282.15 L940.33 1280.57 L942.72 1279.17 L945.11 1277.96 L947.49 1276.92 L949.88 1276.07 L952.27 1275.41 L954.66 1274.92 L957.05 1274.62 L959.44 1274.5 L961.83 1274.57 L964.22 1274.83 L966.61 1275.28 L969 1275.92 L971.39 1276.75 L973.78 1277.78 L976.17 1278.99 L978.56 1280.4 L980.95 1282 L983.34 1283.78 L985.73 1285.74 L988.12 1287.89 L990.51 1290.21 L992.9 1292.7 L995.29 1295.35 L997.67 1298.15 L1000.06 1301.09 L1002.45 1304.15 L1004.84 1307.33 L1007.23 1310.6 L1009.62 1313.94 L1012.01 1317.35 L1014.4 1320.78 L1016.79 1324.23 L1019.18 1327.66 L1021.57 1331.06 L1023.96 1334.39 L1026.35 1337.63 L1028.74 1340.76 L1031.13 1343.74 L1033.52 1346.56 L1035.91 1349.18 L1038.3 1351.59 L1040.69 1353.75 L1043.08 1355.66 L1045.47 1357.3 L1047.86 1358.64 L1050.24 1359.68 L1052.63 1360.41 L1055.02 1360.81 L1057.41 1360.89 L1059.8 1360.64 L1062.19 1360.07 L1064.58 1359.19 L1066.97 1357.99 L1069.36 1356.49 L1071.75 1354.72 L1074.14 1352.67 L1076.53 1350.38 L1078.92 1347.86 L1081.31 1345.13 L1083.7 1342.23 L1086.09 1339.17 L1088.48 1335.98 L1090.87 1332.69 L1093.26 1329.32 L1095.65 1325.9 L1098.04 1322.46 L1100.43 1319.02 L1102.81 1315.59 L1105.2 1312.22 L1107.59 1308.91 L1109.98 1305.68 L1112.37 1302.56 L1114.76 1299.56 L1117.15 1296.69 L1119.54 1293.97 L1121.93 1291.4 L1124.32 1289 L1126.71 1286.77 L1129.1 1284.71 L1131.49 1282.84 L1133.88 1281.15 L1136.27 1279.65 L1138.66 1278.35 L1141.05 1277.23 L1143.44 1276.3 L1145.83 1275.57 L1148.22 1275.02 L1150.61 1274.67 L1152.99 1274.51 L1155.38 1274.54 L1157.77 1274.76 L1160.16 1275.18 L1162.55 1275.78 L1164.94 1276.58 L1167.33 1277.57 L1169.72 1278.75 L1172.11 1280.12 L1174.5 1281.68 L1176.89 1283.43 L1179.28 1285.36 L1181.67 1287.47 L1184.06 1289.76 L1186.45 1292.22 L1188.84 1294.84 L1191.23 1297.61 L1193.62 1300.53 L1196.01 1303.57 L1198.4 1306.73 L1200.79 1309.98 L1203.18 1313.31 L1205.56 1316.71 L1207.95 1320.14 L1210.34 1323.58 L1212.73 1327.02 L1215.12 1330.43 L1217.51 1333.77 L1219.9 1337.04 L1222.29 1340.18 L1224.68 1343.2 L1227.07 1346.04 L1229.46 1348.7 L1231.85 1351.15 L1234.24 1353.37 L1236.63 1355.33 L1239.02 1357.01 L1241.41 1358.41 L1243.8 1359.51 L1246.19 1360.29 L1248.58 1360.76 L1250.97 1360.9 L1253.36 1360.71 L1255.75 1360.2 L1258.13 1359.38 L1260.52 1358.24 L1262.91 1356.8 L1265.3 1355.07 L1267.69 1353.07 L1270.08 1350.83 L1272.47 1348.35 L1274.86 1345.66 L1277.25 1342.79 L1279.64 1339.75 L1282.03 1336.59 L1284.42 1333.31 L1286.81 1329.96 L1289.2 1326.55 L1291.59 1323.11 L1293.98 1319.66 L1296.37 1316.23 L1298.76 1312.85 L1301.15 1309.52 L1303.54 1306.28 L1305.93 1303.14 L1308.32 1300.11 L1310.7 1297.22 L1313.09 1294.47 L1315.48 1291.87 L1317.87 1289.44 L1320.26 1287.17 L1322.65 1285.08 L1325.04 1283.18 L1327.43 1281.45 L1329.82 1279.92 L1332.21 1278.58 L1334.6 1277.42 L1334.6 1414 L763.5 1414 Z" fill="url(#ogh)"/>
<path d="M763.5 1274.58 L765.89 1274.5 L768.28 1274.6 L770.67 1274.88 L773.06 1275.34 L775.45 1275.99 L777.84 1276.82 L780.23 1277.83 L782.62 1279.03 L785.01 1280.4 L787.4 1281.96 L789.78 1283.7 L792.17 1285.62 L794.56 1287.71 L796.95 1289.96 L799.34 1292.38 L801.73 1294.96 L804.12 1297.67 L806.51 1300.53 L808.9 1303.5 L811.29 1306.58 L813.68 1309.75 L816.07 1312.99 L818.46 1316.29 L820.85 1319.61 L823.24 1322.95 L825.63 1326.26 L828.02 1329.54 L830.41 1332.76 L832.8 1335.88 L835.19 1338.89 L837.58 1341.76 L839.97 1344.46 L842.35 1346.96 L844.74 1349.26 L847.13 1351.32 L849.52 1353.13 L851.91 1354.66 L854.3 1355.92 L856.69 1356.87 L859.08 1357.52 L861.47 1357.85 L863.86 1357.87 L866.25 1357.57 L868.64 1356.96 L871.03 1356.04 L873.42 1354.82 L875.81 1353.31 L878.2 1351.54 L880.59 1349.5 L882.98 1347.23 L885.37 1344.75 L887.76 1342.07 L890.15 1339.22 L892.54 1336.23 L894.92 1333.11 L897.31 1329.91 L899.7 1326.64 L902.09 1323.32 L904.48 1319.99 L906.87 1316.66 L909.26 1313.36 L911.65 1310.11 L914.04 1306.93 L916.43 1303.84 L918.82 1300.85 L921.21 1297.99 L923.6 1295.25 L925.99 1292.66 L928.38 1290.23 L930.77 1287.95 L933.16 1285.84 L935.55 1283.91 L937.94 1282.15 L940.33 1280.57 L942.72 1279.17 L945.11 1277.96 L947.49 1276.92 L949.88 1276.07 L952.27 1275.41 L954.66 1274.92 L957.05 1274.62 L959.44 1274.5 L961.83 1274.57 L964.22 1274.83 L966.61 1275.28 L969 1275.92 L971.39 1276.75 L973.78 1277.78 L976.17 1278.99 L978.56 1280.4 L980.95 1282 L983.34 1283.78 L985.73 1285.74 L988.12 1287.89 L990.51 1290.21 L992.9 1292.7 L995.29 1295.35 L997.67 1298.15 L1000.06 1301.09 L1002.45 1304.15 L1004.84 1307.33 L1007.23 1310.6 L1009.62 1313.94 L1012.01 1317.35 L1014.4 1320.78 L1016.79 1324.23 L1019.18 1327.66 L1021.57 1331.06 L1023.96 1334.39 L1026.35 1337.63 L1028.74 1340.76 L1031.13 1343.74 L1033.52 1346.56 L1035.91 1349.18 L1038.3 1351.59 L1040.69 1353.75 L1043.08 1355.66 L1045.47 1357.3 L1047.86 1358.64 L1050.24 1359.68 L1052.63 1360.41 L1055.02 1360.81 L1057.41 1360.89 L1059.8 1360.64 L1062.19 1360.07 L1064.58 1359.19 L1066.97 1357.99 L1069.36 1356.49 L1071.75 1354.72 L1074.14 1352.67 L1076.53 1350.38 L1078.92 1347.86 L1081.31 1345.13 L1083.7 1342.23 L1086.09 1339.17 L1088.48 1335.98 L1090.87 1332.69 L1093.26 1329.32 L1095.65 1325.9 L1098.04 1322.46 L1100.43 1319.02 L1102.81 1315.59 L1105.2 1312.22 L1107.59 1308.91 L1109.98 1305.68 L1112.37 1302.56 L1114.76 1299.56 L1117.15 1296.69 L1119.54 1293.97 L1121.93 1291.4 L1124.32 1289 L1126.71 1286.77 L1129.1 1284.71 L1131.49 1282.84 L1133.88 1281.15 L1136.27 1279.65 L1138.66 1278.35 L1141.05 1277.23 L1143.44 1276.3 L1145.83 1275.57 L1148.22 1275.02 L1150.61 1274.67 L1152.99 1274.51 L1155.38 1274.54 L1157.77 1274.76 L1160.16 1275.18 L1162.55 1275.78 L1164.94 1276.58 L1167.33 1277.57 L1169.72 1278.75 L1172.11 1280.12 L1174.5 1281.68 L1176.89 1283.43 L1179.28 1285.36 L1181.67 1287.47 L1184.06 1289.76 L1186.45 1292.22 L1188.84 1294.84 L1191.23 1297.61 L1193.62 1300.53 L1196.01 1303.57 L1198.4 1306.73 L1200.79 1309.98 L1203.18 1313.31 L1205.56 1316.71 L1207.95 1320.14 L1210.34 1323.58 L1212.73 1327.02 L1215.12 1330.43 L1217.51 1333.77 L1219.9 1337.04 L1222.29 1340.18 L1224.68 1343.2 L1227.07 1346.04 L1229.46 1348.7 L1231.85 1351.15 L1234.24 1353.37 L1236.63 1355.33 L1239.02 1357.01 L1241.41 1358.41 L1243.8 1359.51 L1246.19 1360.29 L1248.58 1360.76 L1250.97 1360.9 L1253.36 1360.71 L1255.75 1360.2 L1258.13 1359.38 L1260.52 1358.24 L1262.91 1356.8 L1265.3 1355.07 L1267.69 1353.07 L1270.08 1350.83 L1272.47 1348.35 L1274.86 1345.66 L1277.25 1342.79 L1279.64 1339.75 L1282.03 1336.59 L1284.42 1333.31 L1286.81 1329.96 L1289.2 1326.55 L1291.59 1323.11 L1293.98 1319.66 L1296.37 1316.23 L1298.76 1312.85 L1301.15 1309.52 L1303.54 1306.28 L1305.93 1303.14 L1308.32 1300.11 L1310.7 1297.22 L1313.09 1294.47 L1315.48 1291.87 L1317.87 1289.44 L1320.26 1287.17 L1322.65 1285.08 L1325.04 1283.18 L1327.43 1281.45 L1329.82 1279.92 L1332.21 1278.58 L1334.6 1277.42" fill="none" stroke="#000" stroke-width="5.6" filter="url(#shw)"/>
</g>
<rect x="869.5" y="1194.5" width="62.5" height="52.5" fill="#9A9A9A" fill-opacity="0.42" stroke="none"/>
<rect x="869.5" y="1194.5" width="62.5" height="52.5" fill="none" stroke="#000" stroke-width="3.2" stroke-dasharray="3.2 3" filter="url(#sh)"/>
<g filter="url(#sh1)">
<line x1="933.5" y1="1221.4" x2="961.5" y2="1221.4" stroke="#000" stroke-width="2.8" stroke-dasharray="3 2.6"/>
<path d="M969.5 1221.4 L960.5 1225.65 L960.5 1217.15 Z" fill="#000" />
</g>
<path d="M889.36 1247.71 L900.22 1252.7 L878.85 1257.17 L892.76 1262.06 L873.74 1264.94 L889.73 1271.46 L869.77 1275.1 L886.25 1280.1 L870.23 1284.42 L883.18 1288.68 L869.58 1293.82 L877.41 1298.03" fill="none" stroke="#000" stroke-width="2.9" stroke-dasharray="3 2.4" stroke-linejoin="miter" stroke-miterlimit="12" filter="url(#sh)"/>
<ellipse cx="886" cy="1316.5" rx="17.3" ry="14.8" fill="#4848C8" fill-opacity="0.2" stroke="#0000FF" stroke-width="1.0" stroke-opacity="0.75" stroke-dasharray="3 2"/>
<ellipse cx="894.5" cy="1307.12" rx="17.3" ry="14.8" fill="#4848C8" fill-opacity="0.2" stroke="#0000FF" stroke-width="1.0" stroke-opacity="0.75" stroke-dasharray="3 2"/>
<ellipse cx="903" cy="1297.75" rx="17.3" ry="14.8" fill="#4848C8" fill-opacity="0.2" stroke="#0000FF" stroke-width="1.0" stroke-opacity="0.75" stroke-dasharray="3 2"/>
<ellipse cx="911.5" cy="1288.38" rx="17.3" ry="14.8" fill="#4848C8" fill-opacity="0.2" stroke="#0000FF" stroke-width="1.0" stroke-opacity="0.75" stroke-dasharray="3 2"/>
<ellipse cx="920" cy="1279" rx="17.3" ry="14.8" fill="#4848C8" fill-opacity="0.2" stroke="#0000FF" stroke-width="1.0" stroke-opacity="0.75" stroke-dasharray="3 2"/>
<ellipse cx="932.9" cy="1264.8" rx="18" ry="15.3" fill="#4848C8" fill-opacity="0.2" stroke="#0000FF" stroke-width="1.0" stroke-opacity="0.75" stroke-dasharray="3 2"/>
<ellipse cx="868.5" cy="1337.5" rx="17.3" ry="14.8" fill="#1010F5" fill-opacity="0.6" stroke="#0000FF" stroke-width="1.0" stroke-opacity="0.75" stroke-dasharray="3 2"/>
<ellipse cx="869.64" cy="1336.18" rx="17.3" ry="14.8" fill="#1010F5" fill-opacity="0.6" stroke="#0000FF" stroke-width="1.0" stroke-opacity="0.75" stroke-dasharray="3 2"/>
<ellipse cx="870.77" cy="1334.86" rx="17.3" ry="14.8" fill="#1010F5" fill-opacity="0.6" stroke="#0000FF" stroke-width="1.0" stroke-opacity="0.75" stroke-dasharray="3 2"/>
<ellipse cx="871.91" cy="1333.55" rx="17.3" ry="14.8" fill="#1010F5" fill-opacity="0.6" stroke="#0000FF" stroke-width="1.0" stroke-opacity="0.75" stroke-dasharray="3 2"/>
<ellipse cx="873.05" cy="1332.23" rx="17.3" ry="14.8" fill="#1010F5" fill-opacity="0.6" stroke="#0000FF" stroke-width="1.0" stroke-opacity="0.75" stroke-dasharray="3 2"/>
<ellipse cx="874.18" cy="1330.91" rx="17.3" ry="14.8" fill="#1010F5" fill-opacity="0.6" stroke="#0000FF" stroke-width="1.0" stroke-opacity="0.75" stroke-dasharray="3 2"/>
<ellipse cx="875.32" cy="1329.59" rx="17.3" ry="14.8" fill="#1010F5" fill-opacity="0.6" stroke="#0000FF" stroke-width="1.0" stroke-opacity="0.75" stroke-dasharray="3 2"/>
<ellipse cx="876.45" cy="1328.27" rx="17.3" ry="14.8" fill="#1010F5" fill-opacity="0.6" stroke="#0000FF" stroke-width="1.0" stroke-opacity="0.75" stroke-dasharray="3 2"/>
<ellipse cx="877.59" cy="1326.95" rx="17.3" ry="14.8" fill="#1010F5" fill-opacity="0.6" stroke="#0000FF" stroke-width="1.0" stroke-opacity="0.75" stroke-dasharray="3 2"/>
<ellipse cx="878.73" cy="1325.64" rx="17.3" ry="14.8" fill="#1010F5" fill-opacity="0.6" stroke="#0000FF" stroke-width="1.0" stroke-opacity="0.75" stroke-dasharray="3 2"/>
<ellipse cx="879.86" cy="1324.32" rx="17.3" ry="14.8" fill="#1010F5" fill-opacity="0.6" stroke="#0000FF" stroke-width="1.0" stroke-opacity="0.75" stroke-dasharray="3 2"/>
<ellipse cx="881" cy="1323" rx="17.3" ry="14.8" fill="#1010F5" fill-opacity="0.6" stroke="#0000FF" stroke-width="1.0" stroke-opacity="0.75" stroke-dasharray="3 2"/>
<path d="M952.5 1258.5 Q955 1255 961 1255.5 Q970 1256 978 1264.5 L1030 1323" fill="none" stroke="#8484F2" stroke-width="2.7" stroke-dasharray="2.7 2.7"/>
<g filter="url(#sh1)">
<path d="M944.5 1302.5 Q948 1290.5 958 1291 Q965 1291 971 1299 L1015.1 1356.67" fill="none" stroke="#00A651" stroke-width="3.2"/>
<path d="M1023 1367 L1008.92 1358.88 L1018.85 1351.29 Z" fill="#00A651" />
</g>
<g filter="url(#sh1)">
<line x1="894" y1="1365" x2="933.47" y2="1318.2" stroke="#FF00FF" stroke-width="3.5"/>
<path d="M942.5 1307.5 L937.8 1323.16 L927.86 1314.78 Z" fill="#FF00FF" />
</g>
<g filter="url(#sh1)">
<line x1="868.5" y1="1381" x2="877.91" y2="1377.19" stroke="#FF0000" stroke-width="3.5"/>
<path d="M889.5 1372.5 L879.24 1383.13 L874.74 1372 Z" fill="#FF0000" />
</g>
<text x="816" y="1399.5" font-size="24" font-weight="bold" fill="#FF0000" text-anchor="start" >Stick</text>
<text x="883.3" y="1399.5" font-size="24" font-weight="bold" fill="#FF00FF" text-anchor="start" >Activation</text>
<text x="1014.8" y="1399.5" font-size="24" font-weight="bold" fill="#00A651" text-anchor="start" >Slip</text>
<path d="M1137.09 1220.32 L1097.94 1235.61 L1125.68 1237.48 L1089.44 1250.65 L1115.48 1252.79 L1073.64 1265.97 L1104.84 1268.84 L1058.65 1284.53 L1090.67 1284.13 L1047.88 1299.77 L1079.02 1299.2 L1039.84 1314.49 L1058.62 1317.05" fill="none" stroke="#000" stroke-width="3.1" stroke-linejoin="miter" stroke-miterlimit="12" filter="url(#sh)"/>
<rect x="1137.8" y="1196.8" width="60.5" height="50.5" fill="#A6A6A6" stroke="#000" stroke-width="3.2" filter="url(#sh)"/>
<g filter="url(#sh1)">
<line x1="1200" y1="1221.2" x2="1257" y2="1221.2" stroke="#000" stroke-width="2.8"/>
<path d="M1265 1221.2 L1256 1225.45 L1256 1216.95 Z" fill="#000" />
</g>
<text x="1210.4" y="1209.2" font-size="27" font-style="italic" font-weight="bold">F<tspan font-style="normal" font-size="17.5" dy="7" dx="-1.5">L</tspan></text>
<ellipse cx="1062.9" cy="1338" rx="17.3" ry="14.8" fill="#0000A0" fill-opacity="0.4" stroke="#0000FF" stroke-width="1.0" stroke-opacity="0.75"/>
<ellipse cx="1065.27" cy="1335.53" rx="17.3" ry="14.8" fill="#0000A0" fill-opacity="0.4" stroke="#0000FF" stroke-width="1.0" stroke-opacity="0.75"/>
<ellipse cx="1067.65" cy="1333.05" rx="17.3" ry="14.8" fill="#0000A0" fill-opacity="0.4" stroke="#0000FF" stroke-width="1.0" stroke-opacity="0.75"/>
<ellipse cx="1070.02" cy="1330.58" rx="17.3" ry="14.8" fill="#0000A0" fill-opacity="0.4" stroke="#0000FF" stroke-width="1.0" stroke-opacity="0.75"/>
<ellipse cx="1072.39" cy="1328.11" rx="17.3" ry="14.8" fill="#0000A0" fill-opacity="0.4" stroke="#0000FF" stroke-width="1.0" stroke-opacity="0.75"/>
<ellipse cx="1074.77" cy="1325.63" rx="17.3" ry="14.8" fill="#0000A0" fill-opacity="0.4" stroke="#0000FF" stroke-width="1.0" stroke-opacity="0.75"/>
<ellipse cx="1077.14" cy="1323.16" rx="17.3" ry="14.8" fill="#0000A0" fill-opacity="0.4" stroke="#0000FF" stroke-width="1.0" stroke-opacity="0.75"/>
<ellipse cx="1079.52" cy="1320.68" rx="17.3" ry="14.8" fill="#0000A0" fill-opacity="0.4" stroke="#0000FF" stroke-width="1.0" stroke-opacity="0.75"/>
<ellipse cx="1081.89" cy="1318.21" rx="17.3" ry="14.8" fill="#0000A0" fill-opacity="0.4" stroke="#0000FF" stroke-width="1.0" stroke-opacity="0.75"/>
<ellipse cx="1084.26" cy="1315.74" rx="17.3" ry="14.8" fill="#0000A0" fill-opacity="0.4" stroke="#0000FF" stroke-width="1.0" stroke-opacity="0.75"/>
<ellipse cx="1086.64" cy="1313.26" rx="17.3" ry="14.8" fill="#0000A0" fill-opacity="0.4" stroke="#0000FF" stroke-width="1.0" stroke-opacity="0.75"/>
<ellipse cx="1089.01" cy="1310.79" rx="17.3" ry="14.8" fill="#0000A0" fill-opacity="0.4" stroke="#0000FF" stroke-width="1.0" stroke-opacity="0.75"/>
<ellipse cx="1091.38" cy="1308.32" rx="17.3" ry="14.8" fill="#0000A0" fill-opacity="0.4" stroke="#0000FF" stroke-width="1.0" stroke-opacity="0.75"/>
<ellipse cx="1093.76" cy="1305.84" rx="17.3" ry="14.8" fill="#0000A0" fill-opacity="0.4" stroke="#0000FF" stroke-width="1.0" stroke-opacity="0.75"/>
<ellipse cx="1096.13" cy="1303.37" rx="17.3" ry="14.8" fill="#0000A0" fill-opacity="0.4" stroke="#0000FF" stroke-width="1.0" stroke-opacity="0.75"/>
<ellipse cx="1098.51" cy="1300.89" rx="17.3" ry="14.8" fill="#0000A0" fill-opacity="0.4" stroke="#0000FF" stroke-width="1.0" stroke-opacity="0.75"/>
<ellipse cx="1100.88" cy="1298.42" rx="17.3" ry="14.8" fill="#0000A0" fill-opacity="0.4" stroke="#0000FF" stroke-width="1.0" stroke-opacity="0.75"/>
<ellipse cx="1103.25" cy="1295.95" rx="17.3" ry="14.8" fill="#0000A0" fill-opacity="0.4" stroke="#0000FF" stroke-width="1.0" stroke-opacity="0.75"/>
<ellipse cx="1105.63" cy="1293.47" rx="17.3" ry="14.8" fill="#0000A0" fill-opacity="0.4" stroke="#0000FF" stroke-width="1.0" stroke-opacity="0.75"/>
<ellipse cx="1108" cy="1291" rx="17.3" ry="14.8" fill="#0000A0" fill-opacity="0.4" stroke="#0000FF" stroke-width="1.0" stroke-opacity="0.75"/>
<ellipse cx="1113" cy="1285.5" rx="18" ry="15.3" fill="#4848C8" fill-opacity="0.2" stroke="#0000FF" stroke-width="1.0" stroke-opacity="0.75"/>
<ellipse cx="1118" cy="1280" rx="18" ry="15.3" fill="#4848C8" fill-opacity="0.2" stroke="#0000FF" stroke-width="1.0" stroke-opacity="0.75"/>
<ellipse cx="1121.7" cy="1276.6" rx="18" ry="15.3" fill="#4848C8" fill-opacity="0.2" stroke="#0000FF" stroke-width="1.0" stroke-opacity="0.75"/>
<path d="M1147.5 1262 Q1153 1255.5 1159 1256 Q1168 1256.5 1176 1265 L1227 1321.5" fill="none" stroke="#8484F2" stroke-width="2.7" stroke-dasharray="2.7 2.7"/>
<g filter="url(#sh1)">
<path d="M1140.5 1303 Q1145 1291.5 1155 1292 Q1162 1292 1168 1300 L1211.65 1357.64" fill="none" stroke="#00A651" stroke-width="3.2"/>
<path d="M1219.5 1368 L1205.46 1359.82 L1215.43 1352.27 Z" fill="#00A651" />
</g>
<g filter="url(#sh1)">
<line x1="1083.4" y1="1372.2" x2="1126.43" y2="1320.65" stroke="#FF0000" stroke-width="3.5"/>
<path d="M1135.4 1309.9 L1130.78 1325.58 L1120.8 1317.25 Z" fill="#FF0000" />
</g>
<ellipse cx="1245.4" cy="1340.2" rx="18.4" ry="15.7" fill="#D8D8D2" stroke="#0000FF" stroke-width="1.1" filter="url(#sh1)"/>
<text x="1065.4" y="1399.5" font-size="24" font-weight="bold" fill="#FF0000" text-anchor="start" >Stick</text>
<text x="1202.8" y="1399.5" font-size="24" font-weight="bold" fill="#00A651" text-anchor="start" >Slip</text>
<rect x="766.5" y="1183" width="565.1" height="228" rx="14" fill="none" stroke="#BF9000" stroke-width="3" stroke-dasharray="12.5 8.5"/>
<text x="773.5" y="1228.5" font-size="46" font-weight="bold" fill="#000" text-anchor="start" >h</text>
<clipPath id="cpi"><rect x="1395.2" y="1182.7" width="565.1" height="226.3" rx="14"/></clipPath>
<linearGradient id="ogi" x1="0" y1="1274.5" x2="0" y2="1409" gradientUnits="userSpaceOnUse"><stop offset="0" stop-color="#F98B1F" stop-opacity="1"/><stop offset="0.06" stop-color="#F98F28" stop-opacity="1"/><stop offset="0.21" stop-color="#F9A552" stop-opacity="1"/><stop offset="0.43" stop-color="#F9C288" stop-opacity="1"/><stop offset="0.65" stop-color="#F8DAB0" stop-opacity="1"/><stop offset="0.8" stop-color="#F8E6CC" stop-opacity="0.75"/><stop offset="0.9" stop-color="#F8EEDC" stop-opacity="0.5"/><stop offset="1" stop-color="#FFF8EC" stop-opacity="0.0"/></linearGradient>
<rect x="1395.2" y="1182.7" width="565.1" height="226.3" rx="14" fill="#FCECE6" filter="url(#shp)"/>
<g clip-path="url(#cpi)">
<path d="M1392.2 1274.97 L1394.59 1275.48 L1396.98 1276.17 L1399.37 1277.05 L1401.76 1278.11 L1404.15 1279.35 L1406.54 1280.78 L1408.93 1282.39 L1411.32 1284.18 L1413.71 1286.14 L1416.1 1288.28 L1418.48 1290.59 L1420.87 1293.06 L1423.26 1295.67 L1425.65 1298.44 L1428.04 1301.33 L1430.43 1304.34 L1432.82 1307.45 L1435.21 1310.65 L1437.6 1313.92 L1439.99 1317.23 L1442.38 1320.57 L1444.77 1323.92 L1447.16 1327.24 L1449.55 1330.51 L1451.94 1333.72 L1454.33 1336.83 L1456.72 1339.81 L1459.11 1342.65 L1461.5 1345.31 L1463.89 1347.78 L1466.28 1350.03 L1468.67 1352.04 L1471.05 1353.79 L1473.44 1355.26 L1475.83 1356.45 L1478.22 1357.34 L1480.61 1357.92 L1483 1358.18 L1485.39 1358.13 L1487.78 1357.76 L1490.17 1357.08 L1492.56 1356.09 L1494.95 1354.8 L1497.34 1353.23 L1499.73 1351.4 L1502.12 1349.3 L1504.51 1346.98 L1506.9 1344.45 L1509.29 1341.72 L1511.68 1338.83 L1514.07 1335.8 L1516.46 1332.66 L1518.85 1329.43 L1521.24 1326.14 L1523.62 1322.81 L1526.01 1319.46 L1528.4 1316.13 L1530.79 1312.83 L1533.18 1309.58 L1535.57 1306.41 L1537.96 1303.33 L1540.35 1300.35 L1542.74 1297.5 L1545.13 1294.79 L1547.52 1292.22 L1549.91 1289.8 L1552.3 1287.55 L1554.69 1285.47 L1557.08 1283.56 L1559.47 1281.83 L1561.86 1280.28 L1564.25 1278.92 L1566.64 1277.73 L1569.03 1276.73 L1571.42 1275.92 L1573.81 1275.29 L1576.19 1274.84 L1578.58 1274.58 L1580.97 1274.5 L1583.36 1274.61 L1585.75 1274.91 L1588.14 1275.4 L1590.53 1276.08 L1592.92 1276.95 L1595.31 1278.01 L1597.7 1279.26 L1600.09 1280.7 L1602.48 1282.32 L1604.87 1284.13 L1607.26 1286.12 L1609.65 1288.29 L1612.04 1290.64 L1614.43 1293.15 L1616.82 1295.81 L1619.21 1298.62 L1621.6 1301.57 L1623.99 1304.64 L1626.37 1307.81 L1628.76 1311.08 L1631.15 1314.42 L1633.54 1317.81 L1635.93 1321.22 L1638.32 1324.64 L1640.71 1328.05 L1643.1 1331.41 L1645.49 1334.7 L1647.88 1337.9 L1650.27 1340.97 L1652.66 1343.9 L1655.05 1346.65 L1657.44 1349.21 L1659.83 1351.55 L1662.22 1353.65 L1664.61 1355.49 L1667 1357.05 L1669.39 1358.31 L1671.78 1359.28 L1674.17 1359.93 L1676.56 1360.26 L1678.94 1360.26 L1681.33 1359.95 L1683.72 1359.31 L1686.11 1358.36 L1688.5 1357.1 L1690.89 1355.56 L1693.28 1353.73 L1695.67 1351.64 L1698.06 1349.31 L1700.45 1346.76 L1702.84 1344.02 L1705.23 1341.1 L1707.62 1338.03 L1710.01 1334.84 L1712.4 1331.55 L1714.79 1328.19 L1717.18 1324.79 L1719.57 1321.37 L1721.96 1317.95 L1724.35 1314.56 L1726.74 1311.22 L1729.13 1307.95 L1731.51 1304.77 L1733.9 1301.7 L1736.29 1298.74 L1738.68 1295.92 L1741.07 1293.25 L1743.46 1290.74 L1745.85 1288.39 L1748.24 1286.21 L1750.63 1284.21 L1753.02 1282.39 L1755.41 1280.76 L1757.8 1279.31 L1760.19 1278.06 L1762.58 1276.99 L1764.97 1276.11 L1767.36 1275.42 L1769.75 1274.93 L1772.14 1274.62 L1774.53 1274.5 L1776.92 1274.57 L1779.31 1274.84 L1781.69 1275.29 L1784.08 1275.94 L1786.47 1276.77 L1788.86 1277.79 L1791.25 1279.01 L1793.64 1280.41 L1796.03 1282 L1798.42 1283.78 L1800.81 1285.74 L1803.2 1287.88 L1805.59 1290.19 L1807.98 1292.66 L1810.37 1295.3 L1812.76 1298.09 L1815.15 1301.01 L1817.54 1304.06 L1819.93 1307.21 L1822.32 1310.46 L1824.71 1313.79 L1827.1 1317.17 L1829.49 1320.58 L1831.88 1324 L1834.26 1327.41 L1836.65 1330.78 L1839.04 1334.09 L1841.43 1337.31 L1843.82 1340.41 L1846.21 1343.36 L1848.6 1346.15 L1850.99 1348.75 L1853.38 1351.13 L1855.77 1353.27 L1858.16 1355.16 L1860.55 1356.78 L1862.94 1358.1 L1865.33 1359.12 L1867.72 1359.83 L1870.11 1360.22 L1872.5 1360.29 L1874.89 1360.03 L1877.28 1359.45 L1879.67 1358.56 L1882.06 1357.36 L1884.45 1355.87 L1886.83 1354.09 L1889.22 1352.05 L1891.61 1349.77 L1894 1347.26 L1896.39 1344.55 L1898.78 1341.66 L1901.17 1338.61 L1903.56 1335.44 L1905.95 1332.17 L1908.34 1328.82 L1910.73 1325.43 L1913.12 1322.01 L1915.51 1318.59 L1917.9 1315.19 L1920.29 1311.84 L1922.68 1308.56 L1925.07 1305.36 L1927.46 1302.26 L1929.85 1299.29 L1932.24 1296.44 L1934.63 1293.74 L1937.02 1291.2 L1939.4 1288.82 L1941.79 1286.61 L1944.18 1284.57 L1946.57 1282.72 L1948.96 1281.05 L1951.35 1279.57 L1953.74 1278.28 L1956.13 1277.17 L1958.52 1276.26 L1960.91 1275.54 L1963.3 1275 L1963.3 1412 L1392.2 1412 Z" fill="url(#ogi)"/>
<path d="M1392.2 1274.97 L1394.59 1275.48 L1396.98 1276.17 L1399.37 1277.05 L1401.76 1278.11 L1404.15 1279.35 L1406.54 1280.78 L1408.93 1282.39 L1411.32 1284.18 L1413.71 1286.14 L1416.1 1288.28 L1418.48 1290.59 L1420.87 1293.06 L1423.26 1295.67 L1425.65 1298.44 L1428.04 1301.33 L1430.43 1304.34 L1432.82 1307.45 L1435.21 1310.65 L1437.6 1313.92 L1439.99 1317.23 L1442.38 1320.57 L1444.77 1323.92 L1447.16 1327.24 L1449.55 1330.51 L1451.94 1333.72 L1454.33 1336.83 L1456.72 1339.81 L1459.11 1342.65 L1461.5 1345.31 L1463.89 1347.78 L1466.28 1350.03 L1468.67 1352.04 L1471.05 1353.79 L1473.44 1355.26 L1475.83 1356.45 L1478.22 1357.34 L1480.61 1357.92 L1483 1358.18 L1485.39 1358.13 L1487.78 1357.76 L1490.17 1357.08 L1492.56 1356.09 L1494.95 1354.8 L1497.34 1353.23 L1499.73 1351.4 L1502.12 1349.3 L1504.51 1346.98 L1506.9 1344.45 L1509.29 1341.72 L1511.68 1338.83 L1514.07 1335.8 L1516.46 1332.66 L1518.85 1329.43 L1521.24 1326.14 L1523.62 1322.81 L1526.01 1319.46 L1528.4 1316.13 L1530.79 1312.83 L1533.18 1309.58 L1535.57 1306.41 L1537.96 1303.33 L1540.35 1300.35 L1542.74 1297.5 L1545.13 1294.79 L1547.52 1292.22 L1549.91 1289.8 L1552.3 1287.55 L1554.69 1285.47 L1557.08 1283.56 L1559.47 1281.83 L1561.86 1280.28 L1564.25 1278.92 L1566.64 1277.73 L1569.03 1276.73 L1571.42 1275.92 L1573.81 1275.29 L1576.19 1274.84 L1578.58 1274.58 L1580.97 1274.5 L1583.36 1274.61 L1585.75 1274.91 L1588.14 1275.4 L1590.53 1276.08 L1592.92 1276.95 L1595.31 1278.01 L1597.7 1279.26 L1600.09 1280.7 L1602.48 1282.32 L1604.87 1284.13 L1607.26 1286.12 L1609.65 1288.29 L1612.04 1290.64 L1614.43 1293.15 L1616.82 1295.81 L1619.21 1298.62 L1621.6 1301.57 L1623.99 1304.64 L1626.37 1307.81 L1628.76 1311.08 L1631.15 1314.42 L1633.54 1317.81 L1635.93 1321.22 L1638.32 1324.64 L1640.71 1328.05 L1643.1 1331.41 L1645.49 1334.7 L1647.88 1337.9 L1650.27 1340.97 L1652.66 1343.9 L1655.05 1346.65 L1657.44 1349.21 L1659.83 1351.55 L1662.22 1353.65 L1664.61 1355.49 L1667 1357.05 L1669.39 1358.31 L1671.78 1359.28 L1674.17 1359.93 L1676.56 1360.26 L1678.94 1360.26 L1681.33 1359.95 L1683.72 1359.31 L1686.11 1358.36 L1688.5 1357.1 L1690.89 1355.56 L1693.28 1353.73 L1695.67 1351.64 L1698.06 1349.31 L1700.45 1346.76 L1702.84 1344.02 L1705.23 1341.1 L1707.62 1338.03 L1710.01 1334.84 L1712.4 1331.55 L1714.79 1328.19 L1717.18 1324.79 L1719.57 1321.37 L1721.96 1317.95 L1724.35 1314.56 L1726.74 1311.22 L1729.13 1307.95 L1731.51 1304.77 L1733.9 1301.7 L1736.29 1298.74 L1738.68 1295.92 L1741.07 1293.25 L1743.46 1290.74 L1745.85 1288.39 L1748.24 1286.21 L1750.63 1284.21 L1753.02 1282.39 L1755.41 1280.76 L1757.8 1279.31 L1760.19 1278.06 L1762.58 1276.99 L1764.97 1276.11 L1767.36 1275.42 L1769.75 1274.93 L1772.14 1274.62 L1774.53 1274.5 L1776.92 1274.57 L1779.31 1274.84 L1781.69 1275.29 L1784.08 1275.94 L1786.47 1276.77 L1788.86 1277.79 L1791.25 1279.01 L1793.64 1280.41 L1796.03 1282 L1798.42 1283.78 L1800.81 1285.74 L1803.2 1287.88 L1805.59 1290.19 L1807.98 1292.66 L1810.37 1295.3 L1812.76 1298.09 L1815.15 1301.01 L1817.54 1304.06 L1819.93 1307.21 L1822.32 1310.46 L1824.71 1313.79 L1827.1 1317.17 L1829.49 1320.58 L1831.88 1324 L1834.26 1327.41 L1836.65 1330.78 L1839.04 1334.09 L1841.43 1337.31 L1843.82 1340.41 L1846.21 1343.36 L1848.6 1346.15 L1850.99 1348.75 L1853.38 1351.13 L1855.77 1353.27 L1858.16 1355.16 L1860.55 1356.78 L1862.94 1358.1 L1865.33 1359.12 L1867.72 1359.83 L1870.11 1360.22 L1872.5 1360.29 L1874.89 1360.03 L1877.28 1359.45 L1879.67 1358.56 L1882.06 1357.36 L1884.45 1355.87 L1886.83 1354.09 L1889.22 1352.05 L1891.61 1349.77 L1894 1347.26 L1896.39 1344.55 L1898.78 1341.66 L1901.17 1338.61 L1903.56 1335.44 L1905.95 1332.17 L1908.34 1328.82 L1910.73 1325.43 L1913.12 1322.01 L1915.51 1318.59 L1917.9 1315.19 L1920.29 1311.84 L1922.68 1308.56 L1925.07 1305.36 L1927.46 1302.26 L1929.85 1299.29 L1932.24 1296.44 L1934.63 1293.74 L1937.02 1291.2 L1939.4 1288.82 L1941.79 1286.61 L1944.18 1284.57 L1946.57 1282.72 L1948.96 1281.05 L1951.35 1279.57 L1953.74 1278.28 L1956.13 1277.17 L1958.52 1276.26 L1960.91 1275.54 L1963.3 1275" fill="none" stroke="#000" stroke-width="5.6" filter="url(#shw)"/>
</g>
<rect x="1543.7" y="1197.5" width="61" height="51" fill="#9A9A9A" fill-opacity="0.42" stroke="none"/>
<rect x="1543.7" y="1197.5" width="61" height="51" fill="none" stroke="#000" stroke-width="3.2" stroke-dasharray="3.2 3" filter="url(#sh)"/>
<g filter="url(#sh1)">
<line x1="1606.5" y1="1222" x2="1643.5" y2="1222" stroke="#000" stroke-width="2.8" stroke-dasharray="3 2.6"/>
<path d="M1651.5 1222 L1642.5 1226.25 L1642.5 1217.75 Z" fill="#000" />
</g>
<path d="M1542.19 1224.59 L1508.44 1234.83 L1539.07 1238.61 L1501.73 1247.91 L1532.07 1252.43 L1491.99 1261.02 L1520.57 1267.14 L1480.6 1277.28 L1508.91 1279.51 L1478.74 1289.52 L1503.27 1293.28 L1475.44 1302.7 L1489.25 1307.89" fill="none" stroke="#000" stroke-width="2.9" stroke-dasharray="3 2.4" stroke-linejoin="miter" stroke-miterlimit="12" filter="url(#sh)"/>
<ellipse cx="1482.3" cy="1340" rx="17.3" ry="14.8" fill="#0000A0" fill-opacity="0.4" stroke="#0000FF" stroke-width="1.0" stroke-opacity="0.75" stroke-dasharray="3 2"/>
<ellipse cx="1484.43" cy="1337.62" rx="17.3" ry="14.8" fill="#0000A0" fill-opacity="0.4" stroke="#0000FF" stroke-width="1.0" stroke-opacity="0.75" stroke-dasharray="3 2"/>
<ellipse cx="1486.56" cy="1335.24" rx="17.3" ry="14.8" fill="#0000A0" fill-opacity="0.4" stroke="#0000FF" stroke-width="1.0" stroke-opacity="0.75" stroke-dasharray="3 2"/>
<ellipse cx="1488.69" cy="1332.86" rx="17.3" ry="14.8" fill="#0000A0" fill-opacity="0.4" stroke="#0000FF" stroke-width="1.0" stroke-opacity="0.75" stroke-dasharray="3 2"/>
<ellipse cx="1490.81" cy="1330.48" rx="17.3" ry="14.8" fill="#0000A0" fill-opacity="0.4" stroke="#0000FF" stroke-width="1.0" stroke-opacity="0.75" stroke-dasharray="3 2"/>
<ellipse cx="1492.94" cy="1328.1" rx="17.3" ry="14.8" fill="#0000A0" fill-opacity="0.4" stroke="#0000FF" stroke-width="1.0" stroke-opacity="0.75" stroke-dasharray="3 2"/>
<ellipse cx="1495.07" cy="1325.71" rx="17.3" ry="14.8" fill="#0000A0" fill-opacity="0.4" stroke="#0000FF" stroke-width="1.0" stroke-opacity="0.75" stroke-dasharray="3 2"/>
<ellipse cx="1497.2" cy="1323.33" rx="17.3" ry="14.8" fill="#0000A0" fill-opacity="0.4" stroke="#0000FF" stroke-width="1.0" stroke-opacity="0.75" stroke-dasharray="3 2"/>
<ellipse cx="1499.33" cy="1320.95" rx="17.3" ry="14.8" fill="#0000A0" fill-opacity="0.4" stroke="#0000FF" stroke-width="1.0" stroke-opacity="0.75" stroke-dasharray="3 2"/>
<ellipse cx="1501.46" cy="1318.57" rx="17.3" ry="14.8" fill="#0000A0" fill-opacity="0.4" stroke="#0000FF" stroke-width="1.0" stroke-opacity="0.75" stroke-dasharray="3 2"/>
<ellipse cx="1503.59" cy="1316.19" rx="17.3" ry="14.8" fill="#0000A0" fill-opacity="0.4" stroke="#0000FF" stroke-width="1.0" stroke-opacity="0.75" stroke-dasharray="3 2"/>
<ellipse cx="1505.71" cy="1313.81" rx="17.3" ry="14.8" fill="#0000A0" fill-opacity="0.4" stroke="#0000FF" stroke-width="1.0" stroke-opacity="0.75" stroke-dasharray="3 2"/>
<ellipse cx="1507.84" cy="1311.43" rx="17.3" ry="14.8" fill="#0000A0" fill-opacity="0.4" stroke="#0000FF" stroke-width="1.0" stroke-opacity="0.75" stroke-dasharray="3 2"/>
<ellipse cx="1509.97" cy="1309.05" rx="17.3" ry="14.8" fill="#0000A0" fill-opacity="0.4" stroke="#0000FF" stroke-width="1.0" stroke-opacity="0.75" stroke-dasharray="3 2"/>
<ellipse cx="1512.1" cy="1306.67" rx="17.3" ry="14.8" fill="#0000A0" fill-opacity="0.4" stroke="#0000FF" stroke-width="1.0" stroke-opacity="0.75" stroke-dasharray="3 2"/>
<ellipse cx="1514.23" cy="1304.29" rx="17.3" ry="14.8" fill="#0000A0" fill-opacity="0.4" stroke="#0000FF" stroke-width="1.0" stroke-opacity="0.75" stroke-dasharray="3 2"/>
<ellipse cx="1516.36" cy="1301.9" rx="17.3" ry="14.8" fill="#0000A0" fill-opacity="0.4" stroke="#0000FF" stroke-width="1.0" stroke-opacity="0.75" stroke-dasharray="3 2"/>
<ellipse cx="1518.49" cy="1299.52" rx="17.3" ry="14.8" fill="#0000A0" fill-opacity="0.4" stroke="#0000FF" stroke-width="1.0" stroke-opacity="0.75" stroke-dasharray="3 2"/>
<ellipse cx="1520.61" cy="1297.14" rx="17.3" ry="14.8" fill="#0000A0" fill-opacity="0.4" stroke="#0000FF" stroke-width="1.0" stroke-opacity="0.75" stroke-dasharray="3 2"/>
<ellipse cx="1522.74" cy="1294.76" rx="17.3" ry="14.8" fill="#0000A0" fill-opacity="0.4" stroke="#0000FF" stroke-width="1.0" stroke-opacity="0.75" stroke-dasharray="3 2"/>
<ellipse cx="1524.87" cy="1292.38" rx="17.3" ry="14.8" fill="#0000A0" fill-opacity="0.4" stroke="#0000FF" stroke-width="1.0" stroke-opacity="0.75" stroke-dasharray="3 2"/>
<ellipse cx="1527" cy="1290" rx="17.3" ry="14.8" fill="#0000A0" fill-opacity="0.4" stroke="#0000FF" stroke-width="1.0" stroke-opacity="0.75" stroke-dasharray="3 2"/>
<ellipse cx="1534" cy="1282" rx="18" ry="15.3" fill="#4848C8" fill-opacity="0.2" stroke="#0000FF" stroke-width="1.0" stroke-opacity="0.75" stroke-dasharray="3 2"/>
<ellipse cx="1540" cy="1275" rx="18" ry="15.3" fill="#4848C8" fill-opacity="0.2" stroke="#0000FF" stroke-width="1.0" stroke-opacity="0.75" stroke-dasharray="3 2"/>
<ellipse cx="1545.7" cy="1268.8" rx="18" ry="15.3" fill="#4848C8" fill-opacity="0.2" stroke="#0000FF" stroke-width="1.0" stroke-opacity="0.75" stroke-dasharray="3 2"/>
<path d="M1570.8 1261 Q1576 1255.8 1582 1256.3 Q1591 1256.8 1599 1265.3 L1650.6 1321.8" fill="none" stroke="#8484F2" stroke-width="2.7" stroke-dasharray="2.7 2.7"/>
<g filter="url(#sh1)">
<path d="M1566.5 1301.8 Q1570.4 1290 1580.4 1290.5 Q1587.4 1290.5 1593.4 1298.5 L1637.47 1355.7" fill="none" stroke="#00A651" stroke-width="3.2"/>
<path d="M1645.4 1366 L1631.29 1357.93 L1641.2 1350.3 Z" fill="#00A651" />
</g>
<g filter="url(#sh1)">
<line x1="1526.6" y1="1342.6" x2="1531.47" y2="1337.5" stroke="#FF00FF" stroke-width="2.6" />
<path d="M1531.47 1337.5 L1526.81 1350.34 L1518.86 1342.74 Z" fill="#FF00FF" />
<line x1="1531.47" y1="1337.5" x2="1536.35" y2="1332.4" stroke="#FF00FF" stroke-width="2.6" />
<path d="M1536.35 1332.4 L1531.69 1345.24 L1523.74 1337.64 Z" fill="#FF00FF" />
<line x1="1536.35" y1="1332.4" x2="1541.22" y2="1327.3" stroke="#FF00FF" stroke-width="2.6" />
<path d="M1541.22 1327.3 L1536.56 1340.14 L1528.61 1332.54 Z" fill="#FF00FF" />
<line x1="1541.22" y1="1327.3" x2="1546.1" y2="1322.2" stroke="#FF13F1" stroke-width="2.6" />
<path d="M1546.1 1322.2 L1541.44 1335.04 L1533.49 1327.44 Z" fill="#FF13F1" />
<line x1="1546.1" y1="1322.2" x2="1550.97" y2="1317.1" stroke="#FF2BE1" stroke-width="2.6" />
<path d="M1550.97 1317.1 L1546.31 1329.94 L1538.36 1322.34 Z" fill="#FF2BE1" />
<line x1="1550.97" y1="1317.1" x2="1555.85" y2="1312" stroke="#FF43D0" stroke-width="2.6" />
<path d="M1555.85 1312 L1551.19 1324.84 L1543.24 1317.24 Z" fill="#FF43D0" />
<line x1="1555.85" y1="1312" x2="1560.72" y2="1306.9" stroke="#FF5BBF" stroke-width="2.6" />
<path d="M1560.72 1306.9 L1556.06 1319.74 L1548.11 1312.14 Z" fill="#FF5BBF" />
<line x1="1560.72" y1="1306.9" x2="1565.6" y2="1301.8" stroke="#FF73AF" stroke-width="2.6" />
<path d="M1565.6 1301.8 L1560.94 1314.64 L1552.99 1307.04 Z" fill="#FF73AF" />
</g>
<g filter="url(#sh1)">
<line x1="1497.9" y1="1374.7" x2="1519.38" y2="1354.46" stroke="#FF0000" stroke-width="3.5"/>
<path d="M1529.2 1345.2 L1523.11 1359.88 L1514.19 1350.41 Z" fill="#FF0000" />
</g>
<text x="1434.6" y="1399.7" font-size="24" font-weight="bold" fill="#FF0000" text-anchor="start" >Stick</text>
<text x="1500.5" y="1399.7" font-size="24" font-weight="bold" fill="#FF00FF" text-anchor="start" >Activation</text>
<text x="1626.4" y="1399.7" font-size="24" font-weight="bold" fill="#00A651" text-anchor="start" >Slip</text>
<path d="M1738.26 1223.21 L1708.34 1233.59 L1729.79 1237.91 L1701.55 1247.18 L1723.8 1252.11 L1690.24 1260.83 L1712.42 1266.46 L1679.39 1276.59 L1700.88 1280.22 L1670.82 1289.32 L1691.75 1293.6 L1667.69 1302.67 L1683.52 1307.58" fill="none" stroke="#000" stroke-width="3.1" stroke-linejoin="miter" stroke-miterlimit="12" filter="url(#sh)"/>
<rect x="1739" y="1197" width="60.5" height="50.5" fill="#A6A6A6" stroke="#000" stroke-width="3.2" filter="url(#sh)"/>
<g filter="url(#sh1)">
<line x1="1801" y1="1221.8" x2="1839.8" y2="1221.8" stroke="#000" stroke-width="2.8"/>
<path d="M1847.8 1221.8 L1838.8 1226.05 L1838.8 1217.55 Z" fill="#000" />
</g>
<text x="1808.8" y="1210.6" font-size="27" font-style="italic" font-weight="bold">F<tspan font-style="normal" font-size="17.5" dy="7" dx="-1.5">L</tspan></text>
<ellipse cx="1685.3" cy="1338.1" rx="17.3" ry="14.8" fill="#0000A0" fill-opacity="0.4" stroke="#0000FF" stroke-width="1.0" stroke-opacity="0.75"/>
<ellipse cx="1687.55" cy="1335.59" rx="17.3" ry="14.8" fill="#0000A0" fill-opacity="0.4" stroke="#0000FF" stroke-width="1.0" stroke-opacity="0.75"/>
<ellipse cx="1689.79" cy="1333.09" rx="17.3" ry="14.8" fill="#0000A0" fill-opacity="0.4" stroke="#0000FF" stroke-width="1.0" stroke-opacity="0.75"/>
<ellipse cx="1692.04" cy="1330.58" rx="17.3" ry="14.8" fill="#0000A0" fill-opacity="0.4" stroke="#0000FF" stroke-width="1.0" stroke-opacity="0.75"/>
<ellipse cx="1694.29" cy="1328.08" rx="17.3" ry="14.8" fill="#0000A0" fill-opacity="0.4" stroke="#0000FF" stroke-width="1.0" stroke-opacity="0.75"/>
<ellipse cx="1696.54" cy="1325.57" rx="17.3" ry="14.8" fill="#0000A0" fill-opacity="0.4" stroke="#0000FF" stroke-width="1.0" stroke-opacity="0.75"/>
<ellipse cx="1698.78" cy="1323.07" rx="17.3" ry="14.8" fill="#0000A0" fill-opacity="0.4" stroke="#0000FF" stroke-width="1.0" stroke-opacity="0.75"/>
<ellipse cx="1701.03" cy="1320.56" rx="17.3" ry="14.8" fill="#0000A0" fill-opacity="0.4" stroke="#0000FF" stroke-width="1.0" stroke-opacity="0.75"/>
<ellipse cx="1703.28" cy="1318.06" rx="17.3" ry="14.8" fill="#0000A0" fill-opacity="0.4" stroke="#0000FF" stroke-width="1.0" stroke-opacity="0.75"/>
<ellipse cx="1705.53" cy="1315.55" rx="17.3" ry="14.8" fill="#0000A0" fill-opacity="0.4" stroke="#0000FF" stroke-width="1.0" stroke-opacity="0.75"/>
<ellipse cx="1707.77" cy="1313.05" rx="17.3" ry="14.8" fill="#0000A0" fill-opacity="0.4" stroke="#0000FF" stroke-width="1.0" stroke-opacity="0.75"/>
<ellipse cx="1710.02" cy="1310.54" rx="17.3" ry="14.8" fill="#0000A0" fill-opacity="0.4" stroke="#0000FF" stroke-width="1.0" stroke-opacity="0.75"/>
<ellipse cx="1712.27" cy="1308.04" rx="17.3" ry="14.8" fill="#0000A0" fill-opacity="0.4" stroke="#0000FF" stroke-width="1.0" stroke-opacity="0.75"/>
<ellipse cx="1714.52" cy="1305.53" rx="17.3" ry="14.8" fill="#0000A0" fill-opacity="0.4" stroke="#0000FF" stroke-width="1.0" stroke-opacity="0.75"/>
<ellipse cx="1716.76" cy="1303.03" rx="17.3" ry="14.8" fill="#0000A0" fill-opacity="0.4" stroke="#0000FF" stroke-width="1.0" stroke-opacity="0.75"/>
<ellipse cx="1719.01" cy="1300.52" rx="17.3" ry="14.8" fill="#0000A0" fill-opacity="0.4" stroke="#0000FF" stroke-width="1.0" stroke-opacity="0.75"/>
<ellipse cx="1721.26" cy="1298.02" rx="17.3" ry="14.8" fill="#0000A0" fill-opacity="0.4" stroke="#0000FF" stroke-width="1.0" stroke-opacity="0.75"/>
<ellipse cx="1723.51" cy="1295.51" rx="17.3" ry="14.8" fill="#0000A0" fill-opacity="0.4" stroke="#0000FF" stroke-width="1.0" stroke-opacity="0.75"/>
<ellipse cx="1725.75" cy="1293.01" rx="17.3" ry="14.8" fill="#0000A0" fill-opacity="0.4" stroke="#0000FF" stroke-width="1.0" stroke-opacity="0.75"/>
<ellipse cx="1728" cy="1290.5" rx="17.3" ry="14.8" fill="#0000A0" fill-opacity="0.4" stroke="#0000FF" stroke-width="1.0" stroke-opacity="0.75"/>
<ellipse cx="1734" cy="1283.5" rx="18" ry="15.3" fill="#4848C8" fill-opacity="0.2" stroke="#0000FF" stroke-width="1.0" stroke-opacity="0.75"/>
<ellipse cx="1740" cy="1277" rx="18" ry="15.3" fill="#4848C8" fill-opacity="0.2" stroke="#0000FF" stroke-width="1.0" stroke-opacity="0.75"/>
<ellipse cx="1745.4" cy="1270.8" rx="18" ry="15.3" fill="#4848C8" fill-opacity="0.2" stroke="#0000FF" stroke-width="1.0" stroke-opacity="0.75"/>
<path d="M1768.5 1261 Q1774 1255 1780 1255.5 Q1789 1256 1797 1264.5 L1848.3 1321" fill="none" stroke="#8484F2" stroke-width="2.7" stroke-dasharray="2.7 2.7"/>
<g filter="url(#sh1)">
<path d="M1762.9 1304.9 Q1766 1292.7 1776 1293.2 Q1783 1293.2 1789 1301.2 L1834.39 1359.26" fill="none" stroke="#00A651" stroke-width="3.2"/>
<path d="M1842.4 1369.5 L1828.24 1361.53 L1838.08 1353.83 Z" fill="#00A651" />
</g>
<g filter="url(#sh1)">
<line x1="1724.8" y1="1347.1" x2="1729.51" y2="1341.94" stroke="#FF00FF" stroke-width="2.6" />
<path d="M1729.51 1341.94 L1725.15 1354.88 L1717.02 1347.46 Z" fill="#FF00FF" />
<line x1="1729.51" y1="1341.94" x2="1734.22" y2="1336.77" stroke="#FF00FF" stroke-width="2.6" />
<path d="M1734.22 1336.77 L1729.86 1349.72 L1721.74 1342.3 Z" fill="#FF00FF" />
<line x1="1734.22" y1="1336.77" x2="1738.94" y2="1331.61" stroke="#FF00FF" stroke-width="2.6" />
<path d="M1738.94 1331.61 L1734.57 1344.55 L1726.45 1337.14 Z" fill="#FF00FF" />
<line x1="1738.94" y1="1331.61" x2="1743.65" y2="1326.45" stroke="#FF13F1" stroke-width="2.6" />
<path d="M1743.65 1326.45 L1739.28 1339.39 L1731.16 1331.97 Z" fill="#FF13F1" />
<line x1="1743.65" y1="1326.45" x2="1748.36" y2="1321.29" stroke="#FF2BE1" stroke-width="2.6" />
<path d="M1748.36 1321.29 L1744 1334.23 L1735.87 1326.81 Z" fill="#FF2BE1" />
<line x1="1748.36" y1="1321.29" x2="1753.08" y2="1316.12" stroke="#FF43D0" stroke-width="2.6" />
<path d="M1753.08 1316.12 L1748.71 1329.07 L1740.59 1321.65 Z" fill="#FF43D0" />
<line x1="1753.08" y1="1316.12" x2="1757.79" y2="1310.96" stroke="#FF5BBF" stroke-width="2.6" />
<path d="M1757.79 1310.96 L1753.42 1323.9 L1745.3 1316.49 Z" fill="#FF5BBF" />
<line x1="1757.79" y1="1310.96" x2="1762.5" y2="1305.8" stroke="#FF73AF" stroke-width="2.6" />
<path d="M1762.5 1305.8 L1758.13 1318.74 L1750.01 1311.32 Z" fill="#FF73AF" />
</g>
<g filter="url(#sh1)">
<line x1="1694.6" y1="1377.6" x2="1715.92" y2="1357.31" stroke="#FF0000" stroke-width="3.5"/>
<path d="M1725.7 1348 L1719.68 1362.7 L1710.72 1353.29 Z" fill="#FF0000" />
</g>
<ellipse cx="1867" cy="1339.9" rx="18.4" ry="15.7" fill="#DCD2E0" stroke="#0000FF" stroke-width="1.1" filter="url(#sh1)"/>
<text x="1679" y="1399.7" font-size="24" font-weight="bold" fill="#FF0000" text-anchor="start" >Stick</text>
<text x="1744.5" y="1399.7" font-size="24" font-weight="bold" fill="#FF00FF" text-anchor="start" >Activation</text>
<text x="1869.3" y="1399.7" font-size="24" font-weight="bold" fill="#00A651" text-anchor="start" >Slip</text>
<rect x="1395.2" y="1182.7" width="565.1" height="226.3" rx="14" fill="none" stroke="#FF0000" stroke-width="3" stroke-dasharray="12.5 8.5"/>
<text x="1403" y="1228" font-size="46" font-weight="bold" fill="#000" text-anchor="start" >i</text>
<clipPath id="cpj"><rect x="721.3" y="1426.1" width="564.7" height="235.4" rx="14"/></clipPath>
<linearGradient id="ogj" x1="0" y1="1522.3" x2="0" y2="1661.5" gradientUnits="userSpaceOnUse"><stop offset="0" stop-color="#F98B1F" stop-opacity="1"/><stop offset="0.06" stop-color="#F98F28" stop-opacity="1"/><stop offset="0.21" stop-color="#F9A552" stop-opacity="1"/><stop offset="0.43" stop-color="#F9C288" stop-opacity="1"/><stop offset="0.65" stop-color="#F8DAB0" stop-opacity="1"/><stop offset="0.8" stop-color="#F8E6CC" stop-opacity="0.75"/><stop offset="0.9" stop-color="#F8EEDC" stop-opacity="0.5"/><stop offset="1" stop-color="#FFF8EC" stop-opacity="0.0"/></linearGradient>
<rect x="721.3" y="1426.1" width="564.7" height="235.4" rx="14" fill="#EEF5E8" filter="url(#shp)"/>
<g clip-path="url(#cpj)">
<path d="M718.3 1522.63 L720.69 1523.07 L723.08 1523.7 L725.46 1524.52 L727.85 1525.52 L730.24 1526.71 L732.63 1528.09 L735.02 1529.65 L737.4 1531.39 L739.79 1533.31 L742.18 1535.41 L744.57 1537.68 L746.95 1540.12 L749.34 1542.71 L751.73 1545.46 L754.12 1548.34 L756.51 1551.34 L758.89 1554.46 L761.28 1557.67 L763.67 1560.95 L766.06 1564.3 L768.45 1567.67 L770.83 1571.06 L773.22 1574.43 L775.61 1577.77 L778 1581.04 L780.38 1584.22 L782.77 1587.29 L785.16 1590.22 L787.55 1592.98 L789.94 1595.55 L792.32 1597.9 L794.71 1600.02 L797.1 1601.88 L799.49 1603.47 L801.88 1604.77 L804.26 1605.77 L806.65 1606.46 L809.04 1606.83 L811.43 1606.88 L813.81 1606.61 L816.2 1606.02 L818.59 1605.11 L820.98 1603.9 L823.37 1602.4 L825.75 1600.62 L828.14 1598.58 L830.53 1596.3 L832.92 1593.79 L835.31 1591.09 L837.69 1588.21 L840.08 1585.18 L842.47 1582.03 L844.86 1578.78 L847.24 1575.46 L849.63 1572.1 L852.02 1568.71 L854.41 1565.33 L856.8 1561.98 L859.18 1558.67 L861.57 1555.44 L863.96 1552.29 L866.35 1549.25 L868.74 1546.33 L871.12 1543.54 L873.51 1540.9 L875.9 1538.41 L878.29 1536.09 L880.67 1533.94 L883.06 1531.96 L885.45 1530.16 L887.84 1528.55 L890.23 1527.11 L892.61 1525.87 L895 1524.81 L897.39 1523.93 L899.78 1523.25 L902.17 1522.75 L904.55 1522.43 L906.94 1522.3 L909.33 1522.36 L911.72 1522.62 L914.11 1523.06 L916.49 1523.71 L918.88 1524.54 L921.27 1525.57 L923.66 1526.8 L926.04 1528.21 L928.43 1529.82 L930.82 1531.62 L933.21 1533.6 L935.6 1535.77 L937.98 1538.11 L940.37 1540.63 L942.76 1543.31 L945.15 1546.13 L947.54 1549.11 L949.92 1552.2 L952.31 1555.42 L954.7 1558.72 L957.09 1562.11 L959.47 1565.55 L961.86 1569.03 L964.25 1572.51 L966.64 1575.99 L969.03 1579.42 L971.41 1582.8 L973.8 1586.08 L976.19 1589.24 L978.58 1592.26 L980.97 1595.11 L983.35 1597.76 L985.74 1600.19 L988.13 1602.39 L990.52 1604.32 L992.9 1605.97 L995.29 1607.33 L997.68 1608.38 L1000.07 1609.11 L1002.46 1609.51 L1004.84 1609.59 L1007.23 1609.33 L1009.62 1608.75 L1012.01 1607.85 L1014.4 1606.63 L1016.78 1605.12 L1019.17 1603.31 L1021.56 1601.24 L1023.95 1598.91 L1026.33 1596.36 L1028.72 1593.59 L1031.11 1590.65 L1033.5 1587.55 L1035.89 1584.32 L1038.27 1580.99 L1040.66 1577.58 L1043.05 1574.12 L1045.44 1570.63 L1047.83 1567.15 L1050.21 1563.69 L1052.6 1560.27 L1054.99 1556.93 L1057.38 1553.67 L1059.76 1550.52 L1062.15 1547.49 L1064.54 1544.59 L1066.93 1541.84 L1069.32 1539.25 L1071.7 1536.83 L1074.09 1534.58 L1076.48 1532.51 L1078.87 1530.63 L1081.26 1528.93 L1083.64 1527.43 L1086.03 1526.11 L1088.42 1524.99 L1090.81 1524.07 L1093.19 1523.34 L1095.58 1522.8 L1097.97 1522.46 L1100.36 1522.31 L1102.75 1522.35 L1105.13 1522.59 L1107.52 1523.02 L1109.91 1523.65 L1112.3 1524.47 L1114.69 1525.49 L1117.07 1526.7 L1119.46 1528.1 L1121.85 1529.69 L1124.24 1531.48 L1126.63 1533.45 L1129.01 1535.6 L1131.4 1537.93 L1133.79 1540.43 L1136.18 1543.09 L1138.56 1545.91 L1140.95 1548.87 L1143.34 1551.96 L1145.73 1555.17 L1148.12 1558.47 L1150.5 1561.85 L1152.89 1565.28 L1155.28 1568.76 L1157.67 1572.25 L1160.06 1575.72 L1162.44 1579.16 L1164.83 1582.54 L1167.22 1585.83 L1169.61 1589 L1171.99 1592.03 L1174.38 1594.9 L1176.77 1597.56 L1179.16 1600.02 L1181.55 1602.23 L1183.93 1604.18 L1186.32 1605.85 L1188.71 1607.23 L1191.1 1608.31 L1193.49 1609.06 L1195.87 1609.49 L1198.26 1609.59 L1200.65 1609.37 L1203.04 1608.81 L1205.42 1607.93 L1207.81 1606.74 L1210.2 1605.24 L1212.59 1603.46 L1214.98 1601.4 L1217.36 1599.1 L1219.75 1596.56 L1222.14 1593.81 L1224.53 1590.88 L1226.92 1587.79 L1229.3 1584.57 L1231.69 1581.25 L1234.08 1577.84 L1236.47 1574.38 L1238.85 1570.9 L1241.24 1567.41 L1243.63 1563.95 L1246.02 1560.53 L1248.41 1557.18 L1250.79 1553.92 L1253.18 1550.76 L1255.57 1547.71 L1257.96 1544.81 L1260.35 1542.05 L1262.73 1539.44 L1265.12 1537.01 L1267.51 1534.75 L1269.9 1532.66 L1272.28 1530.76 L1274.67 1529.05 L1277.06 1527.53 L1279.45 1526.21 L1281.84 1525.07 L1284.22 1524.13 L1286.61 1523.39 L1289 1522.83 L1289 1664.5 L718.3 1664.5 Z" fill="url(#ogj)"/>
<path d="M718.3 1522.63 L720.69 1523.07 L723.08 1523.7 L725.46 1524.52 L727.85 1525.52 L730.24 1526.71 L732.63 1528.09 L735.02 1529.65 L737.4 1531.39 L739.79 1533.31 L742.18 1535.41 L744.57 1537.68 L746.95 1540.12 L749.34 1542.71 L751.73 1545.46 L754.12 1548.34 L756.51 1551.34 L758.89 1554.46 L761.28 1557.67 L763.67 1560.95 L766.06 1564.3 L768.45 1567.67 L770.83 1571.06 L773.22 1574.43 L775.61 1577.77 L778 1581.04 L780.38 1584.22 L782.77 1587.29 L785.16 1590.22 L787.55 1592.98 L789.94 1595.55 L792.32 1597.9 L794.71 1600.02 L797.1 1601.88 L799.49 1603.47 L801.88 1604.77 L804.26 1605.77 L806.65 1606.46 L809.04 1606.83 L811.43 1606.88 L813.81 1606.61 L816.2 1606.02 L818.59 1605.11 L820.98 1603.9 L823.37 1602.4 L825.75 1600.62 L828.14 1598.58 L830.53 1596.3 L832.92 1593.79 L835.31 1591.09 L837.69 1588.21 L840.08 1585.18 L842.47 1582.03 L844.86 1578.78 L847.24 1575.46 L849.63 1572.1 L852.02 1568.71 L854.41 1565.33 L856.8 1561.98 L859.18 1558.67 L861.57 1555.44 L863.96 1552.29 L866.35 1549.25 L868.74 1546.33 L871.12 1543.54 L873.51 1540.9 L875.9 1538.41 L878.29 1536.09 L880.67 1533.94 L883.06 1531.96 L885.45 1530.16 L887.84 1528.55 L890.23 1527.11 L892.61 1525.87 L895 1524.81 L897.39 1523.93 L899.78 1523.25 L902.17 1522.75 L904.55 1522.43 L906.94 1522.3 L909.33 1522.36 L911.72 1522.62 L914.11 1523.06 L916.49 1523.71 L918.88 1524.54 L921.27 1525.57 L923.66 1526.8 L926.04 1528.21 L928.43 1529.82 L930.82 1531.62 L933.21 1533.6 L935.6 1535.77 L937.98 1538.11 L940.37 1540.63 L942.76 1543.31 L945.15 1546.13 L947.54 1549.11 L949.92 1552.2 L952.31 1555.42 L954.7 1558.72 L957.09 1562.11 L959.47 1565.55 L961.86 1569.03 L964.25 1572.51 L966.64 1575.99 L969.03 1579.42 L971.41 1582.8 L973.8 1586.08 L976.19 1589.24 L978.58 1592.26 L980.97 1595.11 L983.35 1597.76 L985.74 1600.19 L988.13 1602.39 L990.52 1604.32 L992.9 1605.97 L995.29 1607.33 L997.68 1608.38 L1000.07 1609.11 L1002.46 1609.51 L1004.84 1609.59 L1007.23 1609.33 L1009.62 1608.75 L1012.01 1607.85 L1014.4 1606.63 L1016.78 1605.12 L1019.17 1603.31 L1021.56 1601.24 L1023.95 1598.91 L1026.33 1596.36 L1028.72 1593.59 L1031.11 1590.65 L1033.5 1587.55 L1035.89 1584.32 L1038.27 1580.99 L1040.66 1577.58 L1043.05 1574.12 L1045.44 1570.63 L1047.83 1567.15 L1050.21 1563.69 L1052.6 1560.27 L1054.99 1556.93 L1057.38 1553.67 L1059.76 1550.52 L1062.15 1547.49 L1064.54 1544.59 L1066.93 1541.84 L1069.32 1539.25 L1071.7 1536.83 L1074.09 1534.58 L1076.48 1532.51 L1078.87 1530.63 L1081.26 1528.93 L1083.64 1527.43 L1086.03 1526.11 L1088.42 1524.99 L1090.81 1524.07 L1093.19 1523.34 L1095.58 1522.8 L1097.97 1522.46 L1100.36 1522.31 L1102.75 1522.35 L1105.13 1522.59 L1107.52 1523.02 L1109.91 1523.65 L1112.3 1524.47 L1114.69 1525.49 L1117.07 1526.7 L1119.46 1528.1 L1121.85 1529.69 L1124.24 1531.48 L1126.63 1533.45 L1129.01 1535.6 L1131.4 1537.93 L1133.79 1540.43 L1136.18 1543.09 L1138.56 1545.91 L1140.95 1548.87 L1143.34 1551.96 L1145.73 1555.17 L1148.12 1558.47 L1150.5 1561.85 L1152.89 1565.28 L1155.28 1568.76 L1157.67 1572.25 L1160.06 1575.72 L1162.44 1579.16 L1164.83 1582.54 L1167.22 1585.83 L1169.61 1589 L1171.99 1592.03 L1174.38 1594.9 L1176.77 1597.56 L1179.16 1600.02 L1181.55 1602.23 L1183.93 1604.18 L1186.32 1605.85 L1188.71 1607.23 L1191.1 1608.31 L1193.49 1609.06 L1195.87 1609.49 L1198.26 1609.59 L1200.65 1609.37 L1203.04 1608.81 L1205.42 1607.93 L1207.81 1606.74 L1210.2 1605.24 L1212.59 1603.46 L1214.98 1601.4 L1217.36 1599.1 L1219.75 1596.56 L1222.14 1593.81 L1224.53 1590.88 L1226.92 1587.79 L1229.3 1584.57 L1231.69 1581.25 L1234.08 1577.84 L1236.47 1574.38 L1238.85 1570.9 L1241.24 1567.41 L1243.63 1563.95 L1246.02 1560.53 L1248.41 1557.18 L1250.79 1553.92 L1253.18 1550.76 L1255.57 1547.71 L1257.96 1544.81 L1260.35 1542.05 L1262.73 1539.44 L1265.12 1537.01 L1267.51 1534.75 L1269.9 1532.66 L1272.28 1530.76 L1274.67 1529.05 L1277.06 1527.53 L1279.45 1526.21 L1281.84 1525.07 L1284.22 1524.13 L1286.61 1523.39 L1289 1522.83" fill="none" stroke="#000" stroke-width="5.6" filter="url(#shw)"/>
</g>
<rect x="889" y="1441.2" width="60.5" height="50" fill="#9A9A9A" fill-opacity="0.42" stroke="none"/>
<rect x="889" y="1441.2" width="60.5" height="50" fill="none" stroke="#000" stroke-width="3.2" stroke-dasharray="3.2 3" filter="url(#sh)"/>
<g filter="url(#sh1)">
<line x1="951.5" y1="1465.3" x2="1007.6" y2="1465.3" stroke="#000" stroke-width="2.8" stroke-dasharray="3 2.6"/>
<path d="M1015.6 1465.3 L1006.6 1469.55 L1006.6 1461.05 Z" fill="#000" />
</g>
<path d="M887.65 1465.32 L850.42 1479.47 L881.7 1480.2 L835.59 1494.81 L863.07 1495.55 L819.65 1509.95 L854.98 1512.82 L803.54 1529.64 L837.42 1528.92 L801.24 1542.52 L830.84 1542.51 L787.64 1558.96 L810.88 1561.71" fill="none" stroke="#000" stroke-width="2.9" stroke-dasharray="3 2.4" stroke-linejoin="miter" stroke-miterlimit="12" filter="url(#sh)"/>
<ellipse cx="816" cy="1583" rx="17.3" ry="14.8" fill="#0000A0" fill-opacity="0.4" stroke="#0000FF" stroke-width="1.0" stroke-opacity="0.75" stroke-dasharray="3 2"/>
<ellipse cx="818.3" cy="1580.59" rx="17.3" ry="14.8" fill="#0000A0" fill-opacity="0.4" stroke="#0000FF" stroke-width="1.0" stroke-opacity="0.75" stroke-dasharray="3 2"/>
<ellipse cx="820.61" cy="1578.17" rx="17.3" ry="14.8" fill="#0000A0" fill-opacity="0.4" stroke="#0000FF" stroke-width="1.0" stroke-opacity="0.75" stroke-dasharray="3 2"/>
<ellipse cx="822.91" cy="1575.76" rx="17.3" ry="14.8" fill="#0000A0" fill-opacity="0.4" stroke="#0000FF" stroke-width="1.0" stroke-opacity="0.75" stroke-dasharray="3 2"/>
<ellipse cx="825.22" cy="1573.35" rx="17.3" ry="14.8" fill="#0000A0" fill-opacity="0.4" stroke="#0000FF" stroke-width="1.0" stroke-opacity="0.75" stroke-dasharray="3 2"/>
<ellipse cx="827.52" cy="1570.93" rx="17.3" ry="14.8" fill="#0000A0" fill-opacity="0.4" stroke="#0000FF" stroke-width="1.0" stroke-opacity="0.75" stroke-dasharray="3 2"/>
<ellipse cx="829.83" cy="1568.52" rx="17.3" ry="14.8" fill="#0000A0" fill-opacity="0.4" stroke="#0000FF" stroke-width="1.0" stroke-opacity="0.75" stroke-dasharray="3 2"/>
<ellipse cx="832.13" cy="1566.11" rx="17.3" ry="14.8" fill="#0000A0" fill-opacity="0.4" stroke="#0000FF" stroke-width="1.0" stroke-opacity="0.75" stroke-dasharray="3 2"/>
<ellipse cx="834.43" cy="1563.7" rx="17.3" ry="14.8" fill="#0000A0" fill-opacity="0.4" stroke="#0000FF" stroke-width="1.0" stroke-opacity="0.75" stroke-dasharray="3 2"/>
<ellipse cx="836.74" cy="1561.28" rx="17.3" ry="14.8" fill="#0000A0" fill-opacity="0.4" stroke="#0000FF" stroke-width="1.0" stroke-opacity="0.75" stroke-dasharray="3 2"/>
<ellipse cx="839.04" cy="1558.87" rx="17.3" ry="14.8" fill="#0000A0" fill-opacity="0.4" stroke="#0000FF" stroke-width="1.0" stroke-opacity="0.75" stroke-dasharray="3 2"/>
<ellipse cx="841.35" cy="1556.46" rx="17.3" ry="14.8" fill="#0000A0" fill-opacity="0.4" stroke="#0000FF" stroke-width="1.0" stroke-opacity="0.75" stroke-dasharray="3 2"/>
<ellipse cx="843.65" cy="1554.04" rx="17.3" ry="14.8" fill="#0000A0" fill-opacity="0.4" stroke="#0000FF" stroke-width="1.0" stroke-opacity="0.75" stroke-dasharray="3 2"/>
<ellipse cx="845.96" cy="1551.63" rx="17.3" ry="14.8" fill="#0000A0" fill-opacity="0.4" stroke="#0000FF" stroke-width="1.0" stroke-opacity="0.75" stroke-dasharray="3 2"/>
<ellipse cx="848.26" cy="1549.22" rx="17.3" ry="14.8" fill="#0000A0" fill-opacity="0.4" stroke="#0000FF" stroke-width="1.0" stroke-opacity="0.75" stroke-dasharray="3 2"/>
<ellipse cx="850.57" cy="1546.8" rx="17.3" ry="14.8" fill="#0000A0" fill-opacity="0.4" stroke="#0000FF" stroke-width="1.0" stroke-opacity="0.75" stroke-dasharray="3 2"/>
<ellipse cx="852.87" cy="1544.39" rx="17.3" ry="14.8" fill="#0000A0" fill-opacity="0.4" stroke="#0000FF" stroke-width="1.0" stroke-opacity="0.75" stroke-dasharray="3 2"/>
<ellipse cx="855.17" cy="1541.98" rx="17.3" ry="14.8" fill="#0000A0" fill-opacity="0.4" stroke="#0000FF" stroke-width="1.0" stroke-opacity="0.75" stroke-dasharray="3 2"/>
<ellipse cx="857.48" cy="1539.57" rx="17.3" ry="14.8" fill="#0000A0" fill-opacity="0.4" stroke="#0000FF" stroke-width="1.0" stroke-opacity="0.75" stroke-dasharray="3 2"/>
<ellipse cx="859.78" cy="1537.15" rx="17.3" ry="14.8" fill="#0000A0" fill-opacity="0.4" stroke="#0000FF" stroke-width="1.0" stroke-opacity="0.75" stroke-dasharray="3 2"/>
<ellipse cx="862.09" cy="1534.74" rx="17.3" ry="14.8" fill="#0000A0" fill-opacity="0.4" stroke="#0000FF" stroke-width="1.0" stroke-opacity="0.75" stroke-dasharray="3 2"/>
<ellipse cx="864.39" cy="1532.33" rx="17.3" ry="14.8" fill="#0000A0" fill-opacity="0.4" stroke="#0000FF" stroke-width="1.0" stroke-opacity="0.75" stroke-dasharray="3 2"/>
<ellipse cx="866.7" cy="1529.91" rx="17.3" ry="14.8" fill="#0000A0" fill-opacity="0.4" stroke="#0000FF" stroke-width="1.0" stroke-opacity="0.75" stroke-dasharray="3 2"/>
<ellipse cx="869" cy="1527.5" rx="17.3" ry="14.8" fill="#0000A0" fill-opacity="0.4" stroke="#0000FF" stroke-width="1.0" stroke-opacity="0.75" stroke-dasharray="3 2"/>
<ellipse cx="873.5" cy="1523" rx="18" ry="15.3" fill="#4848C8" fill-opacity="0.2" stroke="#0000FF" stroke-width="1.0" stroke-opacity="0.75" stroke-dasharray="3 2"/>
<ellipse cx="877.4" cy="1519" rx="18" ry="15.3" fill="#4848C8" fill-opacity="0.2" stroke="#0000FF" stroke-width="1.0" stroke-opacity="0.75" stroke-dasharray="3 2"/>
<path d="M897.5 1508.5 Q903 1502 909 1502.5 Q918 1503 926 1511.5 L977 1569.5" fill="none" stroke="#8484F2" stroke-width="2.7" stroke-dasharray="2.7 2.7"/>
<g filter="url(#sh1)">
<path d="M892 1553 Q896.5 1541 906.5 1541.5 Q913.5 1541.5 919.5 1549.5 L963.64 1607.65" fill="none" stroke="#00A651" stroke-width="3.2"/>
<path d="M971.5 1618 L957.45 1609.83 L967.41 1602.27 Z" fill="#00A651" />
</g>
<g filter="url(#sh1)">
<line x1="834.8" y1="1622.8" x2="878.75" y2="1569.96" stroke="#FF0000" stroke-width="3.5"/>
<path d="M887.7 1559.2 L883.11 1574.89 L873.11 1566.58 Z" fill="#FF0000" />
</g>
<text x="813.4" y="1651.3" font-size="24" font-weight="bold" fill="#FF0000" text-anchor="start" >Stick</text>
<text x="954.2" y="1651.3" font-size="24" font-weight="bold" fill="#00A651" text-anchor="start" >Slip</text>
<path d="M1085.01 1465.26 L1046.71 1479.79 L1073.47 1481.67 L1036.04 1494.89 L1062.08 1496.83 L1020.31 1509.44 L1048.05 1513.22 L1005.65 1527.97 L1035.03 1527.68 L995.54 1542.61 L1026.02 1541.8 L987.81 1558.25 L1006.01 1561.07" fill="none" stroke="#000" stroke-width="3.1" stroke-linejoin="miter" stroke-miterlimit="12" filter="url(#sh)"/>
<rect x="1086" y="1440.5" width="60" height="50.5" fill="#A6A6A6" stroke="#000" stroke-width="3.2" filter="url(#sh)"/>
<g filter="url(#sh1)">
<line x1="1148" y1="1465" x2="1205" y2="1465" stroke="#000" stroke-width="2.8"/>
<path d="M1213 1465 L1204 1469.25 L1204 1460.75 Z" fill="#000" />
</g>
<text x="1162" y="1453.5" font-size="27" font-style="italic" font-weight="bold">F<tspan font-style="normal" font-size="17.5" dy="7" dx="-1.5">L</tspan></text>
<ellipse cx="1007.7" cy="1587.3" rx="17.3" ry="14.8" fill="#0000A0" fill-opacity="0.4" stroke="#0000FF" stroke-width="1.0" stroke-opacity="0.75"/>
<ellipse cx="1010" cy="1584.71" rx="17.3" ry="14.8" fill="#0000A0" fill-opacity="0.4" stroke="#0000FF" stroke-width="1.0" stroke-opacity="0.75"/>
<ellipse cx="1012.3" cy="1582.13" rx="17.3" ry="14.8" fill="#0000A0" fill-opacity="0.4" stroke="#0000FF" stroke-width="1.0" stroke-opacity="0.75"/>
<ellipse cx="1014.6" cy="1579.54" rx="17.3" ry="14.8" fill="#0000A0" fill-opacity="0.4" stroke="#0000FF" stroke-width="1.0" stroke-opacity="0.75"/>
<ellipse cx="1016.9" cy="1576.96" rx="17.3" ry="14.8" fill="#0000A0" fill-opacity="0.4" stroke="#0000FF" stroke-width="1.0" stroke-opacity="0.75"/>
<ellipse cx="1019.2" cy="1574.37" rx="17.3" ry="14.8" fill="#0000A0" fill-opacity="0.4" stroke="#0000FF" stroke-width="1.0" stroke-opacity="0.75"/>
<ellipse cx="1021.5" cy="1571.79" rx="17.3" ry="14.8" fill="#0000A0" fill-opacity="0.4" stroke="#0000FF" stroke-width="1.0" stroke-opacity="0.75"/>
<ellipse cx="1023.8" cy="1569.2" rx="17.3" ry="14.8" fill="#0000A0" fill-opacity="0.4" stroke="#0000FF" stroke-width="1.0" stroke-opacity="0.75"/>
<ellipse cx="1026.1" cy="1566.61" rx="17.3" ry="14.8" fill="#0000A0" fill-opacity="0.4" stroke="#0000FF" stroke-width="1.0" stroke-opacity="0.75"/>
<ellipse cx="1028.4" cy="1564.03" rx="17.3" ry="14.8" fill="#0000A0" fill-opacity="0.4" stroke="#0000FF" stroke-width="1.0" stroke-opacity="0.75"/>
<ellipse cx="1030.7" cy="1561.44" rx="17.3" ry="14.8" fill="#0000A0" fill-opacity="0.4" stroke="#0000FF" stroke-width="1.0" stroke-opacity="0.75"/>
<ellipse cx="1033" cy="1558.86" rx="17.3" ry="14.8" fill="#0000A0" fill-opacity="0.4" stroke="#0000FF" stroke-width="1.0" stroke-opacity="0.75"/>
<ellipse cx="1035.3" cy="1556.27" rx="17.3" ry="14.8" fill="#0000A0" fill-opacity="0.4" stroke="#0000FF" stroke-width="1.0" stroke-opacity="0.75"/>
<ellipse cx="1037.6" cy="1553.69" rx="17.3" ry="14.8" fill="#0000A0" fill-opacity="0.4" stroke="#0000FF" stroke-width="1.0" stroke-opacity="0.75"/>
<ellipse cx="1039.9" cy="1551.1" rx="17.3" ry="14.8" fill="#0000A0" fill-opacity="0.4" stroke="#0000FF" stroke-width="1.0" stroke-opacity="0.75"/>
<ellipse cx="1042.2" cy="1548.51" rx="17.3" ry="14.8" fill="#0000A0" fill-opacity="0.4" stroke="#0000FF" stroke-width="1.0" stroke-opacity="0.75"/>
<ellipse cx="1044.5" cy="1545.93" rx="17.3" ry="14.8" fill="#0000A0" fill-opacity="0.4" stroke="#0000FF" stroke-width="1.0" stroke-opacity="0.75"/>
<ellipse cx="1046.8" cy="1543.34" rx="17.3" ry="14.8" fill="#0000A0" fill-opacity="0.4" stroke="#0000FF" stroke-width="1.0" stroke-opacity="0.75"/>
<ellipse cx="1049.1" cy="1540.76" rx="17.3" ry="14.8" fill="#0000A0" fill-opacity="0.4" stroke="#0000FF" stroke-width="1.0" stroke-opacity="0.75"/>
<ellipse cx="1051.4" cy="1538.17" rx="17.3" ry="14.8" fill="#0000A0" fill-opacity="0.4" stroke="#0000FF" stroke-width="1.0" stroke-opacity="0.75"/>
<ellipse cx="1053.7" cy="1535.59" rx="17.3" ry="14.8" fill="#0000A0" fill-opacity="0.4" stroke="#0000FF" stroke-width="1.0" stroke-opacity="0.75"/>
<ellipse cx="1056" cy="1533" rx="17.3" ry="14.8" fill="#0000A0" fill-opacity="0.4" stroke="#0000FF" stroke-width="1.0" stroke-opacity="0.75"/>
<ellipse cx="1061" cy="1527.5" rx="18" ry="15.3" fill="#4848C8" fill-opacity="0.2" stroke="#0000FF" stroke-width="1.0" stroke-opacity="0.75"/>
<ellipse cx="1066.3" cy="1521.6" rx="18" ry="15.3" fill="#4848C8" fill-opacity="0.2" stroke="#0000FF" stroke-width="1.0" stroke-opacity="0.75"/>
<path d="M1095 1509 Q1101 1502.5 1107 1503 Q1116 1503.5 1124 1512 L1175.5 1569.5" fill="none" stroke="#8484F2" stroke-width="2.7" stroke-dasharray="2.7 2.7"/>
<g filter="url(#sh1)">
<path d="M1087.5 1552.5 Q1091.5 1540.5 1101.5 1541 Q1108.5 1541 1114.5 1549 L1159.58 1607.69" fill="none" stroke="#00A651" stroke-width="3.2"/>
<path d="M1167.5 1618 L1153.41 1609.91 L1163.32 1602.3 Z" fill="#00A651" />
</g>
<g filter="url(#sh1)">
<line x1="1030" y1="1621.5" x2="1073.95" y2="1569.68" stroke="#FF0000" stroke-width="3.5"/>
<path d="M1083 1559 L1078.26 1574.64 L1068.34 1566.24 Z" fill="#FF0000" />
</g>
<ellipse cx="1193.4" cy="1587.8" rx="18.4" ry="15.7" fill="#D0D5E0" stroke="#0000FF" stroke-width="1.1" filter="url(#sh1)"/>
<text x="1007.9" y="1651.3" font-size="24" font-weight="bold" fill="#FF0000" text-anchor="start" >Stick</text>
<text x="1150.7" y="1651.3" font-size="24" font-weight="bold" fill="#00A651" text-anchor="start" >Slip</text>
<rect x="721.3" y="1426.1" width="564.7" height="235.4" rx="14" fill="none" stroke="#00A651" stroke-width="3" stroke-dasharray="12.5 8.5"/>
<text x="729.5" y="1471" font-size="46" font-weight="bold" fill="#000" text-anchor="start" >j</text>
<clipPath id="cpk"><rect x="1352.8" y="1429" width="564.3" height="232.2" rx="14"/></clipPath>
<linearGradient id="ogk" x1="0" y1="1524.5" x2="0" y2="1661.2" gradientUnits="userSpaceOnUse"><stop offset="0" stop-color="#F98B1F" stop-opacity="1"/><stop offset="0.06" stop-color="#F98F28" stop-opacity="1"/><stop offset="0.21" stop-color="#F9A552" stop-opacity="1"/><stop offset="0.43" stop-color="#F9C288" stop-opacity="1"/><stop offset="0.65" stop-color="#F8DAB0" stop-opacity="1"/><stop offset="0.8" stop-color="#F8E6CC" stop-opacity="0.75"/><stop offset="0.9" stop-color="#F8EEDC" stop-opacity="0.5"/><stop offset="1" stop-color="#FFF8EC" stop-opacity="0.0"/></linearGradient>
<rect x="1352.8" y="1429" width="564.3" height="232.2" rx="14" fill="#DAE3F3" filter="url(#shp)"/>
<g clip-path="url(#cpk)">
<path d="M1349.8 1524.5 L1352.19 1524.58 L1354.57 1524.84 L1356.96 1525.3 L1359.34 1525.94 L1361.73 1526.77 L1364.12 1527.78 L1366.5 1528.99 L1368.89 1530.38 L1371.28 1531.96 L1373.66 1533.72 L1376.05 1535.66 L1378.43 1537.78 L1380.82 1540.07 L1383.21 1542.52 L1385.59 1545.14 L1387.98 1547.9 L1390.37 1550.79 L1392.75 1553.82 L1395.14 1556.95 L1397.52 1560.17 L1399.91 1563.47 L1402.3 1566.82 L1404.68 1570.21 L1407.07 1573.6 L1409.45 1576.98 L1411.84 1580.32 L1414.23 1583.6 L1416.61 1586.78 L1419 1589.85 L1421.39 1592.78 L1423.77 1595.54 L1426.16 1598.1 L1428.54 1600.45 L1430.93 1602.57 L1433.32 1604.42 L1435.7 1606.01 L1438.09 1607.3 L1440.48 1608.29 L1442.86 1608.97 L1445.25 1609.34 L1447.63 1609.38 L1450.02 1609.1 L1452.41 1608.5 L1454.79 1607.59 L1457.18 1606.37 L1459.56 1604.86 L1461.95 1603.07 L1464.34 1601.02 L1466.72 1598.73 L1469.11 1596.22 L1471.5 1593.51 L1473.88 1590.63 L1476.27 1587.59 L1478.65 1584.43 L1481.04 1581.18 L1483.43 1577.85 L1485.81 1574.48 L1488.2 1571.09 L1490.59 1567.7 L1492.97 1564.33 L1495.36 1561.02 L1497.74 1557.78 L1500.13 1554.62 L1502.52 1551.57 L1504.9 1548.64 L1507.29 1545.84 L1509.67 1543.18 L1512.06 1540.69 L1514.45 1538.35 L1516.83 1536.19 L1519.22 1534.2 L1521.61 1532.39 L1523.99 1530.77 L1526.38 1529.33 L1528.76 1528.08 L1531.15 1527.01 L1533.54 1526.14 L1535.92 1525.45 L1538.31 1524.94 L1540.7 1524.63 L1543.08 1524.5 L1545.47 1524.57 L1547.85 1524.82 L1550.24 1525.26 L1552.63 1525.9 L1555.01 1526.73 L1557.4 1527.75 L1559.78 1528.97 L1562.17 1530.37 L1564.56 1531.96 L1566.94 1533.74 L1569.33 1535.7 L1571.72 1537.85 L1574.1 1540.17 L1576.49 1542.66 L1578.87 1545.3 L1581.26 1548.1 L1583.65 1551.04 L1586.03 1554.1 L1588.42 1557.28 L1590.81 1560.55 L1593.19 1563.89 L1595.58 1567.3 L1597.96 1570.73 L1600.35 1574.18 L1602.74 1577.61 L1605.12 1581.01 L1607.51 1584.34 L1609.89 1587.58 L1612.28 1590.71 L1614.67 1593.69 L1617.05 1596.5 L1619.44 1599.12 L1621.83 1601.53 L1624.21 1603.69 L1626.6 1605.6 L1628.98 1607.23 L1631.37 1608.57 L1633.76 1609.6 L1636.14 1610.32 L1638.53 1610.72 L1640.92 1610.79 L1643.3 1610.53 L1645.69 1609.96 L1648.07 1609.06 L1650.46 1607.86 L1652.85 1606.35 L1655.23 1604.57 L1657.62 1602.51 L1660.01 1600.21 L1662.39 1597.69 L1664.78 1594.96 L1667.16 1592.05 L1669.55 1588.98 L1671.94 1585.79 L1674.32 1582.49 L1676.71 1579.12 L1679.09 1575.7 L1681.48 1572.26 L1683.87 1568.81 L1686.25 1565.39 L1688.64 1562.02 L1691.03 1558.71 L1693.41 1555.5 L1695.8 1552.38 L1698.18 1549.38 L1700.57 1546.52 L1702.96 1543.81 L1705.34 1541.25 L1707.73 1538.85 L1710.12 1536.63 L1712.5 1534.59 L1714.89 1532.73 L1717.27 1531.05 L1719.66 1529.56 L1722.05 1528.27 L1724.43 1527.16 L1726.82 1526.25 L1729.2 1525.52 L1731.59 1524.99 L1733.98 1524.65 L1736.36 1524.51 L1738.75 1524.55 L1741.14 1524.79 L1743.52 1525.22 L1745.91 1525.84 L1748.29 1526.65 L1750.68 1527.65 L1753.07 1528.85 L1755.45 1530.23 L1757.84 1531.81 L1760.23 1533.57 L1762.61 1535.52 L1765 1537.65 L1767.38 1539.95 L1769.77 1542.42 L1772.16 1545.05 L1774.54 1547.84 L1776.93 1550.77 L1779.31 1553.82 L1781.7 1556.98 L1784.09 1560.25 L1786.47 1563.59 L1788.86 1566.98 L1791.25 1570.42 L1793.63 1573.86 L1796.02 1577.3 L1798.4 1580.7 L1800.79 1584.04 L1803.18 1587.29 L1805.56 1590.43 L1807.95 1593.42 L1810.34 1596.25 L1812.72 1598.89 L1815.11 1601.32 L1817.49 1603.5 L1819.88 1605.43 L1822.27 1607.09 L1824.65 1608.46 L1827.04 1609.52 L1829.42 1610.27 L1831.81 1610.69 L1834.2 1610.79 L1836.58 1610.57 L1838.97 1610.02 L1841.36 1609.16 L1843.74 1607.98 L1846.13 1606.5 L1848.51 1604.74 L1850.9 1602.71 L1853.29 1600.43 L1855.67 1597.93 L1858.06 1595.21 L1860.45 1592.32 L1862.83 1589.27 L1865.22 1586.09 L1867.6 1582.8 L1869.99 1579.43 L1872.38 1576.02 L1874.76 1572.57 L1877.15 1569.13 L1879.53 1565.71 L1881.92 1562.33 L1884.31 1559.01 L1886.69 1555.79 L1889.08 1552.66 L1891.47 1549.65 L1893.85 1546.78 L1896.24 1544.05 L1898.62 1541.47 L1901.01 1539.06 L1903.4 1536.83 L1905.78 1534.77 L1908.17 1532.89 L1910.56 1531.2 L1912.94 1529.69 L1915.33 1528.38 L1917.71 1527.25 L1920.1 1526.32 L1920.1 1664.2 L1349.8 1664.2 Z" fill="url(#ogk)"/>
<path d="M1349.8 1524.5 L1352.19 1524.58 L1354.57 1524.84 L1356.96 1525.3 L1359.34 1525.94 L1361.73 1526.77 L1364.12 1527.78 L1366.5 1528.99 L1368.89 1530.38 L1371.28 1531.96 L1373.66 1533.72 L1376.05 1535.66 L1378.43 1537.78 L1380.82 1540.07 L1383.21 1542.52 L1385.59 1545.14 L1387.98 1547.9 L1390.37 1550.79 L1392.75 1553.82 L1395.14 1556.95 L1397.52 1560.17 L1399.91 1563.47 L1402.3 1566.82 L1404.68 1570.21 L1407.07 1573.6 L1409.45 1576.98 L1411.84 1580.32 L1414.23 1583.6 L1416.61 1586.78 L1419 1589.85 L1421.39 1592.78 L1423.77 1595.54 L1426.16 1598.1 L1428.54 1600.45 L1430.93 1602.57 L1433.32 1604.42 L1435.7 1606.01 L1438.09 1607.3 L1440.48 1608.29 L1442.86 1608.97 L1445.25 1609.34 L1447.63 1609.38 L1450.02 1609.1 L1452.41 1608.5 L1454.79 1607.59 L1457.18 1606.37 L1459.56 1604.86 L1461.95 1603.07 L1464.34 1601.02 L1466.72 1598.73 L1469.11 1596.22 L1471.5 1593.51 L1473.88 1590.63 L1476.27 1587.59 L1478.65 1584.43 L1481.04 1581.18 L1483.43 1577.85 L1485.81 1574.48 L1488.2 1571.09 L1490.59 1567.7 L1492.97 1564.33 L1495.36 1561.02 L1497.74 1557.78 L1500.13 1554.62 L1502.52 1551.57 L1504.9 1548.64 L1507.29 1545.84 L1509.67 1543.18 L1512.06 1540.69 L1514.45 1538.35 L1516.83 1536.19 L1519.22 1534.2 L1521.61 1532.39 L1523.99 1530.77 L1526.38 1529.33 L1528.76 1528.08 L1531.15 1527.01 L1533.54 1526.14 L1535.92 1525.45 L1538.31 1524.94 L1540.7 1524.63 L1543.08 1524.5 L1545.47 1524.57 L1547.85 1524.82 L1550.24 1525.26 L1552.63 1525.9 L1555.01 1526.73 L1557.4 1527.75 L1559.78 1528.97 L1562.17 1530.37 L1564.56 1531.96 L1566.94 1533.74 L1569.33 1535.7 L1571.72 1537.85 L1574.1 1540.17 L1576.49 1542.66 L1578.87 1545.3 L1581.26 1548.1 L1583.65 1551.04 L1586.03 1554.1 L1588.42 1557.28 L1590.81 1560.55 L1593.19 1563.89 L1595.58 1567.3 L1597.96 1570.73 L1600.35 1574.18 L1602.74 1577.61 L1605.12 1581.01 L1607.51 1584.34 L1609.89 1587.58 L1612.28 1590.71 L1614.67 1593.69 L1617.05 1596.5 L1619.44 1599.12 L1621.83 1601.53 L1624.21 1603.69 L1626.6 1605.6 L1628.98 1607.23 L1631.37 1608.57 L1633.76 1609.6 L1636.14 1610.32 L1638.53 1610.72 L1640.92 1610.79 L1643.3 1610.53 L1645.69 1609.96 L1648.07 1609.06 L1650.46 1607.86 L1652.85 1606.35 L1655.23 1604.57 L1657.62 1602.51 L1660.01 1600.21 L1662.39 1597.69 L1664.78 1594.96 L1667.16 1592.05 L1669.55 1588.98 L1671.94 1585.79 L1674.32 1582.49 L1676.71 1579.12 L1679.09 1575.7 L1681.48 1572.26 L1683.87 1568.81 L1686.25 1565.39 L1688.64 1562.02 L1691.03 1558.71 L1693.41 1555.5 L1695.8 1552.38 L1698.18 1549.38 L1700.57 1546.52 L1702.96 1543.81 L1705.34 1541.25 L1707.73 1538.85 L1710.12 1536.63 L1712.5 1534.59 L1714.89 1532.73 L1717.27 1531.05 L1719.66 1529.56 L1722.05 1528.27 L1724.43 1527.16 L1726.82 1526.25 L1729.2 1525.52 L1731.59 1524.99 L1733.98 1524.65 L1736.36 1524.51 L1738.75 1524.55 L1741.14 1524.79 L1743.52 1525.22 L1745.91 1525.84 L1748.29 1526.65 L1750.68 1527.65 L1753.07 1528.85 L1755.45 1530.23 L1757.84 1531.81 L1760.23 1533.57 L1762.61 1535.52 L1765 1537.65 L1767.38 1539.95 L1769.77 1542.42 L1772.16 1545.05 L1774.54 1547.84 L1776.93 1550.77 L1779.31 1553.82 L1781.7 1556.98 L1784.09 1560.25 L1786.47 1563.59 L1788.86 1566.98 L1791.25 1570.42 L1793.63 1573.86 L1796.02 1577.3 L1798.4 1580.7 L1800.79 1584.04 L1803.18 1587.29 L1805.56 1590.43 L1807.95 1593.42 L1810.34 1596.25 L1812.72 1598.89 L1815.11 1601.32 L1817.49 1603.5 L1819.88 1605.43 L1822.27 1607.09 L1824.65 1608.46 L1827.04 1609.52 L1829.42 1610.27 L1831.81 1610.69 L1834.2 1610.79 L1836.58 1610.57 L1838.97 1610.02 L1841.36 1609.16 L1843.74 1607.98 L1846.13 1606.5 L1848.51 1604.74 L1850.9 1602.71 L1853.29 1600.43 L1855.67 1597.93 L1858.06 1595.21 L1860.45 1592.32 L1862.83 1589.27 L1865.22 1586.09 L1867.6 1582.8 L1869.99 1579.43 L1872.38 1576.02 L1874.76 1572.57 L1877.15 1569.13 L1879.53 1565.71 L1881.92 1562.33 L1884.31 1559.01 L1886.69 1555.79 L1889.08 1552.66 L1891.47 1549.65 L1893.85 1546.78 L1896.24 1544.05 L1898.62 1541.47 L1901.01 1539.06 L1903.4 1536.83 L1905.78 1534.77 L1908.17 1532.89 L1910.56 1531.2 L1912.94 1529.69 L1915.33 1528.38 L1917.71 1527.25 L1920.1 1526.32" fill="none" stroke="#000" stroke-width="5.6" filter="url(#shw)"/>
</g>
<rect x="1459.2" y="1437.3" width="60.5" height="49.5" fill="#9A9A9A" fill-opacity="0.42" stroke="none"/>
<rect x="1459.2" y="1437.3" width="60.5" height="49.5" fill="none" stroke="#000" stroke-width="3.2" stroke-dasharray="3.2 3" filter="url(#sh)"/>
<g filter="url(#sh1)">
<line x1="1521.5" y1="1462.8" x2="1549.5" y2="1462.8" stroke="#000" stroke-width="2.8" stroke-dasharray="3 2.6"/>
<path d="M1557.5 1462.8 L1548.5 1467.05 L1548.5 1458.55 Z" fill="#000" />
</g>
<path d="M1488.41 1488.01 L1471.99 1490.17 L1488 1494.25 L1466.8 1497.88 L1480.56 1503.42 L1461.05 1504.84 L1475.46 1511.31 L1456.09 1516.45 L1478.18 1520.83 L1457.27 1526.75 L1469.5 1530.85 L1456.72 1532.9 L1462.82 1537.82" fill="none" stroke="#000" stroke-width="2.9" stroke-dasharray="3 2.4" stroke-linejoin="miter" stroke-miterlimit="12" filter="url(#sh)"/>
<ellipse cx="1469.5" cy="1568.6" rx="17.3" ry="14.8" fill="#4848C8" fill-opacity="0.2" stroke="#0000FF" stroke-width="1.0" stroke-opacity="0.75" stroke-dasharray="3 2"/>
<ellipse cx="1478.08" cy="1557.9" rx="17.3" ry="14.8" fill="#4848C8" fill-opacity="0.2" stroke="#0000FF" stroke-width="1.0" stroke-opacity="0.75" stroke-dasharray="3 2"/>
<ellipse cx="1486.65" cy="1547.2" rx="17.3" ry="14.8" fill="#4848C8" fill-opacity="0.2" stroke="#0000FF" stroke-width="1.0" stroke-opacity="0.75" stroke-dasharray="3 2"/>
<ellipse cx="1495.22" cy="1536.5" rx="17.3" ry="14.8" fill="#4848C8" fill-opacity="0.2" stroke="#0000FF" stroke-width="1.0" stroke-opacity="0.75" stroke-dasharray="3 2"/>
<ellipse cx="1503.8" cy="1525.8" rx="17.3" ry="14.8" fill="#4848C8" fill-opacity="0.2" stroke="#0000FF" stroke-width="1.0" stroke-opacity="0.75" stroke-dasharray="3 2"/>
<ellipse cx="1514" cy="1515.6" rx="18" ry="15.3" fill="#4848C8" fill-opacity="0.2" stroke="#0000FF" stroke-width="1.0" stroke-opacity="0.75" stroke-dasharray="3 2"/>
<ellipse cx="1451.5" cy="1590" rx="17.3" ry="14.8" fill="#1010F5" fill-opacity="0.6" stroke="#0000FF" stroke-width="1.0" stroke-opacity="0.75" stroke-dasharray="3 2"/>
<ellipse cx="1452.5" cy="1588.82" rx="17.3" ry="14.8" fill="#1010F5" fill-opacity="0.6" stroke="#0000FF" stroke-width="1.0" stroke-opacity="0.75" stroke-dasharray="3 2"/>
<ellipse cx="1453.5" cy="1587.64" rx="17.3" ry="14.8" fill="#1010F5" fill-opacity="0.6" stroke="#0000FF" stroke-width="1.0" stroke-opacity="0.75" stroke-dasharray="3 2"/>
<ellipse cx="1454.5" cy="1586.45" rx="17.3" ry="14.8" fill="#1010F5" fill-opacity="0.6" stroke="#0000FF" stroke-width="1.0" stroke-opacity="0.75" stroke-dasharray="3 2"/>
<ellipse cx="1455.5" cy="1585.27" rx="17.3" ry="14.8" fill="#1010F5" fill-opacity="0.6" stroke="#0000FF" stroke-width="1.0" stroke-opacity="0.75" stroke-dasharray="3 2"/>
<ellipse cx="1456.5" cy="1584.09" rx="17.3" ry="14.8" fill="#1010F5" fill-opacity="0.6" stroke="#0000FF" stroke-width="1.0" stroke-opacity="0.75" stroke-dasharray="3 2"/>
<ellipse cx="1457.5" cy="1582.91" rx="17.3" ry="14.8" fill="#1010F5" fill-opacity="0.6" stroke="#0000FF" stroke-width="1.0" stroke-opacity="0.75" stroke-dasharray="3 2"/>
<ellipse cx="1458.5" cy="1581.73" rx="17.3" ry="14.8" fill="#1010F5" fill-opacity="0.6" stroke="#0000FF" stroke-width="1.0" stroke-opacity="0.75" stroke-dasharray="3 2"/>
<ellipse cx="1459.5" cy="1580.55" rx="17.3" ry="14.8" fill="#1010F5" fill-opacity="0.6" stroke="#0000FF" stroke-width="1.0" stroke-opacity="0.75" stroke-dasharray="3 2"/>
<ellipse cx="1460.5" cy="1579.36" rx="17.3" ry="14.8" fill="#1010F5" fill-opacity="0.6" stroke="#0000FF" stroke-width="1.0" stroke-opacity="0.75" stroke-dasharray="3 2"/>
<ellipse cx="1461.5" cy="1578.18" rx="17.3" ry="14.8" fill="#1010F5" fill-opacity="0.6" stroke="#0000FF" stroke-width="1.0" stroke-opacity="0.75" stroke-dasharray="3 2"/>
<ellipse cx="1462.5" cy="1577" rx="17.3" ry="14.8" fill="#1010F5" fill-opacity="0.6" stroke="#0000FF" stroke-width="1.0" stroke-opacity="0.75" stroke-dasharray="3 2"/>
<path d="M1533.6 1509.7 Q1539 1504 1545 1504.5 Q1554 1505 1562 1513.5 L1613 1570.2" fill="none" stroke="#8484F2" stroke-width="2.7" stroke-dasharray="2.7 2.7"/>
<g filter="url(#sh1)">
<path d="M1529 1551.5 Q1532.2 1539.9 1542.2 1540.4 Q1549.2 1540.4 1555.2 1548.4 L1599.9 1606.87" fill="none" stroke="#00A651" stroke-width="3.2"/>
<path d="M1607.8 1617.2 L1593.72 1609.08 L1603.65 1601.49 Z" fill="#00A651" />
</g>
<g filter="url(#sh1)">
<line x1="1476.5" y1="1616.3" x2="1485.9" y2="1604.63" stroke="#FF00FF" stroke-width="2.4" />
<path d="M1485.9 1604.63 L1482.41 1619.8 L1471.82 1611.27 Z" fill="#FF00FF" />
<line x1="1485.9" y1="1604.63" x2="1496.3" y2="1591.74" stroke="#FF00FF" stroke-width="2.4" />
<path d="M1496.3 1591.74 L1492.81 1606.91 L1482.22 1598.37 Z" fill="#FF00FF" />
<line x1="1496.3" y1="1591.74" x2="1509.17" y2="1575.78" stroke="#FF31DC" stroke-width="2.4" />
<path d="M1509.17 1575.78 L1505.68 1590.94 L1495.09 1582.41 Z" fill="#FF31DC" />
<line x1="1509.17" y1="1575.78" x2="1526" y2="1554.9" stroke="#FF73AF" stroke-width="2.4" />
<path d="M1526 1554.9 L1522.51 1570.07 L1511.92 1561.53 Z" fill="#FF73AF" />
</g>
<g filter="url(#sh1)">
<line x1="1452.6" y1="1626.5" x2="1462.38" y2="1622.61" stroke="#FF0000" stroke-width="3.5"/>
<path d="M1474 1618 L1463.67 1628.56 L1459.24 1617.41 Z" fill="#FF0000" />
</g>
<text x="1400.6" y="1650.4" font-size="24" font-weight="bold" fill="#FF0000" text-anchor="start" >Stick</text>
<text x="1466.2" y="1650.4" font-size="24" font-weight="bold" fill="#FF00FF" text-anchor="start" >Activation</text>
<text x="1595.4" y="1650.4" font-size="24" font-weight="bold" fill="#00A651" text-anchor="start" >Slip</text>
<path d="M1670.3 1488.6 L1686.94 1494.03 L1671.49 1497.58 L1683.65 1502.81 L1666.89 1506.03 L1679.45 1511.98 L1661.34 1516.44 L1675.49 1521.15 L1659.56 1525.31 L1672.1 1529.47 L1656.74 1533.84 L1665.9 1538.9" fill="none" stroke="#000" stroke-width="3.1" stroke-linejoin="miter" stroke-miterlimit="12" filter="url(#sh)"/>
<rect x="1660.6" y="1437" width="60.5" height="50" fill="#A6A6A6" stroke="#000" stroke-width="3.2" filter="url(#sh)"/>
<g filter="url(#sh1)">
<line x1="1722.5" y1="1462.8" x2="1750.8" y2="1462.8" stroke="#000" stroke-width="2.8"/>
<path d="M1758.8 1462.8 L1749.8 1467.05 L1749.8 1458.55 Z" fill="#000" />
</g>
<text x="1753.6" y="1453.4" font-size="27" font-style="italic" font-weight="bold">F<tspan font-style="normal" font-size="17.5" dy="7" dx="-1.5">L</tspan></text>
<ellipse cx="1666" cy="1569.4" rx="17.3" ry="14.8" fill="#4848C8" fill-opacity="0.2" stroke="#0000FF" stroke-width="1.0" stroke-opacity="0.75"/>
<ellipse cx="1675.3" cy="1560.5" rx="18" ry="15.3" fill="#4848C8" fill-opacity="0.2" stroke="#0000FF" stroke-width="1.0" stroke-opacity="0.75"/>
<ellipse cx="1678.9" cy="1550" rx="18" ry="15.3" fill="#4848C8" fill-opacity="0.2" stroke="#0000FF" stroke-width="1.0" stroke-opacity="0.75"/>
<ellipse cx="1687.8" cy="1541" rx="18" ry="15.3" fill="#4848C8" fill-opacity="0.2" stroke="#0000FF" stroke-width="1.0" stroke-opacity="0.75"/>
<ellipse cx="1699" cy="1529.5" rx="18" ry="15.3" fill="#4848C8" fill-opacity="0.2" stroke="#0000FF" stroke-width="1.0" stroke-opacity="0.75"/>
<ellipse cx="1712.6" cy="1517.7" rx="18" ry="15.3" fill="#4848C8" fill-opacity="0.2" stroke="#0000FF" stroke-width="1.0" stroke-opacity="0.75"/>
<ellipse cx="1649.5" cy="1593" rx="17.3" ry="14.8" fill="#1010F5" fill-opacity="0.6" stroke="#0000FF" stroke-width="1.0" stroke-opacity="0.75"/>
<ellipse cx="1650.45" cy="1591.82" rx="17.3" ry="14.8" fill="#1010F5" fill-opacity="0.6" stroke="#0000FF" stroke-width="1.0" stroke-opacity="0.75"/>
<ellipse cx="1651.41" cy="1590.64" rx="17.3" ry="14.8" fill="#1010F5" fill-opacity="0.6" stroke="#0000FF" stroke-width="1.0" stroke-opacity="0.75"/>
<ellipse cx="1652.36" cy="1589.45" rx="17.3" ry="14.8" fill="#1010F5" fill-opacity="0.6" stroke="#0000FF" stroke-width="1.0" stroke-opacity="0.75"/>
<ellipse cx="1653.32" cy="1588.27" rx="17.3" ry="14.8" fill="#1010F5" fill-opacity="0.6" stroke="#0000FF" stroke-width="1.0" stroke-opacity="0.75"/>
<ellipse cx="1654.27" cy="1587.09" rx="17.3" ry="14.8" fill="#1010F5" fill-opacity="0.6" stroke="#0000FF" stroke-width="1.0" stroke-opacity="0.75"/>
<ellipse cx="1655.23" cy="1585.91" rx="17.3" ry="14.8" fill="#1010F5" fill-opacity="0.6" stroke="#0000FF" stroke-width="1.0" stroke-opacity="0.75"/>
<ellipse cx="1656.18" cy="1584.73" rx="17.3" ry="14.8" fill="#1010F5" fill-opacity="0.6" stroke="#0000FF" stroke-width="1.0" stroke-opacity="0.75"/>
<ellipse cx="1657.14" cy="1583.55" rx="17.3" ry="14.8" fill="#1010F5" fill-opacity="0.6" stroke="#0000FF" stroke-width="1.0" stroke-opacity="0.75"/>
<ellipse cx="1658.09" cy="1582.36" rx="17.3" ry="14.8" fill="#1010F5" fill-opacity="0.6" stroke="#0000FF" stroke-width="1.0" stroke-opacity="0.75"/>
<ellipse cx="1659.05" cy="1581.18" rx="17.3" ry="14.8" fill="#1010F5" fill-opacity="0.6" stroke="#0000FF" stroke-width="1.0" stroke-opacity="0.75"/>
<ellipse cx="1660" cy="1580" rx="17.3" ry="14.8" fill="#1010F5" fill-opacity="0.6" stroke="#0000FF" stroke-width="1.0" stroke-opacity="0.75"/>
<path d="M1730.6 1509.3 Q1736 1504 1742 1504.5 Q1751 1505 1759 1513.5 L1810.8 1570.2" fill="none" stroke="#8484F2" stroke-width="2.7" stroke-dasharray="2.7 2.7"/>
<g filter="url(#sh1)">
<path d="M1726.7 1552.3 Q1730.9 1540.7 1740.9 1541.2 Q1747.9 1541.2 1753.9 1549.2 L1797.88 1607.61" fill="none" stroke="#00A651" stroke-width="3.2"/>
<path d="M1805.7 1618 L1791.68 1609.78 L1801.67 1602.26 Z" fill="#00A651" />
</g>
<g filter="url(#sh1)">
<line x1="1673.5" y1="1617.2" x2="1683.06" y2="1605.52" stroke="#FF00FF" stroke-width="2.4" />
<path d="M1683.06 1605.52 L1679.46 1620.66 L1668.93 1612.05 Z" fill="#FF00FF" />
<line x1="1683.06" y1="1605.52" x2="1693.62" y2="1592.6" stroke="#FF00FF" stroke-width="2.4" />
<path d="M1693.62 1592.6 L1690.02 1607.74 L1679.49 1599.13 Z" fill="#FF00FF" />
<line x1="1693.62" y1="1592.6" x2="1706.7" y2="1576.61" stroke="#FF31DC" stroke-width="2.4" />
<path d="M1706.7 1576.61 L1703.1 1591.75 L1692.57 1583.14 Z" fill="#FF31DC" />
<line x1="1706.7" y1="1576.61" x2="1723.8" y2="1555.7" stroke="#FF73AF" stroke-width="2.4" />
<path d="M1723.8 1555.7 L1720.2 1570.84 L1709.67 1562.23 Z" fill="#FF73AF" />
</g>
<g filter="url(#sh1)">
<line x1="1650" y1="1627.4" x2="1659.43" y2="1623.54" stroke="#FF0000" stroke-width="3.5"/>
<path d="M1671 1618.8 L1660.78 1629.47 L1656.23 1618.36 Z" fill="#FF0000" />
</g>
<ellipse cx="1829.2" cy="1589.9" rx="18.4" ry="15.7" fill="#C2CAE8" stroke="#0000FF" stroke-width="1.1" filter="url(#sh1)"/>
<text x="1647.9" y="1650.4" font-size="24" font-weight="bold" fill="#FF0000" text-anchor="start" >Stick</text>
<text x="1711.9" y="1650.4" font-size="24" font-weight="bold" fill="#FF00FF" text-anchor="start" >Activation</text>
<text x="1836.4" y="1650.4" font-size="24" font-weight="bold" fill="#00A651" text-anchor="start" >Slip</text>
<rect x="1352.8" y="1429" width="564.3" height="232.2" rx="14" fill="none" stroke="#1414F0" stroke-width="3" stroke-dasharray="12.5 8.5"/>
<text x="1364" y="1474" font-size="46" font-weight="bold" fill="#000" text-anchor="start" >k</text>
</svg>
</body></html>
